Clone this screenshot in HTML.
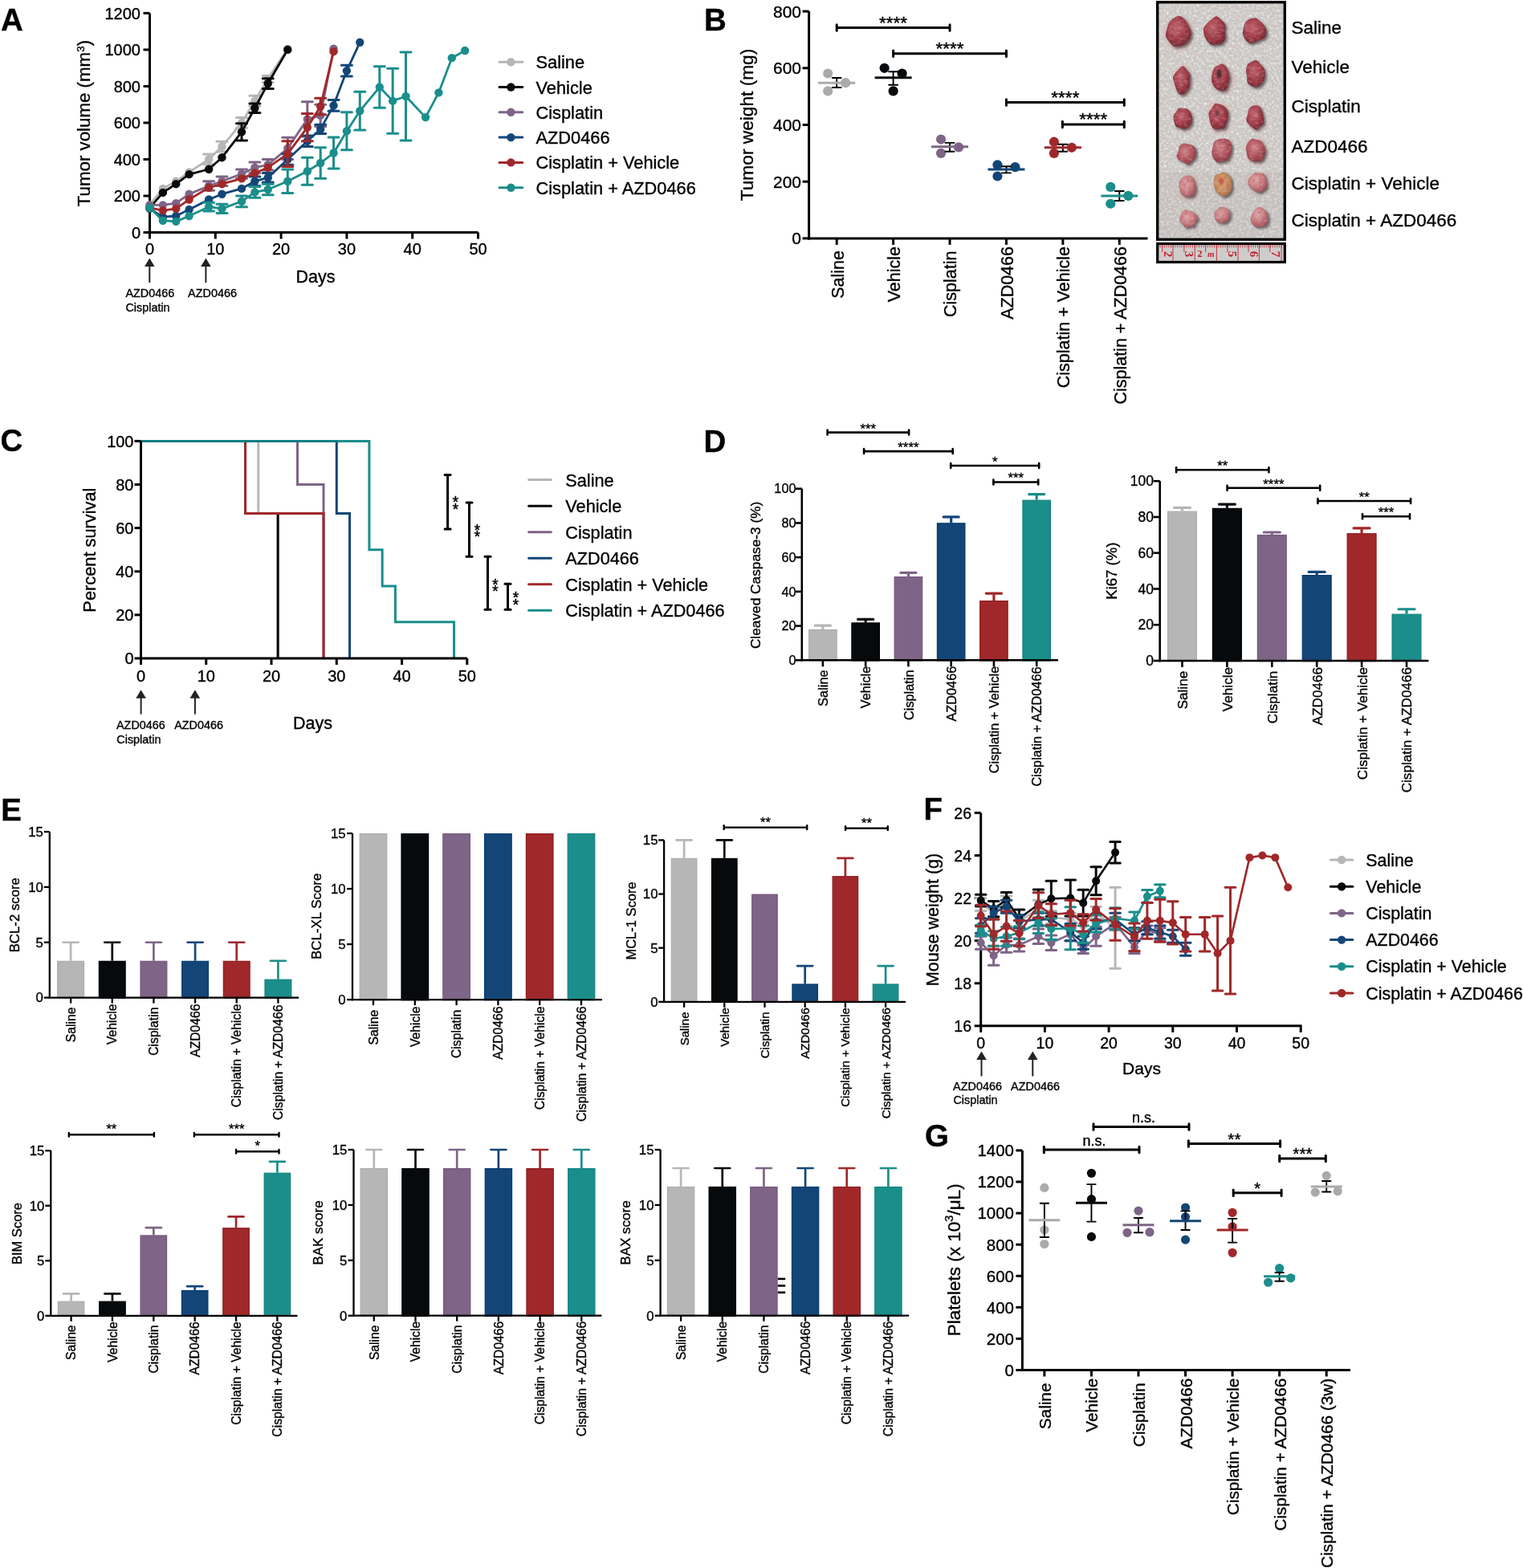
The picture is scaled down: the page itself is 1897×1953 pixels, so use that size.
<!DOCTYPE html>
<html><head><meta charset="utf-8"><style>html,body{margin:0;padding:0;background:#fff}svg{display:block} text{stroke:#000;stroke-width:0.35px} text.r{stroke:none}</style></head>
<body><svg width="1897" height="1953" viewBox="0 0 1897 1953" font-family='"Liberation Sans", Arial, sans-serif'>
<rect width="1897" height="1953" fill="#fff"/>
<text x="1" y="38" font-size="38.5" font-weight="bold">A</text>
<line x1="186.5" y1="291" x2="186.5" y2="16.4" stroke="#000" stroke-width="3" stroke-linecap="butt"/>
<line x1="178.5" y1="289.5" x2="186.5" y2="289.5" stroke="#000" stroke-width="3" stroke-linecap="butt"/>
<text x="175" y="296.8" font-size="20" text-anchor="end">0</text>
<line x1="178.5" y1="243.98" x2="186.5" y2="243.98" stroke="#000" stroke-width="3" stroke-linecap="butt"/>
<text x="175" y="251.28" font-size="20" text-anchor="end">200</text>
<line x1="178.5" y1="198.47" x2="186.5" y2="198.47" stroke="#000" stroke-width="3" stroke-linecap="butt"/>
<text x="175" y="205.77" font-size="20" text-anchor="end">400</text>
<line x1="178.5" y1="152.95" x2="186.5" y2="152.95" stroke="#000" stroke-width="3" stroke-linecap="butt"/>
<text x="175" y="160.25" font-size="20" text-anchor="end">600</text>
<line x1="178.5" y1="107.43" x2="186.5" y2="107.43" stroke="#000" stroke-width="3" stroke-linecap="butt"/>
<text x="175" y="114.73" font-size="20" text-anchor="end">800</text>
<line x1="178.5" y1="61.92" x2="186.5" y2="61.92" stroke="#000" stroke-width="3" stroke-linecap="butt"/>
<text x="175" y="69.22" font-size="20" text-anchor="end">1000</text>
<line x1="178.5" y1="16.4" x2="186.5" y2="16.4" stroke="#000" stroke-width="3" stroke-linecap="butt"/>
<text x="175" y="23.7" font-size="20" text-anchor="end">1200</text>
<line x1="185" y1="289.5" x2="595.5" y2="289.5" stroke="#000" stroke-width="3" stroke-linecap="butt"/>
<line x1="186.5" y1="289.5" x2="186.5" y2="297.5" stroke="#000" stroke-width="3" stroke-linecap="butt"/>
<text x="186.5" y="316.7" font-size="20" text-anchor="middle">0</text>
<line x1="268.3" y1="289.5" x2="268.3" y2="297.5" stroke="#000" stroke-width="3" stroke-linecap="butt"/>
<text x="268.3" y="316.7" font-size="20" text-anchor="middle">10</text>
<line x1="350.1" y1="289.5" x2="350.1" y2="297.5" stroke="#000" stroke-width="3" stroke-linecap="butt"/>
<text x="350.1" y="316.7" font-size="20" text-anchor="middle">20</text>
<line x1="431.9" y1="289.5" x2="431.9" y2="297.5" stroke="#000" stroke-width="3" stroke-linecap="butt"/>
<text x="431.9" y="316.7" font-size="20" text-anchor="middle">30</text>
<line x1="513.7" y1="289.5" x2="513.7" y2="297.5" stroke="#000" stroke-width="3" stroke-linecap="butt"/>
<text x="513.7" y="316.7" font-size="20" text-anchor="middle">40</text>
<line x1="595.5" y1="289.5" x2="595.5" y2="297.5" stroke="#000" stroke-width="3" stroke-linecap="butt"/>
<text x="595.5" y="316.7" font-size="20" text-anchor="middle">50</text>
<text x="393" y="352" font-size="21.5" text-anchor="middle">Days</text>
<text transform="translate(111.8 153.6) rotate(-90)" font-size="22.3" text-anchor="middle">Tumor volume (mm<tspan dy="-7" font-size="13.5">3</tspan><tspan dy="7">)</tspan></text>
<polyline points="186.5,255.36 202.86,234.88 219.22,225.78 235.58,214.4 260.12,198.47 276.48,182.54 301.02,152.95 317.38,125.64 333.74,98.33 358.28,60.78" fill="none" stroke="#b6b6b6" stroke-width="2.8" stroke-linejoin="round"/>
<line x1="260.12" y1="192.09" x2="260.12" y2="204.84" stroke="#b6b6b6" stroke-width="3" stroke-linecap="butt"/>
<line x1="253.62" y1="192.09" x2="266.62" y2="192.09" stroke="#b6b6b6" stroke-width="3" stroke-linecap="round"/>
<line x1="253.62" y1="204.84" x2="266.62" y2="204.84" stroke="#b6b6b6" stroke-width="3" stroke-linecap="round"/>
<line x1="276.48" y1="176.16" x2="276.48" y2="188.91" stroke="#b6b6b6" stroke-width="3" stroke-linecap="butt"/>
<line x1="269.98" y1="176.16" x2="282.98" y2="176.16" stroke="#b6b6b6" stroke-width="3" stroke-linecap="round"/>
<line x1="269.98" y1="188.91" x2="282.98" y2="188.91" stroke="#b6b6b6" stroke-width="3" stroke-linecap="round"/>
<line x1="301.02" y1="146.58" x2="301.02" y2="159.32" stroke="#b6b6b6" stroke-width="3" stroke-linecap="butt"/>
<line x1="294.52" y1="146.58" x2="307.52" y2="146.58" stroke="#b6b6b6" stroke-width="3" stroke-linecap="round"/>
<line x1="294.52" y1="159.32" x2="307.52" y2="159.32" stroke="#b6b6b6" stroke-width="3" stroke-linecap="round"/>
<line x1="317.38" y1="119.27" x2="317.38" y2="132.01" stroke="#b6b6b6" stroke-width="3" stroke-linecap="butt"/>
<line x1="310.88" y1="119.27" x2="323.88" y2="119.27" stroke="#b6b6b6" stroke-width="3" stroke-linecap="round"/>
<line x1="310.88" y1="132.01" x2="323.88" y2="132.01" stroke="#b6b6b6" stroke-width="3" stroke-linecap="round"/>
<line x1="333.74" y1="94.23" x2="333.74" y2="102.43" stroke="#b6b6b6" stroke-width="3" stroke-linecap="butt"/>
<line x1="327.24" y1="94.23" x2="340.24" y2="94.23" stroke="#b6b6b6" stroke-width="3" stroke-linecap="round"/>
<line x1="327.24" y1="102.43" x2="340.24" y2="102.43" stroke="#b6b6b6" stroke-width="3" stroke-linecap="round"/>
<circle cx="186.5" cy="255.36" r="5.2" fill="#b6b6b6"/>
<circle cx="202.86" cy="234.88" r="5.2" fill="#b6b6b6"/>
<circle cx="219.22" cy="225.78" r="5.2" fill="#b6b6b6"/>
<circle cx="235.58" cy="214.4" r="5.2" fill="#b6b6b6"/>
<circle cx="260.12" cy="198.47" r="5.2" fill="#b6b6b6"/>
<circle cx="276.48" cy="182.54" r="5.2" fill="#b6b6b6"/>
<circle cx="301.02" cy="152.95" r="5.2" fill="#b6b6b6"/>
<circle cx="317.38" cy="125.64" r="5.2" fill="#b6b6b6"/>
<circle cx="333.74" cy="98.33" r="5.2" fill="#b6b6b6"/>
<circle cx="358.28" cy="60.78" r="5.2" fill="#b6b6b6"/>
<polyline points="186.5,259 202.86,239.89 219.22,229.19 235.58,217.13 260.12,210.76 276.48,196.19 301.02,164.33 317.38,134.74 333.74,104.02 358.28,61.92" fill="none" stroke="#070a0c" stroke-width="2.8" stroke-linejoin="round"/>
<line x1="301.02" y1="153.63" x2="301.02" y2="175.03" stroke="#070a0c" stroke-width="3" stroke-linecap="butt"/>
<line x1="294.52" y1="153.63" x2="307.52" y2="153.63" stroke="#070a0c" stroke-width="3" stroke-linecap="round"/>
<line x1="294.52" y1="175.03" x2="307.52" y2="175.03" stroke="#070a0c" stroke-width="3" stroke-linecap="round"/>
<line x1="317.38" y1="129.05" x2="317.38" y2="140.43" stroke="#070a0c" stroke-width="3" stroke-linecap="butt"/>
<line x1="310.88" y1="129.05" x2="323.88" y2="129.05" stroke="#070a0c" stroke-width="3" stroke-linecap="round"/>
<line x1="310.88" y1="140.43" x2="323.88" y2="140.43" stroke="#070a0c" stroke-width="3" stroke-linecap="round"/>
<line x1="333.74" y1="97.65" x2="333.74" y2="110.39" stroke="#070a0c" stroke-width="3" stroke-linecap="butt"/>
<line x1="327.24" y1="97.65" x2="340.24" y2="97.65" stroke="#070a0c" stroke-width="3" stroke-linecap="round"/>
<line x1="327.24" y1="110.39" x2="340.24" y2="110.39" stroke="#070a0c" stroke-width="3" stroke-linecap="round"/>
<circle cx="186.5" cy="259" r="5.2" fill="#070a0c"/>
<circle cx="202.86" cy="239.89" r="5.2" fill="#070a0c"/>
<circle cx="219.22" cy="229.19" r="5.2" fill="#070a0c"/>
<circle cx="235.58" cy="217.13" r="5.2" fill="#070a0c"/>
<circle cx="260.12" cy="210.76" r="5.2" fill="#070a0c"/>
<circle cx="276.48" cy="196.19" r="5.2" fill="#070a0c"/>
<circle cx="301.02" cy="164.33" r="5.2" fill="#070a0c"/>
<circle cx="317.38" cy="134.74" r="5.2" fill="#070a0c"/>
<circle cx="333.74" cy="104.02" r="5.2" fill="#070a0c"/>
<circle cx="358.28" cy="61.92" r="5.2" fill="#070a0c"/>
<polyline points="186.5,255.36 202.86,255.36 219.22,253.09 235.58,241.71 260.12,231.47 276.48,225.78 301.02,216.67 317.38,208.71 333.74,205.29 358.28,184.81 382.82,148.4 399.18,143.85 415.54,60.78" fill="none" stroke="#7e6486" stroke-width="2.8" stroke-linejoin="round"/>
<line x1="260.12" y1="225.78" x2="260.12" y2="237.16" stroke="#7e6486" stroke-width="3" stroke-linecap="butt"/>
<line x1="253.62" y1="225.78" x2="266.62" y2="225.78" stroke="#7e6486" stroke-width="3" stroke-linecap="round"/>
<line x1="253.62" y1="237.16" x2="266.62" y2="237.16" stroke="#7e6486" stroke-width="3" stroke-linecap="round"/>
<line x1="276.48" y1="220.09" x2="276.48" y2="231.47" stroke="#7e6486" stroke-width="3" stroke-linecap="butt"/>
<line x1="269.98" y1="220.09" x2="282.98" y2="220.09" stroke="#7e6486" stroke-width="3" stroke-linecap="round"/>
<line x1="269.98" y1="231.47" x2="282.98" y2="231.47" stroke="#7e6486" stroke-width="3" stroke-linecap="round"/>
<line x1="301.02" y1="210.98" x2="301.02" y2="222.36" stroke="#7e6486" stroke-width="3" stroke-linecap="butt"/>
<line x1="294.52" y1="210.98" x2="307.52" y2="210.98" stroke="#7e6486" stroke-width="3" stroke-linecap="round"/>
<line x1="294.52" y1="222.36" x2="307.52" y2="222.36" stroke="#7e6486" stroke-width="3" stroke-linecap="round"/>
<line x1="317.38" y1="201.88" x2="317.38" y2="215.54" stroke="#7e6486" stroke-width="3" stroke-linecap="butt"/>
<line x1="310.88" y1="201.88" x2="323.88" y2="201.88" stroke="#7e6486" stroke-width="3" stroke-linecap="round"/>
<line x1="310.88" y1="215.54" x2="323.88" y2="215.54" stroke="#7e6486" stroke-width="3" stroke-linecap="round"/>
<line x1="333.74" y1="198.47" x2="333.74" y2="212.12" stroke="#7e6486" stroke-width="3" stroke-linecap="butt"/>
<line x1="327.24" y1="198.47" x2="340.24" y2="198.47" stroke="#7e6486" stroke-width="3" stroke-linecap="round"/>
<line x1="327.24" y1="212.12" x2="340.24" y2="212.12" stroke="#7e6486" stroke-width="3" stroke-linecap="round"/>
<line x1="358.28" y1="171.16" x2="358.28" y2="198.47" stroke="#7e6486" stroke-width="3" stroke-linecap="butt"/>
<line x1="351.78" y1="171.16" x2="364.78" y2="171.16" stroke="#7e6486" stroke-width="3" stroke-linecap="round"/>
<line x1="351.78" y1="198.47" x2="364.78" y2="198.47" stroke="#7e6486" stroke-width="3" stroke-linecap="round"/>
<line x1="382.82" y1="126.78" x2="382.82" y2="170.02" stroke="#7e6486" stroke-width="3" stroke-linecap="butt"/>
<line x1="376.32" y1="126.78" x2="389.32" y2="126.78" stroke="#7e6486" stroke-width="3" stroke-linecap="round"/>
<line x1="376.32" y1="170.02" x2="389.32" y2="170.02" stroke="#7e6486" stroke-width="3" stroke-linecap="round"/>
<line x1="399.18" y1="130.19" x2="399.18" y2="157.5" stroke="#7e6486" stroke-width="3" stroke-linecap="butt"/>
<line x1="392.68" y1="130.19" x2="405.68" y2="130.19" stroke="#7e6486" stroke-width="3" stroke-linecap="round"/>
<line x1="392.68" y1="157.5" x2="405.68" y2="157.5" stroke="#7e6486" stroke-width="3" stroke-linecap="round"/>
<circle cx="186.5" cy="255.36" r="5.2" fill="#7e6486"/>
<circle cx="202.86" cy="255.36" r="5.2" fill="#7e6486"/>
<circle cx="219.22" cy="253.09" r="5.2" fill="#7e6486"/>
<circle cx="235.58" cy="241.71" r="5.2" fill="#7e6486"/>
<circle cx="260.12" cy="231.47" r="5.2" fill="#7e6486"/>
<circle cx="276.48" cy="225.78" r="5.2" fill="#7e6486"/>
<circle cx="301.02" cy="216.67" r="5.2" fill="#7e6486"/>
<circle cx="317.38" cy="208.71" r="5.2" fill="#7e6486"/>
<circle cx="333.74" cy="205.29" r="5.2" fill="#7e6486"/>
<circle cx="358.28" cy="184.81" r="5.2" fill="#7e6486"/>
<circle cx="382.82" cy="148.4" r="5.2" fill="#7e6486"/>
<circle cx="399.18" cy="143.85" r="5.2" fill="#7e6486"/>
<circle cx="415.54" cy="60.78" r="5.2" fill="#7e6486"/>
<polyline points="186.5,259.91 202.86,270.16 219.22,269.02 235.58,261.05 260.12,248.53 276.48,241.71 301.02,234.88 317.38,225.78 333.74,221.22 358.28,198.47 382.82,175.71 399.18,160.92 415.54,131.33 431.9,88.09 448.26,52.81" fill="none" stroke="#134677" stroke-width="2.8" stroke-linejoin="round"/>
<line x1="317.38" y1="220.09" x2="317.38" y2="231.47" stroke="#134677" stroke-width="3" stroke-linecap="butt"/>
<line x1="310.88" y1="220.09" x2="323.88" y2="220.09" stroke="#134677" stroke-width="3" stroke-linecap="round"/>
<line x1="310.88" y1="231.47" x2="323.88" y2="231.47" stroke="#134677" stroke-width="3" stroke-linecap="round"/>
<line x1="333.74" y1="215.54" x2="333.74" y2="226.91" stroke="#134677" stroke-width="3" stroke-linecap="butt"/>
<line x1="327.24" y1="215.54" x2="340.24" y2="215.54" stroke="#134677" stroke-width="3" stroke-linecap="round"/>
<line x1="327.24" y1="226.91" x2="340.24" y2="226.91" stroke="#134677" stroke-width="3" stroke-linecap="round"/>
<line x1="358.28" y1="191.64" x2="358.28" y2="205.29" stroke="#134677" stroke-width="3" stroke-linecap="butt"/>
<line x1="351.78" y1="191.64" x2="364.78" y2="191.64" stroke="#134677" stroke-width="3" stroke-linecap="round"/>
<line x1="351.78" y1="205.29" x2="364.78" y2="205.29" stroke="#134677" stroke-width="3" stroke-linecap="round"/>
<line x1="382.82" y1="168.88" x2="382.82" y2="182.54" stroke="#134677" stroke-width="3" stroke-linecap="butt"/>
<line x1="376.32" y1="168.88" x2="389.32" y2="168.88" stroke="#134677" stroke-width="3" stroke-linecap="round"/>
<line x1="376.32" y1="182.54" x2="389.32" y2="182.54" stroke="#134677" stroke-width="3" stroke-linecap="round"/>
<line x1="399.18" y1="155.23" x2="399.18" y2="166.6" stroke="#134677" stroke-width="3" stroke-linecap="butt"/>
<line x1="392.68" y1="155.23" x2="405.68" y2="155.23" stroke="#134677" stroke-width="3" stroke-linecap="round"/>
<line x1="392.68" y1="166.6" x2="405.68" y2="166.6" stroke="#134677" stroke-width="3" stroke-linecap="round"/>
<line x1="415.54" y1="124.5" x2="415.54" y2="138.16" stroke="#134677" stroke-width="3" stroke-linecap="butt"/>
<line x1="409.04" y1="124.5" x2="422.04" y2="124.5" stroke="#134677" stroke-width="3" stroke-linecap="round"/>
<line x1="409.04" y1="138.16" x2="422.04" y2="138.16" stroke="#134677" stroke-width="3" stroke-linecap="round"/>
<line x1="431.9" y1="81.26" x2="431.9" y2="94.92" stroke="#134677" stroke-width="3" stroke-linecap="butt"/>
<line x1="425.4" y1="81.26" x2="438.4" y2="81.26" stroke="#134677" stroke-width="3" stroke-linecap="round"/>
<line x1="425.4" y1="94.92" x2="438.4" y2="94.92" stroke="#134677" stroke-width="3" stroke-linecap="round"/>
<circle cx="186.5" cy="259.91" r="5.2" fill="#134677"/>
<circle cx="202.86" cy="270.16" r="5.2" fill="#134677"/>
<circle cx="219.22" cy="269.02" r="5.2" fill="#134677"/>
<circle cx="235.58" cy="261.05" r="5.2" fill="#134677"/>
<circle cx="260.12" cy="248.53" r="5.2" fill="#134677"/>
<circle cx="276.48" cy="241.71" r="5.2" fill="#134677"/>
<circle cx="301.02" cy="234.88" r="5.2" fill="#134677"/>
<circle cx="317.38" cy="225.78" r="5.2" fill="#134677"/>
<circle cx="333.74" cy="221.22" r="5.2" fill="#134677"/>
<circle cx="358.28" cy="198.47" r="5.2" fill="#134677"/>
<circle cx="382.82" cy="175.71" r="5.2" fill="#134677"/>
<circle cx="399.18" cy="160.92" r="5.2" fill="#134677"/>
<circle cx="415.54" cy="131.33" r="5.2" fill="#134677"/>
<circle cx="431.9" cy="88.09" r="5.2" fill="#134677"/>
<circle cx="448.26" cy="52.81" r="5.2" fill="#134677"/>
<polyline points="186.5,258.78 202.86,262.19 219.22,259.91 235.58,248.53 260.12,233.74 276.48,229.19 301.02,222.36 317.38,215.54 333.74,208.71 358.28,191.64 382.82,158.64 399.18,132.47 415.54,64.19" fill="none" stroke="#a0282a" stroke-width="2.8" stroke-linejoin="round"/>
<line x1="358.28" y1="175.71" x2="358.28" y2="207.57" stroke="#a0282a" stroke-width="3" stroke-linecap="butt"/>
<line x1="351.78" y1="175.71" x2="364.78" y2="175.71" stroke="#a0282a" stroke-width="3" stroke-linecap="round"/>
<line x1="351.78" y1="207.57" x2="364.78" y2="207.57" stroke="#a0282a" stroke-width="3" stroke-linecap="round"/>
<line x1="382.82" y1="141.57" x2="382.82" y2="175.71" stroke="#a0282a" stroke-width="3" stroke-linecap="butt"/>
<line x1="376.32" y1="141.57" x2="389.32" y2="141.57" stroke="#a0282a" stroke-width="3" stroke-linecap="round"/>
<line x1="376.32" y1="175.71" x2="389.32" y2="175.71" stroke="#a0282a" stroke-width="3" stroke-linecap="round"/>
<line x1="399.18" y1="122.23" x2="399.18" y2="142.71" stroke="#a0282a" stroke-width="3" stroke-linecap="butt"/>
<line x1="392.68" y1="122.23" x2="405.68" y2="122.23" stroke="#a0282a" stroke-width="3" stroke-linecap="round"/>
<line x1="392.68" y1="142.71" x2="405.68" y2="142.71" stroke="#a0282a" stroke-width="3" stroke-linecap="round"/>
<circle cx="186.5" cy="258.78" r="5.2" fill="#a0282a"/>
<circle cx="202.86" cy="262.19" r="5.2" fill="#a0282a"/>
<circle cx="219.22" cy="259.91" r="5.2" fill="#a0282a"/>
<circle cx="235.58" cy="248.53" r="5.2" fill="#a0282a"/>
<circle cx="260.12" cy="233.74" r="5.2" fill="#a0282a"/>
<circle cx="276.48" cy="229.19" r="5.2" fill="#a0282a"/>
<circle cx="301.02" cy="222.36" r="5.2" fill="#a0282a"/>
<circle cx="317.38" cy="215.54" r="5.2" fill="#a0282a"/>
<circle cx="333.74" cy="208.71" r="5.2" fill="#a0282a"/>
<circle cx="358.28" cy="191.64" r="5.2" fill="#a0282a"/>
<circle cx="382.82" cy="158.64" r="5.2" fill="#a0282a"/>
<circle cx="399.18" cy="132.47" r="5.2" fill="#a0282a"/>
<circle cx="415.54" cy="64.19" r="5.2" fill="#a0282a"/>
<polyline points="186.5,258.78 202.86,274.71 219.22,275.85 235.58,269.02 260.12,257.64 276.48,259.91 301.02,250.81 317.38,239.43 333.74,236.02 358.28,225.78 382.82,213.26 399.18,203.02 415.54,190.5 431.9,163.19 448.26,138.16 472.8,108.57 489.16,125.64 505.52,119.95 530.06,146.12 546.42,115.4 562.78,72.16 579.14,63.05" fill="none" stroke="#1b8e8b" stroke-width="2.8" stroke-linejoin="round"/>
<line x1="260.12" y1="252.18" x2="260.12" y2="263.1" stroke="#1b8e8b" stroke-width="3" stroke-linecap="butt"/>
<line x1="253.62" y1="252.18" x2="266.62" y2="252.18" stroke="#1b8e8b" stroke-width="3" stroke-linecap="round"/>
<line x1="253.62" y1="263.1" x2="266.62" y2="263.1" stroke="#1b8e8b" stroke-width="3" stroke-linecap="round"/>
<line x1="276.48" y1="254.22" x2="276.48" y2="265.6" stroke="#1b8e8b" stroke-width="3" stroke-linecap="butt"/>
<line x1="269.98" y1="254.22" x2="282.98" y2="254.22" stroke="#1b8e8b" stroke-width="3" stroke-linecap="round"/>
<line x1="269.98" y1="265.6" x2="282.98" y2="265.6" stroke="#1b8e8b" stroke-width="3" stroke-linecap="round"/>
<line x1="301.02" y1="243.98" x2="301.02" y2="257.64" stroke="#1b8e8b" stroke-width="3" stroke-linecap="butt"/>
<line x1="294.52" y1="243.98" x2="307.52" y2="243.98" stroke="#1b8e8b" stroke-width="3" stroke-linecap="round"/>
<line x1="294.52" y1="257.64" x2="307.52" y2="257.64" stroke="#1b8e8b" stroke-width="3" stroke-linecap="round"/>
<line x1="317.38" y1="232.6" x2="317.38" y2="246.26" stroke="#1b8e8b" stroke-width="3" stroke-linecap="butt"/>
<line x1="310.88" y1="232.6" x2="323.88" y2="232.6" stroke="#1b8e8b" stroke-width="3" stroke-linecap="round"/>
<line x1="310.88" y1="246.26" x2="323.88" y2="246.26" stroke="#1b8e8b" stroke-width="3" stroke-linecap="round"/>
<line x1="333.74" y1="229.19" x2="333.74" y2="242.85" stroke="#1b8e8b" stroke-width="3" stroke-linecap="butt"/>
<line x1="327.24" y1="229.19" x2="340.24" y2="229.19" stroke="#1b8e8b" stroke-width="3" stroke-linecap="round"/>
<line x1="327.24" y1="242.85" x2="340.24" y2="242.85" stroke="#1b8e8b" stroke-width="3" stroke-linecap="round"/>
<line x1="358.28" y1="210.98" x2="358.28" y2="240.57" stroke="#1b8e8b" stroke-width="3" stroke-linecap="butt"/>
<line x1="351.78" y1="210.98" x2="364.78" y2="210.98" stroke="#1b8e8b" stroke-width="3" stroke-linecap="round"/>
<line x1="351.78" y1="240.57" x2="364.78" y2="240.57" stroke="#1b8e8b" stroke-width="3" stroke-linecap="round"/>
<line x1="382.82" y1="196.19" x2="382.82" y2="230.33" stroke="#1b8e8b" stroke-width="3" stroke-linecap="butt"/>
<line x1="376.32" y1="196.19" x2="389.32" y2="196.19" stroke="#1b8e8b" stroke-width="3" stroke-linecap="round"/>
<line x1="376.32" y1="230.33" x2="389.32" y2="230.33" stroke="#1b8e8b" stroke-width="3" stroke-linecap="round"/>
<line x1="399.18" y1="183.67" x2="399.18" y2="222.36" stroke="#1b8e8b" stroke-width="3" stroke-linecap="butt"/>
<line x1="392.68" y1="183.67" x2="405.68" y2="183.67" stroke="#1b8e8b" stroke-width="3" stroke-linecap="round"/>
<line x1="392.68" y1="222.36" x2="405.68" y2="222.36" stroke="#1b8e8b" stroke-width="3" stroke-linecap="round"/>
<line x1="415.54" y1="170.93" x2="415.54" y2="210.07" stroke="#1b8e8b" stroke-width="3" stroke-linecap="butt"/>
<line x1="409.04" y1="170.93" x2="422.04" y2="170.93" stroke="#1b8e8b" stroke-width="3" stroke-linecap="round"/>
<line x1="409.04" y1="210.07" x2="422.04" y2="210.07" stroke="#1b8e8b" stroke-width="3" stroke-linecap="round"/>
<line x1="431.9" y1="139.75" x2="431.9" y2="186.63" stroke="#1b8e8b" stroke-width="3" stroke-linecap="butt"/>
<line x1="425.4" y1="139.75" x2="438.4" y2="139.75" stroke="#1b8e8b" stroke-width="3" stroke-linecap="round"/>
<line x1="425.4" y1="186.63" x2="438.4" y2="186.63" stroke="#1b8e8b" stroke-width="3" stroke-linecap="round"/>
<line x1="448.26" y1="114.26" x2="448.26" y2="162.05" stroke="#1b8e8b" stroke-width="3" stroke-linecap="butt"/>
<line x1="441.76" y1="114.26" x2="454.76" y2="114.26" stroke="#1b8e8b" stroke-width="3" stroke-linecap="round"/>
<line x1="441.76" y1="162.05" x2="454.76" y2="162.05" stroke="#1b8e8b" stroke-width="3" stroke-linecap="round"/>
<line x1="472.8" y1="82.85" x2="472.8" y2="134.29" stroke="#1b8e8b" stroke-width="3" stroke-linecap="butt"/>
<line x1="466.3" y1="82.85" x2="479.3" y2="82.85" stroke="#1b8e8b" stroke-width="3" stroke-linecap="round"/>
<line x1="466.3" y1="134.29" x2="479.3" y2="134.29" stroke="#1b8e8b" stroke-width="3" stroke-linecap="round"/>
<line x1="489.16" y1="85.13" x2="489.16" y2="166.15" stroke="#1b8e8b" stroke-width="3" stroke-linecap="butt"/>
<line x1="482.66" y1="85.13" x2="495.66" y2="85.13" stroke="#1b8e8b" stroke-width="3" stroke-linecap="round"/>
<line x1="482.66" y1="166.15" x2="495.66" y2="166.15" stroke="#1b8e8b" stroke-width="3" stroke-linecap="round"/>
<line x1="505.52" y1="64.88" x2="505.52" y2="175.03" stroke="#1b8e8b" stroke-width="3" stroke-linecap="butt"/>
<line x1="499.02" y1="64.88" x2="512.02" y2="64.88" stroke="#1b8e8b" stroke-width="3" stroke-linecap="round"/>
<line x1="499.02" y1="175.03" x2="512.02" y2="175.03" stroke="#1b8e8b" stroke-width="3" stroke-linecap="round"/>
<circle cx="186.5" cy="258.78" r="5.2" fill="#1b8e8b"/>
<circle cx="202.86" cy="274.71" r="5.2" fill="#1b8e8b"/>
<circle cx="219.22" cy="275.85" r="5.2" fill="#1b8e8b"/>
<circle cx="235.58" cy="269.02" r="5.2" fill="#1b8e8b"/>
<circle cx="260.12" cy="257.64" r="5.2" fill="#1b8e8b"/>
<circle cx="276.48" cy="259.91" r="5.2" fill="#1b8e8b"/>
<circle cx="301.02" cy="250.81" r="5.2" fill="#1b8e8b"/>
<circle cx="317.38" cy="239.43" r="5.2" fill="#1b8e8b"/>
<circle cx="333.74" cy="236.02" r="5.2" fill="#1b8e8b"/>
<circle cx="358.28" cy="225.78" r="5.2" fill="#1b8e8b"/>
<circle cx="382.82" cy="213.26" r="5.2" fill="#1b8e8b"/>
<circle cx="399.18" cy="203.02" r="5.2" fill="#1b8e8b"/>
<circle cx="415.54" cy="190.5" r="5.2" fill="#1b8e8b"/>
<circle cx="431.9" cy="163.19" r="5.2" fill="#1b8e8b"/>
<circle cx="448.26" cy="138.16" r="5.2" fill="#1b8e8b"/>
<circle cx="472.8" cy="108.57" r="5.2" fill="#1b8e8b"/>
<circle cx="489.16" cy="125.64" r="5.2" fill="#1b8e8b"/>
<circle cx="505.52" cy="119.95" r="5.2" fill="#1b8e8b"/>
<circle cx="530.06" cy="146.12" r="5.2" fill="#1b8e8b"/>
<circle cx="546.42" cy="115.4" r="5.2" fill="#1b8e8b"/>
<circle cx="562.78" cy="72.16" r="5.2" fill="#1b8e8b"/>
<circle cx="579.14" cy="63.05" r="5.2" fill="#1b8e8b"/>
<line x1="622" y1="77.2" x2="650.8" y2="77.2" stroke="#b6b6b6" stroke-width="3" stroke-linecap="round"/>
<circle cx="636.4" cy="77.2" r="5.2" fill="#b6b6b6"/>
<text x="667.5" y="85.2" font-size="21.8">Saline</text>
<line x1="622" y1="108.5" x2="650.8" y2="108.5" stroke="#070a0c" stroke-width="3" stroke-linecap="round"/>
<circle cx="636.4" cy="108.5" r="5.2" fill="#070a0c"/>
<text x="667.5" y="116.5" font-size="21.8">Vehicle</text>
<line x1="622" y1="139.8" x2="650.8" y2="139.8" stroke="#7e6486" stroke-width="3" stroke-linecap="round"/>
<circle cx="636.4" cy="139.8" r="5.2" fill="#7e6486"/>
<text x="667.5" y="147.8" font-size="21.8">Cisplatin</text>
<line x1="622" y1="171.1" x2="650.8" y2="171.1" stroke="#134677" stroke-width="3" stroke-linecap="round"/>
<circle cx="636.4" cy="171.1" r="5.2" fill="#134677"/>
<text x="667.5" y="179.1" font-size="21.8">AZD0466</text>
<line x1="622" y1="202.4" x2="650.8" y2="202.4" stroke="#a0282a" stroke-width="3" stroke-linecap="round"/>
<circle cx="636.4" cy="202.4" r="5.2" fill="#a0282a"/>
<text x="667.5" y="210.4" font-size="21.8">Cisplatin + Vehicle</text>
<line x1="622" y1="233.7" x2="650.8" y2="233.7" stroke="#1b8e8b" stroke-width="3" stroke-linecap="round"/>
<circle cx="636.4" cy="233.7" r="5.2" fill="#1b8e8b"/>
<text x="667.5" y="241.7" font-size="21.8">Cisplatin + AZD0466</text>
<path d="M186.3 321.5 L180 332 L192.6 332 Z" fill="#222"/>
<line x1="186.3" y1="331" x2="186.3" y2="352" stroke="#222" stroke-width="2" stroke-linecap="butt"/>
<path d="M256.4 321.5 L250.1 332 L262.7 332 Z" fill="#222"/>
<line x1="256.4" y1="331" x2="256.4" y2="352" stroke="#222" stroke-width="2" stroke-linecap="butt"/>
<text x="186.8" y="370.4" font-size="14.4" text-anchor="middle">AZD0466</text>
<text x="156.4" y="388.4" font-size="14.4">Cisplatin</text>
<text x="264.5" y="370.4" font-size="14.4" text-anchor="middle">AZD0466</text>
<text x="877" y="38.3" font-size="38.5" font-weight="bold">B</text>
<line x1="1007.6" y1="298.4" x2="1007.6" y2="14.1" stroke="#000" stroke-width="3" stroke-linecap="butt"/>
<line x1="999.6" y1="296.9" x2="1007.6" y2="296.9" stroke="#000" stroke-width="3" stroke-linecap="butt"/>
<text x="998" y="304.4" font-size="21" text-anchor="end">0</text>
<line x1="999.6" y1="226.2" x2="1007.6" y2="226.2" stroke="#000" stroke-width="3" stroke-linecap="butt"/>
<text x="998" y="233.7" font-size="21" text-anchor="end">200</text>
<line x1="999.6" y1="155.5" x2="1007.6" y2="155.5" stroke="#000" stroke-width="3" stroke-linecap="butt"/>
<text x="998" y="163" font-size="21" text-anchor="end">400</text>
<line x1="999.6" y1="84.8" x2="1007.6" y2="84.8" stroke="#000" stroke-width="3" stroke-linecap="butt"/>
<text x="998" y="92.3" font-size="21" text-anchor="end">600</text>
<line x1="999.6" y1="14.1" x2="1007.6" y2="14.1" stroke="#000" stroke-width="3" stroke-linecap="butt"/>
<text x="998" y="21.6" font-size="21" text-anchor="end">800</text>
<line x1="1006.1" y1="296.9" x2="1429.5" y2="296.9" stroke="#000" stroke-width="3" stroke-linecap="butt"/>
<line x1="1042.2" y1="296.9" x2="1042.2" y2="304.9" stroke="#000" stroke-width="3" stroke-linecap="butt"/>
<line x1="1112.62" y1="296.9" x2="1112.62" y2="304.9" stroke="#000" stroke-width="3" stroke-linecap="butt"/>
<line x1="1183.04" y1="296.9" x2="1183.04" y2="304.9" stroke="#000" stroke-width="3" stroke-linecap="butt"/>
<line x1="1253.46" y1="296.9" x2="1253.46" y2="304.9" stroke="#000" stroke-width="3" stroke-linecap="butt"/>
<line x1="1323.88" y1="296.9" x2="1323.88" y2="304.9" stroke="#000" stroke-width="3" stroke-linecap="butt"/>
<line x1="1394.3" y1="296.9" x2="1394.3" y2="304.9" stroke="#000" stroke-width="3" stroke-linecap="butt"/>
<text transform="translate(1050.5 312) rotate(-90)" font-size="21.5" text-anchor="end">Saline</text>
<text transform="translate(1120.92 307) rotate(-90)" font-size="21.5" text-anchor="end">Vehicle</text>
<text transform="translate(1191.34 312.5) rotate(-90)" font-size="21.5" text-anchor="end">Cisplatin</text>
<text transform="translate(1261.76 307) rotate(-90)" font-size="21.5" text-anchor="end">AZD0466</text>
<text transform="translate(1332.18 307) rotate(-90)" font-size="21.5" text-anchor="end">Cisplatin + Vehicle</text>
<text transform="translate(1402.6 307) rotate(-90)" font-size="21.5" text-anchor="end">Cisplatin + AZD0466</text>
<text transform="translate(937.8 155.5) rotate(-90)" font-size="22.7" text-anchor="middle">Tumor weight (mg)</text>
<circle cx="1031.2" cy="91.52" r="6.1" fill="#aaaaaa"/>
<circle cx="1031.2" cy="113.43" r="6.1" fill="#aaaaaa"/>
<circle cx="1053.2" cy="103.18" r="6.1" fill="#aaaaaa"/>
<line x1="1042.2" y1="97" x2="1042.2" y2="109" stroke="#000" stroke-width="1.9" stroke-linecap="butt"/>
<line x1="1036.7" y1="97" x2="1047.7" y2="97" stroke="#000" stroke-width="1.9" stroke-linecap="round"/>
<line x1="1036.7" y1="109" x2="1047.7" y2="109" stroke="#000" stroke-width="1.9" stroke-linecap="round"/>
<line x1="1019.2" y1="103.18" x2="1065.2" y2="103.18" stroke="#aaaaaa" stroke-width="3" stroke-linecap="butt"/>
<circle cx="1101.62" cy="84.8" r="6.1" fill="#070a0c"/>
<circle cx="1123.62" cy="91.52" r="6.1" fill="#070a0c"/>
<circle cx="1112.62" cy="113.43" r="6.1" fill="#070a0c"/>
<line x1="1112.62" y1="89.2" x2="1112.62" y2="105.8" stroke="#000" stroke-width="1.9" stroke-linecap="butt"/>
<line x1="1107.12" y1="89.2" x2="1118.12" y2="89.2" stroke="#000" stroke-width="1.9" stroke-linecap="round"/>
<line x1="1107.12" y1="105.8" x2="1118.12" y2="105.8" stroke="#000" stroke-width="1.9" stroke-linecap="round"/>
<line x1="1089.62" y1="96.82" x2="1135.62" y2="96.82" stroke="#070a0c" stroke-width="3" stroke-linecap="butt"/>
<circle cx="1172.04" cy="173.53" r="6.1" fill="#7e6486"/>
<circle cx="1172.04" cy="190.85" r="6.1" fill="#7e6486"/>
<circle cx="1194.04" cy="183.43" r="6.1" fill="#7e6486"/>
<line x1="1183.04" y1="177.9" x2="1183.04" y2="188.7" stroke="#000" stroke-width="1.9" stroke-linecap="butt"/>
<line x1="1177.54" y1="177.9" x2="1188.54" y2="177.9" stroke="#000" stroke-width="1.9" stroke-linecap="round"/>
<line x1="1177.54" y1="188.7" x2="1188.54" y2="188.7" stroke="#000" stroke-width="1.9" stroke-linecap="round"/>
<line x1="1160.04" y1="182.72" x2="1206.04" y2="182.72" stroke="#7e6486" stroke-width="3" stroke-linecap="butt"/>
<circle cx="1242.46" cy="205.34" r="6.1" fill="#134677"/>
<circle cx="1242.46" cy="219.48" r="6.1" fill="#134677"/>
<circle cx="1264.46" cy="208.17" r="6.1" fill="#134677"/>
<line x1="1253.46" y1="207.3" x2="1253.46" y2="215.4" stroke="#000" stroke-width="1.9" stroke-linecap="butt"/>
<line x1="1247.96" y1="207.3" x2="1258.96" y2="207.3" stroke="#000" stroke-width="1.9" stroke-linecap="round"/>
<line x1="1247.96" y1="215.4" x2="1258.96" y2="215.4" stroke="#000" stroke-width="1.9" stroke-linecap="round"/>
<line x1="1230.46" y1="211" x2="1276.46" y2="211" stroke="#134677" stroke-width="3" stroke-linecap="butt"/>
<circle cx="1312.88" cy="176.71" r="6.1" fill="#a0282a"/>
<circle cx="1312.88" cy="190.85" r="6.1" fill="#a0282a"/>
<circle cx="1334.88" cy="183.78" r="6.1" fill="#a0282a"/>
<line x1="1323.88" y1="179.7" x2="1323.88" y2="188.7" stroke="#000" stroke-width="1.9" stroke-linecap="butt"/>
<line x1="1318.38" y1="179.7" x2="1329.38" y2="179.7" stroke="#000" stroke-width="1.9" stroke-linecap="round"/>
<line x1="1318.38" y1="188.7" x2="1329.38" y2="188.7" stroke="#000" stroke-width="1.9" stroke-linecap="round"/>
<line x1="1300.88" y1="183.78" x2="1346.88" y2="183.78" stroke="#a0282a" stroke-width="3" stroke-linecap="butt"/>
<circle cx="1383.3" cy="232.92" r="6.1" fill="#1b8e8b"/>
<circle cx="1383.3" cy="253.77" r="6.1" fill="#1b8e8b"/>
<circle cx="1405.3" cy="243.88" r="6.1" fill="#1b8e8b"/>
<line x1="1394.3" y1="238" x2="1394.3" y2="250" stroke="#000" stroke-width="1.9" stroke-linecap="butt"/>
<line x1="1388.8" y1="238" x2="1399.8" y2="238" stroke="#000" stroke-width="1.9" stroke-linecap="round"/>
<line x1="1388.8" y1="250" x2="1399.8" y2="250" stroke="#000" stroke-width="1.9" stroke-linecap="round"/>
<line x1="1371.3" y1="243.88" x2="1417.3" y2="243.88" stroke="#1b8e8b" stroke-width="3" stroke-linecap="butt"/>
<line x1="1042.2" y1="34.6" x2="1183.04" y2="34.6" stroke="#000" stroke-width="3" stroke-linecap="butt"/>
<line x1="1042.2" y1="30.85" x2="1042.2" y2="38.35" stroke="#000" stroke-width="3" stroke-linecap="round"/>
<line x1="1183.04" y1="30.85" x2="1183.04" y2="38.35" stroke="#000" stroke-width="3" stroke-linecap="round"/>
<text x="1112.62" y="35.8" font-size="22.5" text-anchor="middle" stroke="#000" stroke-width="0.56">****</text>
<line x1="1112.62" y1="66.7" x2="1253.46" y2="66.7" stroke="#000" stroke-width="3" stroke-linecap="butt"/>
<line x1="1112.62" y1="62.95" x2="1112.62" y2="70.45" stroke="#000" stroke-width="3" stroke-linecap="round"/>
<line x1="1253.46" y1="62.95" x2="1253.46" y2="70.45" stroke="#000" stroke-width="3" stroke-linecap="round"/>
<text x="1183.04" y="67.9" font-size="22.5" text-anchor="middle" stroke="#000" stroke-width="0.56">****</text>
<line x1="1253.46" y1="127.4" x2="1400.3" y2="127.4" stroke="#000" stroke-width="3" stroke-linecap="butt"/>
<line x1="1253.46" y1="123.65" x2="1253.46" y2="131.15" stroke="#000" stroke-width="3" stroke-linecap="round"/>
<line x1="1400.3" y1="123.65" x2="1400.3" y2="131.15" stroke="#000" stroke-width="3" stroke-linecap="round"/>
<text x="1326.88" y="128.6" font-size="22.5" text-anchor="middle" stroke="#000" stroke-width="0.56">****</text>
<line x1="1323.38" y1="155" x2="1400.3" y2="155" stroke="#000" stroke-width="3" stroke-linecap="butt"/>
<line x1="1323.38" y1="151.25" x2="1323.38" y2="158.75" stroke="#000" stroke-width="3" stroke-linecap="round"/>
<line x1="1400.3" y1="151.25" x2="1400.3" y2="158.75" stroke="#000" stroke-width="3" stroke-linecap="round"/>
<text x="1361.84" y="156.2" font-size="22.5" text-anchor="middle" stroke="#000" stroke-width="0.56">****</text>
<defs>
<filter id="paper" x="0" y="0" width="100%" height="100%">
 <feTurbulence type="fractalNoise" baseFrequency="0.32" numOctaves="3" seed="7" result="n"/>
 <feColorMatrix in="n" type="matrix" values="0 0 0 0 1  0 0 0 0 1  0 0 0 0 1  2.4 0 0 0 -1.05"/>
</filter>
<filter id="paperd" x="0" y="0" width="100%" height="100%">
 <feTurbulence type="fractalNoise" baseFrequency="0.4" numOctaves="2" seed="11" result="n"/>
 <feColorMatrix in="n" type="matrix" values="0 0 0 0 0.45  0 0 0 0 0.42  0 0 0 0 0.4  -1.8 0 0 0 0.82"/>
</filter>
<filter id="shad" x="-50%" y="-50%" width="200%" height="200%"><feGaussianBlur stdDeviation="1.6"/></filter>
<filter id="soft" x="-50%" y="-50%" width="200%" height="200%"><feGaussianBlur stdDeviation="0.9"/></filter>
<filter id="tex" x="0" y="0" width="100%" height="100%">
 <feTurbulence type="fractalNoise" baseFrequency="0.16 0.3" numOctaves="3" seed="4" result="n"/>
 <feColorMatrix in="n" type="matrix" values="0 0 0 0 0.93  0 0 0 0 0.68  0 0 0 0 0.70  2.6 0 0 0 -1.2"/>
 <feComposite in2="SourceGraphic" operator="in"/>
</filter>
<filter id="tex2" x="0" y="0" width="100%" height="100%">
 <feTurbulence type="fractalNoise" baseFrequency="0.22" numOctaves="2" seed="9" result="n"/>
 <feColorMatrix in="n" type="matrix" values="0 0 0 0 0.55  0 0 0 0 0.08  0 0 0 0 0.14  0 2.8 0 0 -1.35"/>
 <feComposite in2="SourceGraphic" operator="in"/>
</filter>
<radialGradient id="tA" cx="42%" cy="38%" r="65%"><stop offset="0" stop-color="#bd666e"/><stop offset="0.55" stop-color="#9c3c46"/><stop offset="1" stop-color="#70252e"/></radialGradient>
<radialGradient id="tB" cx="42%" cy="38%" r="65%"><stop offset="0" stop-color="#dca8a6"/><stop offset="0.55" stop-color="#c77e80"/><stop offset="1" stop-color="#9c5156"/></radialGradient>
<radialGradient id="tC" cx="45%" cy="45%" r="62%"><stop offset="0" stop-color="#d6a870"/><stop offset="0.6" stop-color="#c48e5a"/><stop offset="1" stop-color="#9a5f3e"/></radialGradient>
<radialGradient id="tD" cx="42%" cy="38%" r="65%"><stop offset="0" stop-color="#cc8a8c"/><stop offset="0.55" stop-color="#b0545d"/><stop offset="1" stop-color="#83363e"/></radialGradient>
<clipPath id="pclip"><rect x="1443" y="4.5" width="156" height="292"/></clipPath>
</defs>
<g clip-path="url(#pclip)">
<rect x="1443" y="4.5" width="156" height="292" fill="#cbc7c4"/>
<rect x="1443" y="4.5" width="156" height="292" filter="url(#paper)" opacity="0.7"/>
<rect x="1443" y="4.5" width="156" height="292" filter="url(#paperd)" opacity="0.5"/>
<rect x="1443" y="214.5" width="156" height="82" fill="#9d9894" opacity="0.12"/>
<path d="M1484.9 41.0 C1484.4 45.0 1485.5 48.4 1484.5 51.9 C1483.5 55.4 1481.5 59.9 1478.8 62.1 C1476.1 64.3 1471.9 64.9 1468.5 64.8 C1465.1 64.8 1461.0 64.0 1458.3 61.8 C1455.7 59.7 1454.4 55.3 1452.7 51.8 C1450.9 48.4 1447.8 44.7 1447.7 41.0 C1447.6 37.3 1449.9 32.5 1452.1 29.8 C1454.2 27.0 1457.8 26.4 1460.5 24.7 C1463.3 22.9 1465.9 19.1 1468.5 19.2 C1471.1 19.2 1473.2 23.4 1476.3 24.9 C1479.5 26.4 1485.9 25.5 1487.3 28.2 C1488.7 30.9 1485.3 37.0 1484.9 41.0Z" fill="#d9b3ae" opacity="0.45" filter="url(#soft)"/>
<path d="M1486.2 42.2 C1486.4 45.1 1485.3 48.9 1484.0 51.5 C1482.7 54.0 1480.3 56.0 1478.2 57.5 C1476.1 58.9 1473.8 59.5 1471.4 59.9 C1469.1 60.3 1466.4 60.8 1464.3 59.9 C1462.1 59.0 1460.2 56.6 1458.5 54.5 C1456.8 52.3 1454.4 49.8 1453.9 47.0 C1453.4 44.2 1454.8 40.8 1455.5 37.9 C1456.2 35.0 1456.9 32.0 1458.3 29.8 C1459.8 27.5 1461.9 25.6 1464.2 24.2 C1466.4 22.9 1469.3 21.4 1471.7 21.8 C1474.1 22.2 1476.6 24.6 1478.4 26.7 C1480.2 28.7 1481.3 31.3 1482.6 33.9 C1483.9 36.4 1485.9 39.3 1486.2 42.2Z" fill="#4d4246" opacity="0.75" filter="url(#shad)"/>
<path d="M1483.6 40.0 C1483.9 42.9 1482.8 46.6 1481.5 49.1 C1480.2 51.6 1477.9 53.6 1475.9 55.0 C1473.8 56.3 1471.5 57.0 1469.2 57.4 C1466.9 57.8 1464.3 58.2 1462.2 57.3 C1460.1 56.4 1458.2 54.1 1456.5 52.0 C1454.8 49.9 1452.5 47.4 1452.0 44.7 C1451.5 42.0 1452.8 38.6 1453.6 35.8 C1454.3 32.9 1454.9 30.0 1456.3 27.8 C1457.7 25.6 1459.9 23.7 1462.1 22.4 C1464.3 21.1 1467.1 19.6 1469.5 20.0 C1471.8 20.4 1474.3 22.8 1476.0 24.8 C1477.8 26.7 1478.9 29.3 1480.1 31.8 C1481.4 34.4 1483.4 37.1 1483.6 40.0Z" fill="url(#tA)"/>
<path d="M1482.8 40.0 C1483.1 42.7 1482.1 46.3 1480.8 48.6 C1479.6 51.0 1477.4 52.9 1475.5 54.2 C1473.5 55.5 1471.3 56.1 1469.1 56.5 C1467.0 56.9 1464.4 57.3 1462.4 56.5 C1460.4 55.6 1458.7 53.4 1457.1 51.4 C1455.5 49.4 1453.3 47.0 1452.8 44.5 C1452.3 41.9 1453.6 38.7 1454.3 36.0 C1454.9 33.3 1455.5 30.5 1456.9 28.4 C1458.2 26.3 1460.3 24.5 1462.4 23.3 C1464.4 22.0 1467.2 20.6 1469.4 21.0 C1471.6 21.4 1473.9 23.6 1475.6 25.5 C1477.3 27.4 1478.3 29.8 1479.5 32.2 C1480.7 34.6 1482.6 37.3 1482.8 40.0Z" fill="#000" filter="url(#tex)" opacity="0.3"/>
<path d="M1482.3 40.0 C1482.6 42.6 1481.6 46.1 1480.4 48.4 C1479.2 50.7 1477.1 52.5 1475.2 53.8 C1473.3 55.0 1471.2 55.6 1469.1 56.0 C1467.0 56.4 1464.5 56.8 1462.6 56.0 C1460.6 55.1 1458.9 53.0 1457.4 51.1 C1455.8 49.1 1453.7 46.8 1453.3 44.3 C1452.8 41.8 1454.0 38.7 1454.7 36.1 C1455.3 33.5 1455.9 30.8 1457.2 28.8 C1458.5 26.7 1460.5 25.0 1462.5 23.8 C1464.5 22.6 1467.2 21.2 1469.3 21.6 C1471.5 22.0 1473.7 24.2 1475.3 26.0 C1477.0 27.8 1478.0 30.1 1479.1 32.5 C1480.3 34.8 1482.1 37.4 1482.3 40.0Z" fill="#000" filter="url(#tex2)" opacity="0.55"/>
<path d="M1528.2 41.2 C1528.2 44.2 1529.4 47.5 1528.6 50.1 C1527.9 52.7 1525.7 55.4 1523.8 56.7 C1521.9 58.0 1519.3 57.8 1517.1 58.0 C1514.9 58.2 1512.6 58.7 1510.6 57.9 C1508.7 57.0 1506.8 54.9 1505.3 52.9 C1503.8 50.9 1502.4 48.3 1501.7 45.6 C1501.0 42.9 1500.5 39.2 1501.3 36.7 C1502.0 34.1 1504.5 32.2 1506.1 30.4 C1507.8 28.7 1509.3 27.6 1511.1 26.2 C1513.0 24.9 1515.3 22.1 1517.3 22.2 C1519.3 22.3 1521.4 25.0 1523.2 26.7 C1525.1 28.4 1527.6 30.0 1528.4 32.4 C1529.2 34.8 1528.1 38.2 1528.2 41.2Z" fill="#4d4246" opacity="0.75" filter="url(#shad)"/>
<path d="M1525.7 39.0 C1525.8 41.9 1526.9 45.2 1526.2 47.8 C1525.5 50.3 1523.3 53.0 1521.4 54.2 C1519.5 55.5 1517.0 55.3 1514.8 55.4 C1512.7 55.6 1510.4 56.2 1508.5 55.3 C1506.6 54.5 1504.8 52.5 1503.3 50.5 C1501.8 48.5 1500.4 46.0 1499.8 43.3 C1499.1 40.7 1498.6 37.0 1499.4 34.5 C1500.1 32.1 1502.5 30.1 1504.1 28.4 C1505.7 26.7 1507.2 25.7 1509.0 24.3 C1510.8 23.0 1513.1 20.3 1515.0 20.3 C1517.0 20.4 1519.0 23.1 1520.9 24.8 C1522.7 26.5 1525.1 28.0 1525.9 30.4 C1526.8 32.8 1525.7 36.1 1525.7 39.0Z" fill="url(#tA)"/>
<path d="M1525.1 39.0 C1525.1 41.7 1526.2 44.9 1525.5 47.3 C1524.8 49.7 1522.8 52.3 1521.0 53.5 C1519.2 54.7 1516.8 54.4 1514.8 54.6 C1512.7 54.8 1510.6 55.3 1508.8 54.5 C1506.9 53.7 1505.2 51.8 1503.8 49.9 C1502.4 48.0 1501.1 45.6 1500.4 43.1 C1499.8 40.6 1499.4 37.1 1500.1 34.8 C1500.7 32.4 1503.0 30.6 1504.6 29.0 C1506.1 27.3 1507.5 26.3 1509.2 25.1 C1511.0 23.8 1513.1 21.2 1515.0 21.3 C1516.8 21.4 1518.8 23.9 1520.5 25.5 C1522.2 27.1 1524.5 28.6 1525.3 30.8 C1526.1 33.1 1525.1 36.3 1525.1 39.0Z" fill="#000" filter="url(#tex)" opacity="0.3"/>
<path d="M1524.7 39.0 C1524.8 41.7 1525.8 44.7 1525.1 47.1 C1524.5 49.4 1522.5 51.8 1520.8 53.0 C1519.0 54.2 1516.7 54.0 1514.7 54.1 C1512.7 54.3 1510.7 54.8 1508.9 54.0 C1507.1 53.3 1505.5 51.4 1504.1 49.6 C1502.8 47.7 1501.4 45.4 1500.8 43.0 C1500.2 40.5 1499.8 37.2 1500.5 34.9 C1501.1 32.6 1503.4 30.8 1504.8 29.3 C1506.3 27.7 1507.7 26.7 1509.4 25.5 C1511.0 24.3 1513.1 21.8 1514.9 21.8 C1516.7 21.9 1518.6 24.4 1520.3 25.9 C1521.9 27.5 1524.2 28.9 1524.9 31.1 C1525.7 33.3 1524.7 36.3 1524.7 39.0Z" fill="#000" filter="url(#tex2)" opacity="0.55"/>
<path d="M1579.9 40.5 C1580.2 43.1 1579.5 46.6 1578.1 48.6 C1576.7 50.5 1573.6 51.2 1571.5 52.2 C1569.5 53.3 1567.9 54.1 1565.8 54.8 C1563.6 55.4 1560.9 56.9 1558.8 56.4 C1556.6 55.8 1554.4 53.5 1553.0 51.5 C1551.5 49.5 1550.2 46.9 1549.8 44.4 C1549.5 42.0 1550.3 39.3 1550.9 36.9 C1551.5 34.4 1551.9 31.7 1553.3 29.8 C1554.6 27.9 1556.9 26.2 1559.0 25.4 C1561.1 24.5 1563.8 24.0 1566.0 24.5 C1568.1 25.0 1569.9 27.0 1571.7 28.5 C1573.5 29.9 1575.3 31.3 1576.7 33.3 C1578.0 35.3 1579.7 37.9 1579.9 40.5Z" fill="#4d4246" opacity="0.75" filter="url(#shad)"/>
<path d="M1577.4 38.3 C1577.6 40.8 1577.0 44.3 1575.6 46.2 C1574.2 48.1 1571.2 48.8 1569.2 49.8 C1567.2 50.8 1565.6 51.6 1563.5 52.3 C1561.4 53.0 1558.8 54.4 1556.7 53.9 C1554.6 53.3 1552.4 51.1 1551.0 49.1 C1549.5 47.2 1548.2 44.5 1547.9 42.1 C1547.6 39.8 1548.4 37.1 1549.0 34.7 C1549.5 32.4 1550.0 29.7 1551.3 27.8 C1552.6 25.9 1554.8 24.3 1556.9 23.5 C1559.0 22.6 1561.6 22.1 1563.7 22.6 C1565.8 23.1 1567.6 25.1 1569.4 26.5 C1571.1 27.9 1572.9 29.2 1574.2 31.2 C1575.5 33.2 1577.2 35.8 1577.4 38.3Z" fill="url(#tA)"/>
<path d="M1576.6 38.3 C1576.9 40.7 1576.2 44.0 1574.9 45.8 C1573.6 47.6 1570.7 48.3 1568.8 49.2 C1566.9 50.2 1565.4 50.9 1563.5 51.6 C1561.5 52.2 1558.9 53.6 1556.9 53.1 C1554.9 52.6 1552.9 50.4 1551.5 48.6 C1550.1 46.7 1548.9 44.2 1548.6 42.0 C1548.3 39.7 1549.1 37.2 1549.6 34.9 C1550.2 32.7 1550.6 30.1 1551.8 28.3 C1553.1 26.5 1555.2 25.0 1557.2 24.2 C1559.1 23.4 1561.7 22.9 1563.6 23.4 C1565.6 23.9 1567.3 25.7 1569.0 27.1 C1570.6 28.4 1572.3 29.7 1573.6 31.6 C1574.9 33.4 1576.4 35.9 1576.6 38.3Z" fill="#000" filter="url(#tex)" opacity="0.3"/>
<path d="M1576.2 38.3 C1576.4 40.6 1575.8 43.8 1574.5 45.6 C1573.3 47.3 1570.5 48.0 1568.6 48.9 C1566.7 49.8 1565.3 50.5 1563.4 51.2 C1561.5 51.8 1559.0 53.1 1557.1 52.6 C1555.2 52.1 1553.2 50.0 1551.9 48.2 C1550.5 46.5 1549.3 44.0 1549.0 41.8 C1548.7 39.6 1549.5 37.2 1550.0 35.0 C1550.5 32.8 1550.9 30.4 1552.1 28.6 C1553.4 26.9 1555.4 25.4 1557.3 24.7 C1559.2 23.9 1561.7 23.4 1563.6 23.9 C1565.5 24.4 1567.2 26.1 1568.8 27.4 C1570.4 28.8 1572.0 30.0 1573.2 31.8 C1574.5 33.6 1576.0 36.0 1576.2 38.3Z" fill="#000" filter="url(#tex2)" opacity="0.55"/>
<path d="M1488.4 101.5 C1488.6 104.5 1485.6 108.2 1484.2 111.2 C1482.8 114.3 1481.9 118.0 1480.1 120.0 C1478.2 122.0 1475.2 123.5 1473.0 123.0 C1470.8 122.5 1468.7 119.1 1467.1 116.9 C1465.5 114.7 1464.6 112.5 1463.4 109.9 C1462.1 107.3 1459.4 104.3 1459.4 101.5 C1459.4 98.7 1462.0 95.7 1463.2 92.9 C1464.4 90.2 1465.1 87.4 1466.7 85.1 C1468.4 82.7 1470.7 79.4 1473.0 78.9 C1475.3 78.4 1478.8 79.7 1480.4 82.1 C1482.1 84.4 1481.5 89.7 1482.8 93.0 C1484.1 96.2 1488.2 98.5 1488.4 101.5Z" fill="#d9b3ae" opacity="0.45" filter="url(#soft)"/>
<path d="M1484.3 102.7 C1484.2 105.4 1484.5 108.4 1483.8 110.6 C1483.1 112.8 1481.5 114.6 1480.1 116.2 C1478.7 117.7 1477.2 119.3 1475.5 119.8 C1473.9 120.2 1471.7 120.0 1470.3 118.9 C1468.9 117.7 1467.8 114.9 1466.9 112.8 C1466.1 110.7 1465.6 108.7 1464.9 106.3 C1464.3 103.9 1462.7 100.7 1463.0 98.4 C1463.3 96.0 1465.3 93.9 1466.6 92.1 C1467.9 90.4 1469.1 89.2 1470.6 87.9 C1472.1 86.6 1474.0 84.0 1475.6 84.2 C1477.2 84.3 1478.8 87.3 1480.2 88.9 C1481.7 90.6 1483.7 92.0 1484.4 94.3 C1485.1 96.6 1484.4 100.0 1484.3 102.7Z" fill="#4d4246" opacity="0.75" filter="url(#shad)"/>
<path d="M1481.9 100.5 C1481.8 103.2 1482.1 106.0 1481.4 108.2 C1480.7 110.4 1479.1 112.2 1477.8 113.7 C1476.4 115.2 1474.9 116.8 1473.3 117.3 C1471.7 117.7 1469.6 117.5 1468.2 116.4 C1466.8 115.2 1465.8 112.5 1464.9 110.4 C1464.0 108.3 1463.5 106.4 1462.9 104.0 C1462.3 101.7 1460.8 98.6 1461.0 96.3 C1461.3 93.9 1463.3 91.9 1464.6 90.1 C1465.8 88.4 1467.0 87.3 1468.5 86.0 C1470.0 84.7 1471.8 82.2 1473.4 82.3 C1475.0 82.5 1476.5 85.4 1477.9 87.0 C1479.4 88.7 1481.3 90.0 1482.0 92.3 C1482.6 94.5 1482.0 97.8 1481.9 100.5Z" fill="url(#tA)"/>
<path d="M1481.4 100.5 C1481.3 103.0 1481.6 105.8 1480.9 107.9 C1480.3 109.9 1478.8 111.6 1477.5 113.0 C1476.2 114.5 1474.8 116.0 1473.2 116.4 C1471.7 116.8 1469.7 116.6 1468.4 115.6 C1467.0 114.5 1466.1 111.9 1465.2 109.9 C1464.4 107.9 1464.0 106.1 1463.4 103.8 C1462.7 101.6 1461.3 98.7 1461.6 96.5 C1461.9 94.3 1463.7 92.3 1464.9 90.7 C1466.1 89.0 1467.3 87.9 1468.7 86.7 C1470.1 85.5 1471.8 83.1 1473.3 83.2 C1474.8 83.4 1476.3 86.1 1477.6 87.7 C1479.0 89.3 1480.9 90.5 1481.5 92.7 C1482.1 94.8 1481.5 98.0 1481.4 100.5Z" fill="#000" filter="url(#tex)" opacity="0.3"/>
<path d="M1481.1 100.5 C1481.0 102.9 1481.3 105.6 1480.6 107.6 C1480.0 109.6 1478.6 111.3 1477.3 112.6 C1476.1 114.0 1474.7 115.5 1473.2 115.9 C1471.7 116.3 1469.8 116.1 1468.5 115.1 C1467.2 114.0 1466.3 111.5 1465.5 109.6 C1464.7 107.7 1464.2 105.9 1463.6 103.7 C1463.0 101.6 1461.7 98.7 1461.9 96.6 C1462.2 94.5 1464.0 92.5 1465.2 91.0 C1466.3 89.4 1467.4 88.3 1468.8 87.1 C1470.1 85.9 1471.8 83.6 1473.3 83.8 C1474.7 83.9 1476.1 86.6 1477.5 88.1 C1478.8 89.6 1480.6 90.9 1481.2 92.9 C1481.8 95.0 1481.2 98.1 1481.1 100.5Z" fill="#000" filter="url(#tex2)" opacity="0.55"/>
<path d="M1538.0 98.0 C1538.2 101.8 1536.9 106.6 1535.5 109.9 C1534.1 113.2 1531.7 116.5 1529.4 117.7 C1527.2 118.9 1524.3 117.4 1522.0 116.9 C1519.7 116.5 1517.7 116.3 1515.5 115.1 C1513.4 113.8 1510.6 112.2 1509.2 109.3 C1507.7 106.5 1506.2 101.3 1506.7 98.0 C1507.2 94.7 1510.6 92.0 1512.2 89.3 C1513.7 86.7 1514.3 84.5 1515.9 82.0 C1517.6 79.4 1520.0 74.0 1522.0 74.0 C1524.0 74.1 1525.8 80.2 1527.9 82.3 C1530.0 84.5 1532.9 84.3 1534.6 86.9 C1536.3 89.5 1537.9 94.2 1538.0 98.0Z" fill="#d9b3ae" opacity="0.45" filter="url(#soft)"/>
<path d="M1533.8 99.2 C1533.7 101.7 1533.0 104.4 1532.3 106.8 C1531.5 109.2 1530.7 112.1 1529.4 113.6 C1528.1 115.0 1526.1 115.5 1524.4 115.6 C1522.8 115.7 1521.2 115.1 1519.6 114.3 C1518.0 113.5 1516.4 112.5 1515.0 110.8 C1513.6 109.0 1511.9 106.6 1511.3 103.9 C1510.7 101.2 1511.1 97.5 1511.6 94.6 C1512.1 91.8 1513.0 88.5 1514.3 86.7 C1515.6 84.8 1517.8 84.4 1519.5 83.5 C1521.2 82.6 1522.9 81.1 1524.6 81.3 C1526.2 81.6 1528.0 83.5 1529.3 85.2 C1530.6 86.9 1531.7 89.2 1532.4 91.5 C1533.2 93.8 1533.8 96.7 1533.8 99.2Z" fill="#4d4246" opacity="0.75" filter="url(#shad)"/>
<path d="M1531.4 97.0 C1531.3 99.5 1530.6 102.1 1529.9 104.4 C1529.2 106.8 1528.4 109.6 1527.1 111.1 C1525.8 112.5 1523.8 112.9 1522.2 113.1 C1520.6 113.2 1519.0 112.6 1517.5 111.8 C1515.9 111.0 1514.3 110.1 1512.9 108.4 C1511.6 106.6 1509.9 104.2 1509.3 101.6 C1508.8 98.9 1509.1 95.3 1509.6 92.5 C1510.1 89.7 1511.0 86.5 1512.3 84.7 C1513.6 82.9 1515.7 82.5 1517.3 81.6 C1519.0 80.8 1520.7 79.2 1522.3 79.5 C1523.9 79.8 1525.7 81.6 1526.9 83.3 C1528.2 85.0 1529.3 87.2 1530.0 89.5 C1530.8 91.7 1531.4 94.5 1531.4 97.0Z" fill="url(#tA)"/>
<path d="M1530.8 97.0 C1530.8 99.4 1530.1 101.8 1529.4 104.1 C1528.8 106.3 1528.0 109.0 1526.8 110.4 C1525.6 111.7 1523.7 112.1 1522.2 112.3 C1520.6 112.4 1519.1 111.8 1517.6 111.1 C1516.2 110.3 1514.6 109.4 1513.3 107.8 C1512.1 106.2 1510.4 103.8 1509.9 101.3 C1509.4 98.8 1509.7 95.4 1510.2 92.8 C1510.6 90.1 1511.5 87.1 1512.7 85.3 C1513.9 83.6 1515.9 83.2 1517.5 82.4 C1519.1 81.6 1520.7 80.1 1522.3 80.4 C1523.8 80.6 1525.4 82.4 1526.6 84.0 C1527.9 85.6 1528.9 87.7 1529.6 89.8 C1530.3 92.0 1530.9 94.6 1530.8 97.0Z" fill="#000" filter="url(#tex)" opacity="0.3"/>
<path d="M1530.5 97.0 C1530.5 99.3 1529.8 101.7 1529.2 103.8 C1528.5 106.0 1527.8 108.6 1526.6 109.9 C1525.4 111.3 1523.6 111.7 1522.1 111.8 C1520.6 111.9 1519.2 111.3 1517.8 110.6 C1516.3 109.9 1514.8 109.0 1513.6 107.4 C1512.3 105.9 1510.8 103.6 1510.3 101.2 C1509.8 98.8 1510.1 95.5 1510.5 92.9 C1511.0 90.3 1511.8 87.4 1513.0 85.7 C1514.2 84.0 1516.1 83.7 1517.6 82.9 C1519.2 82.1 1520.8 80.6 1522.2 80.9 C1523.7 81.1 1525.3 82.9 1526.5 84.4 C1527.6 85.9 1528.6 88.0 1529.3 90.1 C1530.0 92.2 1530.6 94.7 1530.5 97.0Z" fill="#000" filter="url(#tex2)" opacity="0.55"/>
<path d="M1578.1 93.9 C1578.2 96.4 1577.8 99.3 1576.9 101.6 C1576.1 103.9 1574.6 106.2 1573.0 107.8 C1571.4 109.3 1569.3 110.8 1567.3 111.1 C1565.3 111.4 1563.1 110.4 1561.2 109.5 C1559.3 108.5 1556.9 107.4 1555.9 105.4 C1554.9 103.3 1555.5 99.8 1555.2 97.3 C1554.9 94.8 1554.0 92.6 1554.1 90.1 C1554.2 87.7 1554.6 84.3 1555.8 82.4 C1557.0 80.5 1559.4 79.6 1561.3 78.6 C1563.2 77.7 1565.5 76.3 1567.3 76.8 C1569.1 77.4 1570.5 80.4 1572.0 82.0 C1573.5 83.6 1575.3 84.6 1576.3 86.6 C1577.3 88.6 1578.0 91.4 1578.1 93.9Z" fill="#4d4246" opacity="0.75" filter="url(#shad)"/>
<path d="M1575.6 91.7 C1575.7 94.2 1575.3 97.0 1574.5 99.3 C1573.7 101.6 1572.2 103.7 1570.6 105.3 C1569.1 106.8 1567.0 108.3 1565.1 108.6 C1563.1 108.9 1561.0 107.9 1559.1 107.0 C1557.2 106.0 1554.8 104.9 1553.8 102.9 C1552.9 100.9 1553.5 97.5 1553.2 95.0 C1552.9 92.5 1552.0 90.5 1552.1 88.0 C1552.2 85.6 1552.6 82.3 1553.8 80.4 C1555.0 78.5 1557.3 77.6 1559.2 76.7 C1561.1 75.8 1563.3 74.4 1565.0 75.0 C1566.8 75.5 1568.2 78.4 1569.6 80.0 C1571.1 81.6 1572.9 82.6 1573.9 84.5 C1574.9 86.5 1575.5 89.2 1575.6 91.7Z" fill="url(#tA)"/>
<path d="M1575.0 91.7 C1575.1 94.0 1574.7 96.8 1574.0 98.9 C1573.2 101.1 1571.8 103.1 1570.3 104.6 C1568.8 106.1 1566.8 107.5 1565.0 107.7 C1563.2 108.0 1561.1 107.1 1559.3 106.2 C1557.5 105.3 1555.3 104.3 1554.3 102.4 C1553.4 100.5 1554.0 97.2 1553.7 94.9 C1553.5 92.5 1552.6 90.5 1552.7 88.2 C1552.8 85.9 1553.2 82.8 1554.3 81.0 C1555.4 79.2 1557.6 78.3 1559.4 77.5 C1561.2 76.6 1563.3 75.3 1565.0 75.8 C1566.6 76.3 1567.9 79.1 1569.3 80.6 C1570.7 82.1 1572.4 83.1 1573.4 84.9 C1574.3 86.8 1574.9 89.4 1575.0 91.7Z" fill="#000" filter="url(#tex)" opacity="0.3"/>
<path d="M1574.6 91.7 C1574.7 94.0 1574.4 96.6 1573.6 98.7 C1572.9 100.8 1571.5 102.8 1570.1 104.2 C1568.6 105.6 1566.7 107.0 1564.9 107.2 C1563.2 107.5 1561.2 106.6 1559.4 105.7 C1557.7 104.9 1555.5 103.9 1554.6 102.0 C1553.7 100.2 1554.3 97.0 1554.1 94.8 C1553.8 92.5 1553.0 90.6 1553.0 88.3 C1553.1 86.1 1553.5 83.1 1554.6 81.3 C1555.7 79.6 1557.8 78.8 1559.5 77.9 C1561.2 77.1 1563.3 75.8 1564.9 76.3 C1566.5 76.8 1567.8 79.5 1569.1 81.0 C1570.5 82.4 1572.1 83.3 1573.0 85.1 C1574.0 86.9 1574.6 89.4 1574.6 91.7Z" fill="#000" filter="url(#tex2)" opacity="0.55"/>
<path d="M1487.1 150.2 C1487.2 152.5 1486.8 155.2 1485.8 157.1 C1484.9 158.9 1483.1 160.5 1481.6 161.5 C1480.0 162.5 1478.1 163.1 1476.5 163.2 C1474.8 163.2 1473.3 162.2 1471.7 161.7 C1470.0 161.1 1467.7 161.0 1466.5 159.7 C1465.3 158.3 1464.8 155.6 1464.4 153.5 C1463.9 151.3 1463.2 148.7 1463.7 146.7 C1464.1 144.7 1465.8 143.0 1467.0 141.3 C1468.3 139.6 1469.4 137.2 1471.0 136.6 C1472.6 135.9 1474.6 137.0 1476.5 137.2 C1478.3 137.5 1480.5 137.1 1482.0 138.1 C1483.5 139.2 1484.8 141.5 1485.6 143.5 C1486.5 145.5 1487.1 147.9 1487.1 150.2Z" fill="#4d4246" opacity="0.75" filter="url(#shad)"/>
<path d="M1484.7 148.0 C1484.7 150.2 1484.3 152.9 1483.4 154.7 C1482.5 156.6 1480.8 158.1 1479.2 159.1 C1477.7 160.1 1475.9 160.7 1474.3 160.7 C1472.6 160.7 1471.2 159.8 1469.5 159.2 C1467.9 158.7 1465.7 158.6 1464.5 157.3 C1463.3 155.9 1462.8 153.3 1462.4 151.2 C1461.9 149.1 1461.3 146.6 1461.7 144.6 C1462.1 142.6 1463.8 141.0 1465.0 139.3 C1466.2 137.6 1467.3 135.3 1468.9 134.6 C1470.4 134.0 1472.5 135.0 1474.3 135.3 C1476.1 135.5 1478.2 135.1 1479.7 136.2 C1481.2 137.2 1482.4 139.4 1483.2 141.4 C1484.1 143.4 1484.7 145.8 1484.7 148.0Z" fill="url(#tA)"/>
<path d="M1484.1 148.0 C1484.2 150.1 1483.8 152.6 1482.9 154.4 C1482.0 156.1 1480.4 157.6 1478.9 158.5 C1477.5 159.5 1475.7 160.0 1474.2 160.1 C1472.7 160.1 1471.3 159.2 1469.7 158.7 C1468.2 158.1 1466.0 158.1 1464.9 156.8 C1463.8 155.5 1463.4 153.1 1462.9 151.0 C1462.5 149.0 1461.9 146.6 1462.3 144.8 C1462.7 142.9 1464.3 141.3 1465.4 139.7 C1466.5 138.2 1467.6 135.9 1469.1 135.3 C1470.5 134.7 1472.5 135.7 1474.2 135.9 C1475.9 136.1 1477.9 135.8 1479.3 136.7 C1480.8 137.7 1481.9 139.9 1482.7 141.7 C1483.5 143.6 1484.1 145.9 1484.1 148.0Z" fill="#000" filter="url(#tex)" opacity="0.3"/>
<path d="M1483.8 148.0 C1483.8 150.0 1483.4 152.5 1482.6 154.2 C1481.8 155.9 1480.1 157.3 1478.7 158.2 C1477.3 159.1 1475.6 159.7 1474.2 159.7 C1472.7 159.7 1471.3 158.9 1469.8 158.3 C1468.3 157.8 1466.2 157.8 1465.2 156.5 C1464.1 155.3 1463.7 152.9 1463.2 151.0 C1462.8 149.0 1462.2 146.7 1462.6 144.9 C1463.0 143.0 1464.5 141.5 1465.6 140.0 C1466.7 138.5 1467.8 136.3 1469.2 135.7 C1470.6 135.1 1472.5 136.1 1474.2 136.3 C1475.8 136.5 1477.8 136.2 1479.1 137.1 C1480.5 138.0 1481.6 140.1 1482.4 141.9 C1483.2 143.8 1483.7 146.0 1483.8 148.0Z" fill="#000" filter="url(#tex2)" opacity="0.55"/>
<path d="M1532.9 146.0 C1532.8 149.6 1533.5 153.1 1532.6 156.5 C1531.8 159.9 1530.2 164.8 1527.8 166.7 C1525.5 168.5 1521.5 168.1 1518.7 167.6 C1515.9 167.0 1513.0 165.6 1510.9 163.6 C1508.8 161.5 1507.1 158.4 1506.1 155.5 C1505.1 152.6 1505.7 149.6 1505.1 146.0 C1504.6 142.4 1501.9 137.2 1502.7 134.0 C1503.6 130.8 1507.5 127.8 1510.2 126.7 C1512.8 125.6 1515.9 127.3 1518.7 127.4 C1521.5 127.6 1524.4 126.5 1526.8 127.7 C1529.2 129.0 1532.2 132.0 1533.2 135.0 C1534.3 138.1 1533.0 142.4 1532.9 146.0Z" fill="#d9b3ae" opacity="0.45" filter="url(#soft)"/>
<path d="M1532.2 147.2 C1532.0 149.8 1531.1 152.2 1530.3 154.6 C1529.5 157.1 1528.9 160.6 1527.4 161.9 C1525.9 163.3 1523.3 162.5 1521.3 162.8 C1519.3 163.1 1517.1 164.3 1515.3 163.5 C1513.6 162.8 1511.7 160.5 1510.6 158.4 C1509.5 156.3 1509.2 153.5 1508.7 150.9 C1508.2 148.4 1507.1 145.4 1507.5 143.0 C1507.9 140.7 1510.0 138.8 1511.3 136.9 C1512.7 134.9 1513.8 132.1 1515.4 131.2 C1517.1 130.3 1519.5 131.1 1521.3 131.6 C1523.1 132.1 1524.9 132.9 1526.5 134.2 C1528.1 135.5 1530.1 137.1 1531.0 139.3 C1531.9 141.4 1532.3 144.6 1532.2 147.2Z" fill="#4d4246" opacity="0.75" filter="url(#shad)"/>
<path d="M1529.7 145.0 C1529.6 147.5 1528.7 149.9 1527.9 152.3 C1527.1 154.7 1526.5 158.1 1525.0 159.5 C1523.6 160.8 1521.0 160.0 1519.1 160.3 C1517.1 160.5 1515.0 161.7 1513.2 161.0 C1511.5 160.3 1509.7 158.0 1508.6 155.9 C1507.5 153.9 1507.3 151.2 1506.7 148.7 C1506.2 146.2 1505.1 143.2 1505.5 140.9 C1506.0 138.6 1508.0 136.8 1509.3 134.9 C1510.6 132.9 1511.7 130.2 1513.3 129.3 C1515.0 128.5 1517.3 129.2 1519.1 129.7 C1520.9 130.2 1522.6 131.0 1524.2 132.3 C1525.7 133.5 1527.7 135.1 1528.6 137.2 C1529.5 139.4 1529.8 142.5 1529.7 145.0Z" fill="url(#tA)"/>
<path d="M1529.1 145.0 C1529.0 147.4 1528.1 149.6 1527.4 151.9 C1526.7 154.2 1526.1 157.5 1524.7 158.7 C1523.3 160.0 1520.9 159.3 1519.0 159.5 C1517.1 159.8 1515.1 160.9 1513.5 160.2 C1511.8 159.5 1510.1 157.3 1509.1 155.4 C1508.0 153.4 1507.8 150.9 1507.3 148.5 C1506.8 146.1 1505.7 143.3 1506.2 141.1 C1506.6 138.9 1508.5 137.2 1509.7 135.4 C1510.9 133.5 1512.0 130.9 1513.6 130.1 C1515.1 129.3 1517.3 130.0 1519.0 130.5 C1520.7 130.9 1522.3 131.7 1523.8 132.9 C1525.3 134.1 1527.2 135.6 1528.0 137.6 C1528.9 139.6 1529.2 142.6 1529.1 145.0Z" fill="#000" filter="url(#tex)" opacity="0.3"/>
<path d="M1528.8 145.0 C1528.7 147.3 1527.8 149.5 1527.1 151.7 C1526.4 153.9 1525.8 157.1 1524.4 158.3 C1523.1 159.5 1520.8 158.8 1519.0 159.1 C1517.1 159.3 1515.2 160.4 1513.6 159.7 C1512.0 159.1 1510.3 157.0 1509.3 155.1 C1508.4 153.2 1508.1 150.7 1507.6 148.4 C1507.1 146.1 1506.1 143.4 1506.5 141.3 C1506.9 139.1 1508.8 137.5 1510.0 135.7 C1511.2 133.9 1512.2 131.4 1513.7 130.6 C1515.2 129.8 1517.3 130.5 1519.0 130.9 C1520.6 131.4 1522.2 132.1 1523.6 133.3 C1525.1 134.4 1526.9 135.9 1527.7 137.9 C1528.6 139.8 1528.9 142.7 1528.8 145.0Z" fill="#000" filter="url(#tex2)" opacity="0.55"/>
<path d="M1576.1 147.0 C1576.5 150.0 1578.0 154.1 1577.4 157.0 C1576.7 160.0 1574.3 163.5 1572.2 164.7 C1570.1 165.9 1566.9 164.8 1564.7 164.3 C1562.5 163.7 1560.4 162.9 1558.7 161.3 C1557.0 159.8 1555.4 157.4 1554.6 155.0 C1553.7 152.6 1553.6 149.7 1553.6 147.0 C1553.5 144.3 1553.6 141.2 1554.5 138.9 C1555.4 136.6 1557.1 135.1 1558.8 133.1 C1560.5 131.0 1562.8 126.7 1564.7 126.7 C1566.6 126.7 1568.8 131.1 1570.5 133.1 C1572.2 135.2 1573.9 136.7 1574.8 139.0 C1575.7 141.3 1575.7 144.0 1576.1 147.0Z" fill="#d9b3ae" opacity="0.45" filter="url(#soft)"/>
<path d="M1576.0 148.2 C1576.2 150.6 1577.1 154.1 1576.3 156.0 C1575.6 158.0 1573.0 158.4 1571.5 159.8 C1570.0 161.1 1568.8 163.8 1567.2 164.1 C1565.7 164.3 1563.9 162.2 1562.4 161.2 C1561.0 160.2 1559.7 159.3 1558.3 157.8 C1557.0 156.3 1554.7 154.4 1554.4 152.3 C1554.0 150.1 1555.6 147.2 1556.2 144.8 C1556.7 142.4 1556.6 139.5 1557.6 137.7 C1558.6 135.9 1560.5 134.8 1562.1 134.0 C1563.7 133.3 1565.5 132.9 1567.2 133.2 C1568.8 133.4 1570.7 134.2 1572.0 135.6 C1573.2 137.0 1574.1 139.5 1574.7 141.6 C1575.4 143.7 1575.7 145.8 1576.0 148.2Z" fill="#4d4246" opacity="0.75" filter="url(#shad)"/>
<path d="M1573.6 146.0 C1573.8 148.4 1574.7 151.8 1573.9 153.7 C1573.2 155.6 1570.7 156.0 1569.2 157.3 C1567.7 158.6 1566.5 161.3 1565.0 161.6 C1563.5 161.8 1561.8 159.8 1560.3 158.7 C1558.9 157.7 1557.6 156.9 1556.3 155.4 C1555.0 153.9 1552.7 152.1 1552.4 150.0 C1552.0 147.9 1553.6 145.0 1554.2 142.6 C1554.7 140.3 1554.6 137.5 1555.6 135.7 C1556.6 134.0 1558.5 132.8 1560.0 132.1 C1561.6 131.4 1563.3 131.0 1565.0 131.3 C1566.6 131.5 1568.4 132.3 1569.7 133.7 C1570.9 135.0 1571.7 137.4 1572.4 139.5 C1573.0 141.6 1573.3 143.6 1573.6 146.0Z" fill="url(#tA)"/>
<path d="M1573.1 146.0 C1573.3 148.2 1574.1 151.5 1573.4 153.3 C1572.7 155.1 1570.3 155.5 1568.9 156.8 C1567.5 158.0 1566.4 160.6 1565.0 160.8 C1563.6 161.0 1561.9 159.1 1560.5 158.1 C1559.1 157.1 1557.9 156.3 1556.6 154.9 C1555.4 153.5 1553.3 151.8 1553.0 149.8 C1552.6 147.8 1554.1 145.1 1554.6 142.8 C1555.1 140.6 1555.1 137.9 1556.0 136.3 C1556.9 134.6 1558.7 133.5 1560.2 132.8 C1561.7 132.1 1563.4 131.8 1564.9 132.0 C1566.4 132.2 1568.2 133.0 1569.4 134.3 C1570.5 135.6 1571.3 137.9 1571.9 139.8 C1572.6 141.8 1572.8 143.8 1573.1 146.0Z" fill="#000" filter="url(#tex)" opacity="0.3"/>
<path d="M1572.8 146.0 C1573.0 148.2 1573.8 151.3 1573.1 153.1 C1572.4 154.8 1570.1 155.2 1568.7 156.4 C1567.4 157.6 1566.3 160.1 1564.9 160.3 C1563.6 160.5 1561.9 158.7 1560.6 157.7 C1559.2 156.8 1558.1 156.0 1556.9 154.6 C1555.7 153.3 1553.6 151.6 1553.3 149.7 C1553.0 147.7 1554.4 145.1 1554.9 142.9 C1555.4 140.7 1555.3 138.2 1556.2 136.6 C1557.1 134.9 1558.9 133.9 1560.3 133.2 C1561.7 132.5 1563.4 132.2 1564.9 132.4 C1566.3 132.7 1568.0 133.4 1569.2 134.7 C1570.3 135.9 1571.1 138.1 1571.7 140.0 C1572.3 141.9 1572.5 143.8 1572.8 146.0Z" fill="#000" filter="url(#tex2)" opacity="0.55"/>
<path d="M1492.1 193.2 C1492.0 195.3 1491.5 197.5 1490.6 199.2 C1489.6 200.9 1488.0 201.9 1486.5 203.2 C1485.0 204.6 1483.5 207.3 1481.8 207.4 C1480.1 207.6 1478.2 205.2 1476.4 204.3 C1474.6 203.3 1472.7 203.3 1471.2 202.0 C1469.7 200.7 1467.8 198.6 1467.5 196.7 C1467.2 194.7 1469.0 192.4 1469.6 190.3 C1470.2 188.3 1470.0 185.9 1471.1 184.3 C1472.1 182.7 1474.1 181.0 1475.8 180.5 C1477.6 180.0 1479.7 181.0 1481.5 181.4 C1483.3 181.7 1485.2 181.7 1486.9 182.6 C1488.5 183.5 1490.5 185.0 1491.3 186.8 C1492.2 188.5 1492.3 191.1 1492.1 193.2Z" fill="#4d4246" opacity="0.75" filter="url(#shad)"/>
<path d="M1489.7 191.0 C1489.6 193.0 1489.1 195.2 1488.2 196.9 C1487.2 198.5 1485.6 199.5 1484.2 200.8 C1482.7 202.2 1481.2 204.8 1479.5 204.9 C1477.9 205.1 1476.0 202.7 1474.3 201.8 C1472.5 200.9 1470.6 200.9 1469.2 199.6 C1467.7 198.4 1465.8 196.3 1465.5 194.4 C1465.3 192.5 1467.0 190.2 1467.6 188.2 C1468.2 186.2 1468.0 183.9 1469.1 182.3 C1470.1 180.7 1472.0 179.0 1473.7 178.5 C1475.4 178.1 1477.5 179.1 1479.3 179.4 C1481.1 179.7 1482.9 179.7 1484.5 180.6 C1486.1 181.5 1488.1 183.0 1488.9 184.7 C1489.8 186.4 1489.8 189.0 1489.7 191.0Z" fill="url(#tD)"/>
<path d="M1489.1 191.0 C1489.0 192.9 1488.5 195.0 1487.6 196.6 C1486.8 198.1 1485.2 199.1 1483.9 200.4 C1482.5 201.6 1481.0 204.1 1479.5 204.2 C1477.9 204.4 1476.1 202.1 1474.5 201.3 C1472.8 200.5 1471.0 200.4 1469.6 199.2 C1468.2 198.0 1466.4 196.0 1466.2 194.2 C1465.9 192.4 1467.6 190.2 1468.1 188.3 C1468.7 186.4 1468.5 184.2 1469.5 182.7 C1470.5 181.2 1472.3 179.6 1473.9 179.2 C1475.5 178.7 1477.5 179.7 1479.2 180.0 C1480.9 180.3 1482.7 180.3 1484.2 181.1 C1485.7 181.9 1487.6 183.4 1488.4 185.0 C1489.2 186.7 1489.2 189.1 1489.1 191.0Z" fill="#000" filter="url(#tex)" opacity="0.3"/>
<path d="M1488.8 191.0 C1488.7 192.9 1488.2 194.9 1487.3 196.4 C1486.5 197.9 1485.0 198.8 1483.7 200.1 C1482.4 201.3 1480.9 203.7 1479.4 203.8 C1477.9 204.0 1476.2 201.8 1474.6 201.0 C1473.0 200.2 1471.2 200.1 1469.9 198.9 C1468.5 197.8 1466.8 195.9 1466.5 194.1 C1466.3 192.4 1467.9 190.3 1468.4 188.4 C1469.0 186.5 1468.8 184.5 1469.8 183.0 C1470.7 181.5 1472.5 180.0 1474.1 179.5 C1475.6 179.1 1477.5 180.0 1479.2 180.3 C1480.8 180.6 1482.5 180.6 1484.0 181.4 C1485.5 182.2 1487.2 183.6 1488.0 185.2 C1488.8 186.8 1488.9 189.1 1488.8 191.0Z" fill="#000" filter="url(#tex2)" opacity="0.55"/>
<path d="M1536.4 189.2 C1536.2 191.7 1535.6 194.1 1534.6 196.2 C1533.7 198.3 1532.6 200.8 1531.0 202.0 C1529.4 203.2 1527.2 203.0 1525.2 203.4 C1523.2 203.8 1521.0 205.0 1519.1 204.5 C1517.2 203.9 1515.1 202.0 1513.8 200.1 C1512.5 198.2 1511.5 195.4 1511.3 193.0 C1511.1 190.6 1512.1 188.1 1512.6 185.8 C1513.1 183.5 1513.3 180.7 1514.4 179.0 C1515.6 177.3 1517.8 176.1 1519.6 175.4 C1521.4 174.7 1523.2 174.9 1525.2 174.8 C1527.2 174.8 1529.8 174.3 1531.6 175.4 C1533.4 176.4 1535.2 179.0 1536.0 181.3 C1536.8 183.6 1536.7 186.7 1536.4 189.2Z" fill="#4d4246" opacity="0.75" filter="url(#shad)"/>
<path d="M1534.0 187.0 C1533.8 189.4 1533.1 191.8 1532.2 193.9 C1531.3 196.0 1530.2 198.4 1528.6 199.6 C1527.1 200.7 1524.9 200.5 1523.0 200.9 C1521.0 201.3 1518.8 202.5 1517.0 202.0 C1515.1 201.4 1513.1 199.5 1511.8 197.7 C1510.5 195.8 1509.6 193.0 1509.4 190.7 C1509.2 188.4 1510.1 186.0 1510.6 183.7 C1511.2 181.4 1511.3 178.7 1512.4 177.0 C1513.6 175.3 1515.7 174.2 1517.4 173.5 C1519.2 172.8 1521.0 172.9 1523.0 172.9 C1525.0 172.9 1527.5 172.4 1529.2 173.4 C1531.0 174.5 1532.8 177.0 1533.6 179.3 C1534.4 181.5 1534.2 184.6 1534.0 187.0Z" fill="url(#tD)"/>
<path d="M1533.4 187.0 C1533.2 189.3 1532.5 191.5 1531.7 193.5 C1530.9 195.5 1529.8 197.8 1528.3 198.9 C1526.8 200.0 1524.8 199.8 1522.9 200.2 C1521.1 200.6 1519.0 201.8 1517.2 201.2 C1515.4 200.7 1513.5 198.9 1512.3 197.1 C1511.1 195.3 1510.2 192.7 1510.0 190.5 C1509.8 188.3 1510.7 186.0 1511.2 183.8 C1511.7 181.7 1511.8 179.1 1512.9 177.5 C1514.0 175.9 1516.0 174.8 1517.6 174.2 C1519.3 173.5 1521.1 173.6 1522.9 173.6 C1524.8 173.6 1527.2 173.1 1528.8 174.1 C1530.5 175.1 1532.2 177.5 1533.0 179.7 C1533.7 181.8 1533.6 184.7 1533.4 187.0Z" fill="#000" filter="url(#tex)" opacity="0.3"/>
<path d="M1533.0 187.0 C1532.8 189.2 1532.2 191.4 1531.4 193.3 C1530.6 195.2 1529.5 197.5 1528.1 198.6 C1526.7 199.6 1524.7 199.4 1522.9 199.8 C1521.1 200.2 1519.1 201.3 1517.3 200.8 C1515.6 200.3 1513.8 198.5 1512.6 196.8 C1511.4 195.1 1510.5 192.6 1510.3 190.4 C1510.2 188.3 1511.0 186.0 1511.5 183.9 C1512.0 181.8 1512.1 179.4 1513.2 177.8 C1514.2 176.2 1516.2 175.2 1517.8 174.6 C1519.4 174.0 1521.1 174.1 1522.9 174.1 C1524.7 174.0 1527.0 173.5 1528.6 174.5 C1530.2 175.5 1531.9 177.8 1532.6 179.9 C1533.4 182.0 1533.2 184.8 1533.0 187.0Z" fill="#000" filter="url(#tex2)" opacity="0.55"/>
<path d="M1582.2 188.0 C1582.0 190.7 1578.3 192.8 1576.9 195.7 C1575.6 198.6 1575.9 203.7 1573.9 205.2 C1571.9 206.8 1567.7 205.6 1565.0 205.1 C1562.3 204.6 1559.9 203.7 1557.6 202.3 C1555.3 200.9 1552.1 199.3 1551.1 196.9 C1550.1 194.6 1551.1 190.8 1551.5 188.0 C1551.8 185.2 1552.1 182.8 1553.2 180.4 C1554.2 178.0 1555.6 174.9 1557.5 173.6 C1559.5 172.2 1562.4 172.7 1565.0 172.5 C1567.6 172.3 1571.0 171.0 1573.2 172.2 C1575.3 173.4 1576.4 177.0 1577.9 179.7 C1579.4 182.3 1582.3 185.3 1582.2 188.0Z" fill="#d9b3ae" opacity="0.45" filter="url(#soft)"/>
<path d="M1578.6 189.2 C1578.8 191.4 1578.2 193.9 1577.5 196.1 C1576.7 198.3 1575.6 201.1 1574.0 202.3 C1572.4 203.6 1569.7 203.5 1567.7 203.6 C1565.7 203.7 1563.6 203.6 1561.7 202.9 C1559.9 202.1 1557.8 200.8 1556.6 199.1 C1555.5 197.3 1555.3 194.7 1554.9 192.4 C1554.4 190.2 1553.7 187.9 1554.0 185.7 C1554.3 183.5 1555.3 181.1 1556.5 179.3 C1557.8 177.4 1559.6 175.2 1561.5 174.7 C1563.3 174.1 1565.7 175.5 1567.6 176.0 C1569.5 176.5 1571.6 176.5 1573.0 177.7 C1574.5 178.9 1575.4 181.1 1576.3 183.0 C1577.2 184.9 1578.4 187.0 1578.6 189.2Z" fill="#4d4246" opacity="0.75" filter="url(#shad)"/>
<path d="M1576.2 187.0 C1576.4 189.1 1575.8 191.6 1575.0 193.7 C1574.3 195.9 1573.2 198.6 1571.6 199.9 C1570.0 201.1 1567.5 201.0 1565.5 201.1 C1563.5 201.2 1561.4 201.1 1559.6 200.4 C1557.8 199.7 1555.7 198.4 1554.6 196.7 C1553.5 195.0 1553.3 192.4 1552.9 190.2 C1552.5 188.0 1551.8 185.7 1552.0 183.6 C1552.3 181.4 1553.3 179.0 1554.5 177.2 C1555.8 175.4 1557.6 173.3 1559.4 172.8 C1561.2 172.2 1563.5 173.6 1565.4 174.1 C1567.2 174.6 1569.3 174.6 1570.7 175.7 C1572.1 176.9 1573.0 179.1 1573.9 181.0 C1574.8 182.8 1576.0 184.9 1576.2 187.0Z" fill="url(#tD)"/>
<path d="M1575.6 187.0 C1575.7 189.0 1575.2 191.4 1574.5 193.4 C1573.8 195.4 1572.8 198.1 1571.3 199.2 C1569.7 200.4 1567.3 200.3 1565.4 200.4 C1563.5 200.5 1561.6 200.4 1559.8 199.7 C1558.1 199.0 1556.2 197.8 1555.1 196.2 C1554.0 194.6 1553.9 192.1 1553.4 190.0 C1553.0 188.0 1552.4 185.8 1552.6 183.7 C1552.9 181.7 1553.8 179.4 1555.0 177.7 C1556.2 176.0 1557.9 174.0 1559.6 173.5 C1561.3 173.0 1563.5 174.2 1565.3 174.7 C1567.1 175.2 1569.0 175.2 1570.4 176.3 C1571.7 177.4 1572.5 179.5 1573.4 181.3 C1574.3 183.0 1575.4 185.0 1575.6 187.0Z" fill="#000" filter="url(#tex)" opacity="0.3"/>
<path d="M1575.2 187.0 C1575.4 189.0 1574.8 191.2 1574.2 193.2 C1573.5 195.2 1572.5 197.7 1571.0 198.8 C1569.6 200.0 1567.2 199.9 1565.4 200.0 C1563.5 200.0 1561.6 200.0 1560.0 199.3 C1558.3 198.6 1556.4 197.5 1555.4 195.9 C1554.3 194.3 1554.2 191.9 1553.8 189.9 C1553.4 187.9 1552.7 185.8 1553.0 183.8 C1553.2 181.9 1554.2 179.7 1555.3 178.0 C1556.4 176.4 1558.1 174.4 1559.7 173.9 C1561.4 173.4 1563.5 174.7 1565.2 175.1 C1567.0 175.6 1568.8 175.6 1570.2 176.6 C1571.5 177.7 1572.3 179.7 1573.1 181.4 C1574.0 183.2 1575.0 185.0 1575.2 187.0Z" fill="#000" filter="url(#tex2)" opacity="0.55"/>
<path d="M1492.9 233.5 C1492.9 236.5 1493.0 239.8 1491.9 242.3 C1490.9 244.8 1488.8 247.0 1486.8 248.5 C1484.8 250.0 1482.4 251.0 1480.0 251.2 C1477.6 251.5 1474.6 251.4 1472.6 249.9 C1470.5 248.5 1468.4 245.3 1467.7 242.5 C1467.1 239.8 1468.2 236.2 1468.6 233.5 C1468.9 230.8 1469.0 228.4 1469.9 226.1 C1470.7 223.7 1471.9 220.8 1473.6 219.4 C1475.3 218.0 1477.7 218.0 1480.0 217.6 C1482.3 217.2 1485.6 215.6 1487.6 216.8 C1489.6 217.9 1491.3 221.7 1492.2 224.5 C1493.1 227.3 1493.0 230.5 1492.9 233.5Z" fill="#d9b3ae" opacity="0.45" filter="url(#soft)"/>
<path d="M1491.7 234.7 C1491.9 236.8 1491.6 239.5 1490.9 241.5 C1490.2 243.5 1488.9 245.7 1487.4 246.7 C1486.0 247.7 1484.0 247.6 1482.4 247.6 C1480.8 247.5 1479.3 247.1 1477.8 246.4 C1476.4 245.8 1474.6 245.2 1473.5 243.8 C1472.4 242.4 1472.0 240.0 1471.4 237.9 C1470.9 235.8 1469.9 233.3 1470.2 231.1 C1470.4 228.9 1471.7 226.6 1472.9 225.0 C1474.1 223.3 1475.8 222.0 1477.4 221.2 C1478.9 220.5 1480.8 220.3 1482.5 220.5 C1484.2 220.8 1486.2 221.4 1487.4 222.7 C1488.7 224.1 1489.1 226.7 1489.9 228.7 C1490.6 230.7 1491.6 232.6 1491.7 234.7Z" fill="#4d4246" opacity="0.75" filter="url(#shad)"/>
<path d="M1489.3 232.5 C1489.5 234.6 1489.2 237.2 1488.5 239.1 C1487.8 241.1 1486.5 243.3 1485.1 244.3 C1483.7 245.3 1481.7 245.2 1480.2 245.1 C1478.6 245.1 1477.2 244.6 1475.7 244.0 C1474.3 243.4 1472.5 242.8 1471.4 241.4 C1470.4 240.0 1469.9 237.7 1469.4 235.6 C1468.9 233.6 1468.0 231.1 1468.2 229.0 C1468.5 226.9 1469.7 224.6 1470.9 223.0 C1472.1 221.4 1473.7 220.0 1475.2 219.3 C1476.8 218.6 1478.6 218.4 1480.3 218.6 C1481.9 218.9 1483.9 219.4 1485.1 220.7 C1486.3 222.1 1486.8 224.6 1487.5 226.6 C1488.2 228.5 1489.2 230.4 1489.3 232.5Z" fill="url(#tB)"/>
<path d="M1488.8 232.5 C1489.0 234.5 1488.7 236.9 1488.1 238.8 C1487.4 240.7 1486.1 242.7 1484.8 243.7 C1483.5 244.6 1481.6 244.5 1480.1 244.5 C1478.6 244.5 1477.3 244.0 1475.9 243.4 C1474.5 242.8 1472.8 242.3 1471.8 241.0 C1470.8 239.6 1470.4 237.4 1469.9 235.5 C1469.4 233.5 1468.5 231.2 1468.8 229.1 C1469.0 227.1 1470.2 225.0 1471.3 223.4 C1472.4 221.9 1473.9 220.7 1475.4 220.0 C1476.9 219.3 1478.6 219.1 1480.2 219.3 C1481.8 219.5 1483.7 220.1 1484.8 221.3 C1486.0 222.6 1486.4 225.0 1487.1 226.9 C1487.7 228.7 1488.7 230.5 1488.8 232.5Z" fill="#000" filter="url(#tex)" opacity="0.3"/>
<path d="M1488.5 232.5 C1488.7 234.4 1488.4 236.8 1487.8 238.6 C1487.1 240.4 1485.9 242.4 1484.6 243.3 C1483.4 244.2 1481.5 244.2 1480.1 244.1 C1478.6 244.1 1477.3 243.7 1476.0 243.1 C1474.6 242.5 1473.0 242.0 1472.0 240.7 C1471.1 239.4 1470.7 237.3 1470.2 235.4 C1469.7 233.5 1468.8 231.2 1469.1 229.3 C1469.3 227.3 1470.5 225.2 1471.5 223.7 C1472.6 222.2 1474.1 221.0 1475.5 220.4 C1477.0 219.7 1478.7 219.5 1480.2 219.7 C1481.7 220.0 1483.5 220.5 1484.6 221.7 C1485.7 222.9 1486.2 225.3 1486.8 227.1 C1487.5 228.9 1488.4 230.6 1488.5 232.5Z" fill="#000" filter="url(#tex2)" opacity="0.55"/>
<path d="M1536.8 231.2 C1536.9 233.5 1537.2 236.3 1536.5 238.5 C1535.8 240.7 1534.0 242.7 1532.4 244.1 C1530.8 245.6 1528.7 247.3 1526.8 247.3 C1524.9 247.4 1522.9 245.5 1521.2 244.3 C1519.5 243.2 1517.7 242.3 1516.6 240.6 C1515.4 239.0 1514.7 236.7 1514.2 234.5 C1513.8 232.4 1513.8 230.1 1514.0 227.8 C1514.3 225.5 1514.4 222.3 1515.6 220.7 C1516.8 219.1 1519.4 219.0 1521.2 218.2 C1523.1 217.5 1524.9 215.9 1526.7 216.1 C1528.4 216.3 1530.2 218.2 1531.7 219.6 C1533.2 221.0 1534.7 222.6 1535.5 224.5 C1536.4 226.4 1536.6 228.9 1536.8 231.2Z" fill="#4d4246" opacity="0.75" filter="url(#shad)"/>
<path d="M1534.4 229.0 C1534.5 231.3 1534.8 234.0 1534.1 236.2 C1533.3 238.3 1531.7 240.2 1530.1 241.7 C1528.5 243.1 1526.4 244.8 1524.6 244.8 C1522.7 244.9 1520.7 243.0 1519.0 241.9 C1517.4 240.8 1515.7 239.8 1514.6 238.2 C1513.4 236.6 1512.7 234.4 1512.3 232.3 C1511.8 230.2 1511.8 227.9 1512.1 225.7 C1512.3 223.4 1512.4 220.2 1513.6 218.7 C1514.7 217.1 1517.3 217.0 1519.1 216.3 C1520.9 215.5 1522.7 214.0 1524.5 214.2 C1526.2 214.4 1527.9 216.2 1529.4 217.6 C1530.8 219.0 1532.3 220.5 1533.1 222.4 C1534.0 224.3 1534.2 226.7 1534.4 229.0Z" fill="url(#tC)"/>
<path d="M1533.8 229.0 C1533.9 231.2 1534.2 233.8 1533.5 235.8 C1532.8 237.8 1531.2 239.7 1529.7 241.0 C1528.2 242.4 1526.2 244.0 1524.5 244.0 C1522.7 244.1 1520.8 242.3 1519.2 241.2 C1517.7 240.2 1516.0 239.3 1515.0 237.8 C1513.9 236.2 1513.2 234.1 1512.8 232.1 C1512.4 230.1 1512.4 228.0 1512.6 225.8 C1512.8 223.7 1512.9 220.7 1514.0 219.2 C1515.1 217.7 1517.6 217.6 1519.3 216.9 C1521.0 216.2 1522.8 214.7 1524.4 214.9 C1526.0 215.2 1527.7 216.9 1529.1 218.2 C1530.4 219.5 1531.9 221.0 1532.6 222.8 C1533.4 224.6 1533.7 226.8 1533.8 229.0Z" fill="#000" filter="url(#tex)" opacity="0.3"/>
<path d="M1533.5 229.0 C1533.6 231.1 1533.8 233.6 1533.2 235.6 C1532.5 237.5 1531.0 239.3 1529.5 240.7 C1528.1 242.0 1526.1 243.5 1524.4 243.6 C1522.7 243.6 1520.9 241.9 1519.4 240.9 C1517.8 239.8 1516.3 239.0 1515.2 237.5 C1514.2 236.0 1513.5 233.9 1513.1 232.0 C1512.7 230.1 1512.7 228.0 1512.9 225.9 C1513.1 223.9 1513.2 220.9 1514.3 219.5 C1515.4 218.1 1517.7 218.0 1519.4 217.3 C1521.1 216.6 1522.8 215.2 1524.3 215.4 C1525.9 215.6 1527.5 217.2 1528.9 218.5 C1530.2 219.8 1531.6 221.2 1532.3 223.0 C1533.1 224.7 1533.3 226.9 1533.5 229.0Z" fill="#000" filter="url(#tex2)" opacity="0.55"/>
<path d="M1581.2 227.8 C1580.6 230.2 1579.7 231.7 1578.7 233.9 C1577.8 236.0 1577.4 239.7 1575.6 240.8 C1573.8 241.9 1570.4 240.7 1567.8 240.7 C1565.2 240.6 1562.0 241.7 1560.1 240.6 C1558.2 239.5 1558.2 236.1 1556.6 234.0 C1555.0 231.9 1550.9 230.1 1550.5 227.8 C1550.1 225.5 1552.5 222.2 1554.2 220.3 C1556.0 218.4 1558.7 217.2 1561.0 216.4 C1563.2 215.7 1565.3 216.3 1567.8 215.9 C1570.3 215.5 1573.6 213.4 1576.1 214.0 C1578.5 214.7 1581.6 217.4 1582.4 219.7 C1583.3 222.0 1581.8 225.4 1581.2 227.8Z" fill="#d9b3ae" opacity="0.45" filter="url(#soft)"/>
<path d="M1580.0 229.0 C1580.2 230.8 1580.8 233.1 1580.1 234.8 C1579.5 236.5 1577.7 238.0 1576.1 239.2 C1574.5 240.4 1572.4 242.0 1570.6 242.1 C1568.7 242.2 1566.6 240.6 1564.9 239.7 C1563.3 238.8 1561.8 237.8 1560.5 236.6 C1559.1 235.3 1557.3 233.8 1556.7 232.0 C1556.1 230.3 1556.3 227.8 1556.9 226.0 C1557.5 224.2 1559.1 222.8 1560.4 221.4 C1561.7 219.9 1562.9 218.0 1564.6 217.3 C1566.2 216.6 1568.5 217.1 1570.4 217.3 C1572.4 217.5 1574.9 217.4 1576.3 218.5 C1577.6 219.6 1578.1 222.1 1578.8 223.9 C1579.4 225.6 1579.8 227.2 1580.0 229.0Z" fill="#4d4246" opacity="0.75" filter="url(#shad)"/>
<path d="M1577.6 226.8 C1577.8 228.6 1578.4 230.9 1577.7 232.5 C1577.1 234.2 1575.3 235.6 1573.7 236.8 C1572.2 238.0 1570.2 239.6 1568.4 239.6 C1566.5 239.7 1564.5 238.2 1562.8 237.3 C1561.2 236.4 1559.8 235.5 1558.4 234.2 C1557.1 233.0 1555.3 231.5 1554.8 229.8 C1554.2 228.0 1554.3 225.6 1554.9 223.9 C1555.5 222.1 1557.1 220.7 1558.4 219.3 C1559.6 217.9 1560.8 216.0 1562.4 215.3 C1564.1 214.7 1566.3 215.2 1568.2 215.4 C1570.1 215.5 1572.5 215.4 1573.9 216.5 C1575.3 217.6 1575.8 220.1 1576.4 221.8 C1577.0 223.5 1577.4 225.0 1577.6 226.8Z" fill="url(#tB)"/>
<path d="M1577.0 226.8 C1577.3 228.5 1577.8 230.7 1577.2 232.2 C1576.6 233.8 1574.9 235.2 1573.4 236.3 C1571.9 237.5 1570.0 238.9 1568.3 239.0 C1566.6 239.1 1564.6 237.6 1563.0 236.8 C1561.5 235.9 1560.1 235.0 1558.9 233.8 C1557.6 232.6 1555.9 231.3 1555.4 229.6 C1554.8 228.0 1555.0 225.7 1555.5 224.0 C1556.1 222.4 1557.6 221.0 1558.8 219.7 C1560.0 218.3 1561.1 216.5 1562.7 215.9 C1564.2 215.3 1566.3 215.7 1568.1 215.9 C1569.9 216.1 1572.3 216.0 1573.6 217.0 C1574.9 218.0 1575.3 220.4 1575.9 222.0 C1576.5 223.7 1576.8 225.1 1577.0 226.8Z" fill="#000" filter="url(#tex)" opacity="0.3"/>
<path d="M1576.7 226.8 C1576.9 228.4 1577.4 230.5 1576.8 232.1 C1576.3 233.6 1574.6 234.9 1573.2 236.0 C1571.7 237.1 1569.9 238.6 1568.2 238.6 C1566.6 238.7 1564.7 237.3 1563.1 236.4 C1561.6 235.6 1560.3 234.8 1559.1 233.6 C1557.9 232.5 1556.3 231.1 1555.7 229.5 C1555.2 227.9 1555.3 225.7 1555.9 224.1 C1556.4 222.5 1557.9 221.2 1559.0 219.9 C1560.2 218.6 1561.3 216.8 1562.8 216.2 C1564.3 215.6 1566.3 216.1 1568.1 216.3 C1569.8 216.4 1572.1 216.3 1573.3 217.3 C1574.6 218.3 1575.0 220.6 1575.6 222.2 C1576.2 223.8 1576.5 225.2 1576.7 226.8Z" fill="#000" filter="url(#tex2)" opacity="0.55"/>
<path d="M1494.4 274.8 C1494.2 276.4 1492.0 277.7 1491.1 279.3 C1490.2 280.8 1490.2 283.3 1489.0 284.2 C1487.8 285.1 1485.6 284.4 1483.8 284.7 C1482.0 285.0 1479.8 286.6 1478.4 286.0 C1477.0 285.4 1476.6 282.6 1475.4 281.2 C1474.3 279.8 1471.9 279.1 1471.3 277.6 C1470.7 276.1 1471.3 273.9 1471.8 272.1 C1472.2 270.4 1472.9 268.5 1474.0 267.1 C1475.1 265.6 1476.7 264.0 1478.4 263.6 C1480.0 263.2 1482.1 264.2 1483.8 264.7 C1485.5 265.1 1487.0 265.4 1488.5 266.2 C1489.9 267.0 1491.5 268.1 1492.5 269.5 C1493.5 271.0 1494.6 273.2 1494.4 274.8Z" fill="#4d4246" opacity="0.75" filter="url(#shad)"/>
<path d="M1492.0 272.6 C1491.7 274.2 1489.6 275.5 1488.7 277.0 C1487.8 278.5 1487.9 280.9 1486.7 281.8 C1485.5 282.7 1483.3 282.0 1481.6 282.3 C1479.8 282.6 1477.6 284.1 1476.3 283.6 C1474.9 283.0 1474.5 280.3 1473.4 278.9 C1472.2 277.5 1470.0 276.8 1469.4 275.3 C1468.8 273.9 1469.4 271.7 1469.8 270.0 C1470.2 268.2 1470.8 266.4 1471.9 265.0 C1473.0 263.6 1474.7 262.0 1476.3 261.6 C1477.9 261.2 1479.9 262.2 1481.6 262.7 C1483.2 263.1 1484.7 263.4 1486.2 264.2 C1487.6 265.0 1489.2 266.0 1490.1 267.4 C1491.1 268.9 1492.2 271.0 1492.0 272.6Z" fill="url(#tB)"/>
<path d="M1491.4 272.6 C1491.2 274.1 1489.1 275.3 1488.3 276.8 C1487.4 278.2 1487.5 280.5 1486.4 281.3 C1485.2 282.2 1483.2 281.6 1481.5 281.8 C1479.9 282.1 1477.8 283.6 1476.5 283.0 C1475.2 282.5 1474.8 279.9 1473.7 278.6 C1472.6 277.3 1470.5 276.6 1469.9 275.2 C1469.3 273.8 1469.9 271.7 1470.3 270.1 C1470.7 268.5 1471.3 266.7 1472.3 265.4 C1473.4 264.1 1474.9 262.5 1476.5 262.1 C1478.0 261.8 1480.0 262.8 1481.5 263.2 C1483.1 263.6 1484.5 263.9 1485.9 264.6 C1487.2 265.4 1488.7 266.4 1489.6 267.7 C1490.6 269.0 1491.6 271.1 1491.4 272.6Z" fill="#000" filter="url(#tex)" opacity="0.3"/>
<path d="M1491.0 272.6 C1490.8 274.1 1488.8 275.2 1488.0 276.6 C1487.2 278.1 1487.3 280.2 1486.2 281.0 C1485.1 281.9 1483.1 281.3 1481.5 281.6 C1479.9 281.8 1477.9 283.2 1476.6 282.7 C1475.4 282.2 1475.0 279.6 1473.9 278.4 C1472.9 277.1 1470.8 276.5 1470.2 275.1 C1469.7 273.8 1470.3 271.8 1470.6 270.2 C1471.0 268.6 1471.6 266.9 1472.6 265.6 C1473.6 264.3 1475.1 262.8 1476.6 262.5 C1478.1 262.1 1480.0 263.1 1481.5 263.5 C1483.0 263.9 1484.4 264.1 1485.7 264.9 C1487.0 265.6 1488.5 266.6 1489.3 267.9 C1490.2 269.2 1491.3 271.1 1491.0 272.6Z" fill="#000" filter="url(#tex2)" opacity="0.55"/>
<path d="M1534.4 269.7 C1534.3 271.4 1534.2 273.2 1533.5 274.7 C1532.8 276.1 1531.5 277.4 1530.2 278.4 C1528.9 279.3 1527.3 280.0 1525.7 280.2 C1524.2 280.4 1522.5 280.0 1521.0 279.5 C1519.4 279.0 1517.6 278.3 1516.6 277.0 C1515.6 275.8 1515.5 273.8 1515.1 272.1 C1514.7 270.5 1513.9 268.5 1514.3 267.1 C1514.7 265.6 1516.6 264.5 1517.7 263.4 C1518.8 262.2 1519.7 260.8 1521.0 260.1 C1522.4 259.5 1524.2 259.2 1525.7 259.5 C1527.2 259.7 1528.4 260.7 1529.8 261.6 C1531.2 262.4 1533.3 263.1 1534.0 264.5 C1534.8 265.8 1534.5 268.0 1534.4 269.7Z" fill="#4d4246" opacity="0.75" filter="url(#shad)"/>
<path d="M1532.0 267.5 C1531.9 269.2 1531.8 270.9 1531.1 272.4 C1530.4 273.8 1529.1 275.1 1527.9 276.0 C1526.6 276.9 1525.0 277.6 1523.5 277.8 C1522.0 278.0 1520.3 277.6 1518.8 277.1 C1517.3 276.6 1515.5 275.9 1514.6 274.7 C1513.6 273.5 1513.5 271.5 1513.1 269.9 C1512.7 268.2 1511.9 266.3 1512.3 264.9 C1512.7 263.5 1514.5 262.4 1515.6 261.3 C1516.7 260.2 1517.6 258.7 1518.9 258.1 C1520.2 257.5 1522.0 257.2 1523.5 257.5 C1524.9 257.7 1526.2 258.7 1527.5 259.5 C1528.9 260.4 1530.9 261.0 1531.6 262.4 C1532.4 263.7 1532.1 265.8 1532.0 267.5Z" fill="url(#tB)"/>
<path d="M1531.5 267.5 C1531.4 269.1 1531.3 270.8 1530.7 272.1 C1530.0 273.5 1528.8 274.7 1527.6 275.6 C1526.4 276.4 1524.9 277.1 1523.4 277.3 C1522.0 277.5 1520.4 277.1 1519.0 276.6 C1517.6 276.2 1515.8 275.5 1514.9 274.3 C1514.0 273.2 1513.9 271.3 1513.6 269.8 C1513.2 268.2 1512.4 266.4 1512.8 265.0 C1513.2 263.7 1514.9 262.7 1516.0 261.6 C1517.0 260.5 1517.8 259.2 1519.1 258.6 C1520.3 258.0 1522.0 257.7 1523.4 258.0 C1524.8 258.2 1526.0 259.2 1527.3 259.9 C1528.6 260.7 1530.5 261.4 1531.2 262.6 C1531.9 263.9 1531.6 265.9 1531.5 267.5Z" fill="#000" filter="url(#tex)" opacity="0.3"/>
<path d="M1531.2 267.5 C1531.1 269.0 1531.0 270.7 1530.4 272.0 C1529.8 273.3 1528.6 274.5 1527.4 275.3 C1526.3 276.1 1524.8 276.8 1523.4 277.0 C1522.0 277.2 1520.5 276.8 1519.1 276.4 C1517.7 275.9 1516.1 275.2 1515.2 274.1 C1514.3 273.0 1514.2 271.2 1513.8 269.7 C1513.5 268.2 1512.7 266.4 1513.1 265.1 C1513.5 263.8 1515.1 262.8 1516.2 261.8 C1517.2 260.7 1518.0 259.4 1519.2 258.9 C1520.4 258.3 1522.0 258.0 1523.4 258.3 C1524.7 258.5 1525.9 259.4 1527.1 260.2 C1528.4 260.9 1530.2 261.5 1530.9 262.8 C1531.6 264.0 1531.3 266.0 1531.2 267.5Z" fill="#000" filter="url(#tex2)" opacity="0.55"/>
<path d="M1582.0 272.7 C1582.1 274.7 1582.0 277.0 1581.3 278.9 C1580.6 280.8 1579.3 283.0 1577.8 284.0 C1576.2 284.9 1573.9 284.3 1572.1 284.5 C1570.2 284.7 1568.3 285.5 1566.6 285.0 C1565.0 284.5 1563.3 282.9 1562.1 281.3 C1560.9 279.8 1559.8 277.7 1559.6 275.8 C1559.4 273.9 1560.3 271.7 1560.9 270.0 C1561.6 268.2 1562.3 266.7 1563.3 265.3 C1564.3 263.9 1565.5 262.3 1567.0 261.4 C1568.4 260.4 1570.6 259.4 1572.2 259.7 C1573.8 260.0 1575.4 261.8 1576.8 263.0 C1578.2 264.2 1579.8 265.3 1580.6 266.9 C1581.5 268.5 1581.9 270.7 1582.0 272.7Z" fill="#4d4246" opacity="0.75" filter="url(#shad)"/>
<path d="M1579.6 270.5 C1579.7 272.5 1579.6 274.7 1578.9 276.6 C1578.2 278.4 1576.9 280.6 1575.4 281.6 C1573.9 282.5 1571.7 281.9 1569.9 282.1 C1568.0 282.2 1566.1 283.1 1564.5 282.6 C1562.9 282.1 1561.2 280.5 1560.1 279.0 C1558.9 277.4 1557.8 275.4 1557.6 273.5 C1557.4 271.7 1558.3 269.5 1558.9 267.8 C1559.5 266.1 1560.3 264.7 1561.3 263.3 C1562.3 261.8 1563.4 260.3 1564.8 259.4 C1566.3 258.5 1568.4 257.5 1570.0 257.7 C1571.6 258.0 1573.1 259.8 1574.5 261.0 C1575.8 262.2 1577.4 263.2 1578.3 264.8 C1579.1 266.4 1579.4 268.5 1579.6 270.5Z" fill="url(#tB)"/>
<path d="M1579.0 270.5 C1579.1 272.4 1579.0 274.5 1578.4 276.2 C1577.7 278.0 1576.5 280.1 1575.1 281.0 C1573.6 281.9 1571.5 281.3 1569.8 281.5 C1568.1 281.6 1566.3 282.5 1564.7 282.0 C1563.2 281.5 1561.6 280.0 1560.5 278.5 C1559.4 277.1 1558.4 275.1 1558.2 273.4 C1558.0 271.6 1558.8 269.6 1559.4 268.0 C1560.0 266.3 1560.7 265.0 1561.7 263.6 C1562.6 262.3 1563.6 260.8 1565.0 259.9 C1566.4 259.1 1568.4 258.1 1569.9 258.4 C1571.4 258.6 1572.9 260.4 1574.2 261.5 C1575.5 262.6 1577.0 263.6 1577.8 265.1 C1578.6 266.6 1578.9 268.6 1579.0 270.5Z" fill="#000" filter="url(#tex)" opacity="0.3"/>
<path d="M1578.7 270.5 C1578.8 272.3 1578.7 274.4 1578.1 276.1 C1577.4 277.8 1576.3 279.8 1574.9 280.7 C1573.5 281.5 1571.4 281.0 1569.8 281.1 C1568.1 281.3 1566.3 282.1 1564.8 281.6 C1563.3 281.1 1561.8 279.7 1560.8 278.3 C1559.7 276.9 1558.7 275.0 1558.5 273.3 C1558.3 271.6 1559.1 269.6 1559.7 268.0 C1560.3 266.5 1561.0 265.1 1561.9 263.8 C1562.8 262.5 1563.8 261.1 1565.1 260.3 C1566.5 259.4 1568.4 258.5 1569.9 258.8 C1571.3 259.0 1572.7 260.7 1574.0 261.8 C1575.3 262.9 1576.7 263.8 1577.5 265.3 C1578.3 266.7 1578.6 268.7 1578.7 270.5Z" fill="#000" filter="url(#tex2)" opacity="0.55"/>
<ellipse cx="1518.5" cy="92" rx="3.5" ry="6" fill="#4a2228" opacity="0.85" filter="url(#soft)"/>
<ellipse cx="1516" cy="141" rx="2.5" ry="4" fill="#5a2830" opacity="0.7" filter="url(#soft)"/>
<ellipse cx="1521" cy="226" rx="3" ry="5" fill="#c2303a" opacity="0.6" filter="url(#soft)"/>
</g>
<rect x="1441.7" y="2.8" width="158.6" height="295.4" fill="none" stroke="#000" stroke-width="3.4"/>
<rect x="1443" y="305" width="156" height="20" fill="#cfcdcc"/>
<rect x="1443" y="305" width="156" height="20" filter="url(#paperd)" opacity="0.25"/>
<line x1="1445" y1="305" x2="1445" y2="308.5" stroke="#c8343c" stroke-width="0.8" stroke-linecap="butt"/>
<line x1="1447.7" y1="305" x2="1447.7" y2="308.5" stroke="#c8343c" stroke-width="0.8" stroke-linecap="butt"/>
<line x1="1450.4" y1="305" x2="1450.4" y2="308.5" stroke="#c8343c" stroke-width="0.8" stroke-linecap="butt"/>
<line x1="1453.1" y1="305" x2="1453.1" y2="308.5" stroke="#c8343c" stroke-width="0.8" stroke-linecap="butt"/>
<line x1="1455.8" y1="305" x2="1455.8" y2="308.5" stroke="#c8343c" stroke-width="0.8" stroke-linecap="butt"/>
<line x1="1458.5" y1="305" x2="1458.5" y2="308.5" stroke="#c8343c" stroke-width="0.8" stroke-linecap="butt"/>
<line x1="1461.2" y1="305" x2="1461.2" y2="308.5" stroke="#c8343c" stroke-width="0.8" stroke-linecap="butt"/>
<line x1="1463.9" y1="305" x2="1463.9" y2="308.5" stroke="#c8343c" stroke-width="0.8" stroke-linecap="butt"/>
<line x1="1466.6" y1="305" x2="1466.6" y2="308.5" stroke="#c8343c" stroke-width="0.8" stroke-linecap="butt"/>
<line x1="1469.3" y1="305" x2="1469.3" y2="308.5" stroke="#c8343c" stroke-width="0.8" stroke-linecap="butt"/>
<line x1="1472" y1="305" x2="1472" y2="308.5" stroke="#c8343c" stroke-width="0.8" stroke-linecap="butt"/>
<line x1="1474.7" y1="305" x2="1474.7" y2="308.5" stroke="#c8343c" stroke-width="0.8" stroke-linecap="butt"/>
<line x1="1477.4" y1="305" x2="1477.4" y2="308.5" stroke="#c8343c" stroke-width="0.8" stroke-linecap="butt"/>
<line x1="1480.1" y1="305" x2="1480.1" y2="308.5" stroke="#c8343c" stroke-width="0.8" stroke-linecap="butt"/>
<line x1="1482.8" y1="305" x2="1482.8" y2="308.5" stroke="#c8343c" stroke-width="0.8" stroke-linecap="butt"/>
<line x1="1485.5" y1="305" x2="1485.5" y2="308.5" stroke="#c8343c" stroke-width="0.8" stroke-linecap="butt"/>
<line x1="1488.2" y1="305" x2="1488.2" y2="308.5" stroke="#c8343c" stroke-width="0.8" stroke-linecap="butt"/>
<line x1="1490.9" y1="305" x2="1490.9" y2="308.5" stroke="#c8343c" stroke-width="0.8" stroke-linecap="butt"/>
<line x1="1493.6" y1="305" x2="1493.6" y2="308.5" stroke="#c8343c" stroke-width="0.8" stroke-linecap="butt"/>
<line x1="1496.3" y1="305" x2="1496.3" y2="308.5" stroke="#c8343c" stroke-width="0.8" stroke-linecap="butt"/>
<line x1="1499" y1="305" x2="1499" y2="308.5" stroke="#c8343c" stroke-width="0.8" stroke-linecap="butt"/>
<line x1="1501.7" y1="305" x2="1501.7" y2="308.5" stroke="#c8343c" stroke-width="0.8" stroke-linecap="butt"/>
<line x1="1504.4" y1="305" x2="1504.4" y2="308.5" stroke="#c8343c" stroke-width="0.8" stroke-linecap="butt"/>
<line x1="1507.1" y1="305" x2="1507.1" y2="308.5" stroke="#c8343c" stroke-width="0.8" stroke-linecap="butt"/>
<line x1="1509.8" y1="305" x2="1509.8" y2="308.5" stroke="#c8343c" stroke-width="0.8" stroke-linecap="butt"/>
<line x1="1512.5" y1="305" x2="1512.5" y2="308.5" stroke="#c8343c" stroke-width="0.8" stroke-linecap="butt"/>
<line x1="1515.2" y1="305" x2="1515.2" y2="308.5" stroke="#c8343c" stroke-width="0.8" stroke-linecap="butt"/>
<line x1="1517.9" y1="305" x2="1517.9" y2="308.5" stroke="#c8343c" stroke-width="0.8" stroke-linecap="butt"/>
<line x1="1520.6" y1="305" x2="1520.6" y2="308.5" stroke="#c8343c" stroke-width="0.8" stroke-linecap="butt"/>
<line x1="1523.3" y1="305" x2="1523.3" y2="308.5" stroke="#c8343c" stroke-width="0.8" stroke-linecap="butt"/>
<line x1="1526" y1="305" x2="1526" y2="308.5" stroke="#c8343c" stroke-width="0.8" stroke-linecap="butt"/>
<line x1="1528.7" y1="305" x2="1528.7" y2="308.5" stroke="#c8343c" stroke-width="0.8" stroke-linecap="butt"/>
<line x1="1531.4" y1="305" x2="1531.4" y2="308.5" stroke="#c8343c" stroke-width="0.8" stroke-linecap="butt"/>
<line x1="1534.1" y1="305" x2="1534.1" y2="308.5" stroke="#c8343c" stroke-width="0.8" stroke-linecap="butt"/>
<line x1="1536.8" y1="305" x2="1536.8" y2="308.5" stroke="#c8343c" stroke-width="0.8" stroke-linecap="butt"/>
<line x1="1539.5" y1="305" x2="1539.5" y2="308.5" stroke="#c8343c" stroke-width="0.8" stroke-linecap="butt"/>
<line x1="1542.2" y1="305" x2="1542.2" y2="308.5" stroke="#c8343c" stroke-width="0.8" stroke-linecap="butt"/>
<line x1="1544.9" y1="305" x2="1544.9" y2="308.5" stroke="#c8343c" stroke-width="0.8" stroke-linecap="butt"/>
<line x1="1547.6" y1="305" x2="1547.6" y2="308.5" stroke="#c8343c" stroke-width="0.8" stroke-linecap="butt"/>
<line x1="1550.3" y1="305" x2="1550.3" y2="308.5" stroke="#c8343c" stroke-width="0.8" stroke-linecap="butt"/>
<line x1="1553" y1="305" x2="1553" y2="308.5" stroke="#c8343c" stroke-width="0.8" stroke-linecap="butt"/>
<line x1="1555.7" y1="305" x2="1555.7" y2="308.5" stroke="#c8343c" stroke-width="0.8" stroke-linecap="butt"/>
<line x1="1558.4" y1="305" x2="1558.4" y2="308.5" stroke="#c8343c" stroke-width="0.8" stroke-linecap="butt"/>
<line x1="1561.1" y1="305" x2="1561.1" y2="308.5" stroke="#c8343c" stroke-width="0.8" stroke-linecap="butt"/>
<line x1="1563.8" y1="305" x2="1563.8" y2="308.5" stroke="#c8343c" stroke-width="0.8" stroke-linecap="butt"/>
<line x1="1566.5" y1="305" x2="1566.5" y2="308.5" stroke="#c8343c" stroke-width="0.8" stroke-linecap="butt"/>
<line x1="1569.2" y1="305" x2="1569.2" y2="308.5" stroke="#c8343c" stroke-width="0.8" stroke-linecap="butt"/>
<line x1="1571.9" y1="305" x2="1571.9" y2="308.5" stroke="#c8343c" stroke-width="0.8" stroke-linecap="butt"/>
<line x1="1574.6" y1="305" x2="1574.6" y2="308.5" stroke="#c8343c" stroke-width="0.8" stroke-linecap="butt"/>
<line x1="1577.3" y1="305" x2="1577.3" y2="308.5" stroke="#c8343c" stroke-width="0.8" stroke-linecap="butt"/>
<line x1="1580" y1="305" x2="1580" y2="308.5" stroke="#c8343c" stroke-width="0.8" stroke-linecap="butt"/>
<line x1="1582.7" y1="305" x2="1582.7" y2="308.5" stroke="#c8343c" stroke-width="0.8" stroke-linecap="butt"/>
<line x1="1585.4" y1="305" x2="1585.4" y2="308.5" stroke="#c8343c" stroke-width="0.8" stroke-linecap="butt"/>
<line x1="1588.1" y1="305" x2="1588.1" y2="308.5" stroke="#c8343c" stroke-width="0.8" stroke-linecap="butt"/>
<line x1="1590.8" y1="305" x2="1590.8" y2="308.5" stroke="#c8343c" stroke-width="0.8" stroke-linecap="butt"/>
<line x1="1593.5" y1="305" x2="1593.5" y2="308.5" stroke="#c8343c" stroke-width="0.8" stroke-linecap="butt"/>
<line x1="1596.2" y1="305" x2="1596.2" y2="308.5" stroke="#c8343c" stroke-width="0.8" stroke-linecap="butt"/>
<line x1="1461" y1="305" x2="1461" y2="325" stroke="#c8343c" stroke-width="1" stroke-linecap="butt"/>
<line x1="1488.2" y1="305" x2="1488.2" y2="325" stroke="#c8343c" stroke-width="1" stroke-linecap="butt"/>
<line x1="1515.4" y1="305" x2="1515.4" y2="325" stroke="#c8343c" stroke-width="1" stroke-linecap="butt"/>
<line x1="1542.1" y1="305" x2="1542.1" y2="325" stroke="#c8343c" stroke-width="1" stroke-linecap="butt"/>
<line x1="1568.4" y1="305" x2="1568.4" y2="325" stroke="#c8343c" stroke-width="1" stroke-linecap="butt"/>
<line x1="1596" y1="305" x2="1596" y2="325" stroke="#c8343c" stroke-width="1" stroke-linecap="butt"/>
<line x1="1447.7" y1="305" x2="1447.7" y2="314" stroke="#c8343c" stroke-width="1" stroke-linecap="butt"/>
<line x1="1474.9" y1="305" x2="1474.9" y2="314" stroke="#c8343c" stroke-width="1" stroke-linecap="butt"/>
<line x1="1501.6" y1="305" x2="1501.6" y2="314" stroke="#c8343c" stroke-width="1" stroke-linecap="butt"/>
<line x1="1528.8" y1="305" x2="1528.8" y2="314" stroke="#c8343c" stroke-width="1" stroke-linecap="butt"/>
<line x1="1555" y1="305" x2="1555" y2="314" stroke="#c8343c" stroke-width="1" stroke-linecap="butt"/>
<line x1="1581.8" y1="305" x2="1581.8" y2="314" stroke="#c8343c" stroke-width="1" stroke-linecap="butt"/>
<text class="r" transform="translate(1449.7 316.5) rotate(90)" font-size="15" font-weight="bold" fill="#c0222c" text-anchor="middle" font-family="Liberation Serif">2</text>
<text class="r" transform="translate(1476.0 316.5) rotate(90)" font-size="15" font-weight="bold" fill="#c0222c" text-anchor="middle" font-family="Liberation Serif">3</text>
<text class="r" transform="translate(1530.4 316.5) rotate(90)" font-size="15" font-weight="bold" fill="#c0222c" text-anchor="middle" font-family="Liberation Serif">5</text>
<text class="r" transform="translate(1556.7 316.5) rotate(90)" font-size="15" font-weight="bold" fill="#c0222c" text-anchor="middle" font-family="Liberation Serif">6</text>
<text class="r" transform="translate(1583.9 316.5) rotate(90)" font-size="15" font-weight="bold" fill="#c0222c" text-anchor="middle" font-family="Liberation Serif">7</text>
<text class="r" x="1494.5" y="319.8" font-size="12" font-weight="bold" fill="#c0222c" text-anchor="middle" font-family="Liberation Serif">2</text>
<text class="r" x="1508.3" y="319.5" font-size="11" font-style="italic" font-weight="bold" fill="#c0222c" text-anchor="middle" font-family="Liberation Serif">m</text>
<rect x="1441.7" y="303.5" width="158.6" height="23" fill="none" stroke="#000" stroke-width="3.2"/>
<text x="1608.5" y="42.3" font-size="22.5">Saline</text>
<text x="1608.5" y="90.6" font-size="22.5">Vehicle</text>
<text x="1608.5" y="140.3" font-size="22.5">Cisplatin</text>
<text x="1608.5" y="189.6" font-size="22.5">AZD0466</text>
<text x="1608.5" y="236.3" font-size="22.5">Cisplatin + Vehicle</text>
<text x="1608.5" y="281.9" font-size="22.5">Cisplatin + AZD0466</text>
<text x="0.6" y="562.3" font-size="38.5" font-weight="bold">C</text>
<polyline points="175.5,549.4 321.77,549.4 321.77,549.4 321.77,549.4 321.77,639.51 346.15,639.51 346.15,639.51 346.15,639.51 346.15,820" fill="none" stroke="#b6b6b6" stroke-width="3" stroke-linejoin="miter"/>
<polyline points="175.5,549.4 305.52,549.4 305.52,549.4 305.52,549.4 305.52,639.51 346.15,639.51 346.15,639.51 346.15,639.51 346.15,820" fill="none" stroke="#070a0c" stroke-width="3" stroke-linejoin="miter"/>
<polyline points="175.5,549.4 370.52,549.4 370.52,549.4 370.52,549.4 370.52,603.52 403.03,603.52 403.03,603.52 403.03,603.52 403.03,820" fill="none" stroke="#7e6486" stroke-width="3" stroke-linejoin="miter"/>
<polyline points="175.5,549.4 419.28,549.4 419.28,549.4 419.28,549.4 419.28,639.51 435.53,639.51 435.53,639.51 435.53,639.51 435.53,820" fill="none" stroke="#134677" stroke-width="3" stroke-linejoin="miter"/>
<polyline points="175.5,549.4 305.52,549.4 305.52,549.4 305.52,549.4 305.52,639.51 403.03,639.51 403.03,639.51 403.03,639.51 403.03,820" fill="none" stroke="#a0282a" stroke-width="3" stroke-linejoin="miter"/>
<polyline points="175.5,549.4 459.91,549.4 459.91,549.4 459.91,549.4 459.91,684.7 476.16,684.7 476.16,684.7 476.16,684.7 476.16,729.89 492.41,729.89 492.41,729.89 492.41,729.89 492.41,774.81 565.55,774.81 565.55,774.81 565.55,774.81 565.55,820" fill="none" stroke="#1b8e8b" stroke-width="3" stroke-linejoin="miter"/>
<line x1="175.5" y1="549.4" x2="420.78" y2="549.4" stroke="#127f83" stroke-width="3" stroke-linecap="butt"/>
<line x1="175.5" y1="821.5" x2="175.5" y2="549.4" stroke="#000" stroke-width="3" stroke-linecap="butt"/>
<line x1="167.5" y1="820" x2="175.5" y2="820" stroke="#000" stroke-width="3" stroke-linecap="butt"/>
<text x="166.5" y="827.3" font-size="20" text-anchor="end">0</text>
<line x1="167.5" y1="765.88" x2="175.5" y2="765.88" stroke="#000" stroke-width="3" stroke-linecap="butt"/>
<text x="166.5" y="773.18" font-size="20" text-anchor="end">20</text>
<line x1="167.5" y1="711.76" x2="175.5" y2="711.76" stroke="#000" stroke-width="3" stroke-linecap="butt"/>
<text x="166.5" y="719.06" font-size="20" text-anchor="end">40</text>
<line x1="167.5" y1="657.64" x2="175.5" y2="657.64" stroke="#000" stroke-width="3" stroke-linecap="butt"/>
<text x="166.5" y="664.94" font-size="20" text-anchor="end">60</text>
<line x1="167.5" y1="603.52" x2="175.5" y2="603.52" stroke="#000" stroke-width="3" stroke-linecap="butt"/>
<text x="166.5" y="610.82" font-size="20" text-anchor="end">80</text>
<line x1="167.5" y1="549.4" x2="175.5" y2="549.4" stroke="#000" stroke-width="3" stroke-linecap="butt"/>
<text x="166.5" y="556.7" font-size="20" text-anchor="end">100</text>
<line x1="174" y1="820" x2="582" y2="820" stroke="#000" stroke-width="3" stroke-linecap="butt"/>
<line x1="175.5" y1="820" x2="175.5" y2="828" stroke="#000" stroke-width="3" stroke-linecap="butt"/>
<text x="175.5" y="848.6" font-size="20" text-anchor="middle">0</text>
<line x1="256.76" y1="820" x2="256.76" y2="828" stroke="#000" stroke-width="3" stroke-linecap="butt"/>
<text x="256.76" y="848.6" font-size="20" text-anchor="middle">10</text>
<line x1="338.02" y1="820" x2="338.02" y2="828" stroke="#000" stroke-width="3" stroke-linecap="butt"/>
<text x="338.02" y="848.6" font-size="20" text-anchor="middle">20</text>
<line x1="419.28" y1="820" x2="419.28" y2="828" stroke="#000" stroke-width="3" stroke-linecap="butt"/>
<text x="419.28" y="848.6" font-size="20" text-anchor="middle">30</text>
<line x1="500.54" y1="820" x2="500.54" y2="828" stroke="#000" stroke-width="3" stroke-linecap="butt"/>
<text x="500.54" y="848.6" font-size="20" text-anchor="middle">40</text>
<line x1="581.8" y1="820" x2="581.8" y2="828" stroke="#000" stroke-width="3" stroke-linecap="butt"/>
<text x="581.8" y="848.6" font-size="20" text-anchor="middle">50</text>
<text x="389.5" y="907.5" font-size="21.5" text-anchor="middle">Days</text>
<text transform="translate(119.2 685.1) rotate(-90)" font-size="21.8" text-anchor="middle">Percent survival</text>
<path d="M175.6 859.3 L169.3 869.8 L181.9 869.8 Z" fill="#222"/>
<line x1="175.6" y1="868.8" x2="175.6" y2="889.6" stroke="#222" stroke-width="2" stroke-linecap="butt"/>
<path d="M242.9 859.3 L236.6 869.8 L249.2 869.8 Z" fill="#222"/>
<line x1="242.9" y1="868.8" x2="242.9" y2="889.6" stroke="#222" stroke-width="2" stroke-linecap="butt"/>
<text x="175.4" y="907.5" font-size="14.4" text-anchor="middle">AZD0466</text>
<text x="145.3" y="926" font-size="14.4">Cisplatin</text>
<text x="247.6" y="907.5" font-size="14.4" text-anchor="middle">AZD0466</text>
<line x1="557.6" y1="591.6" x2="557.6" y2="659.1" stroke="#000" stroke-width="3" stroke-linecap="butt"/>
<line x1="554.1" y1="591.6" x2="561.1" y2="591.6" stroke="#000" stroke-width="3" stroke-linecap="round"/>
<line x1="554.1" y1="659.1" x2="561.1" y2="659.1" stroke="#000" stroke-width="3" stroke-linecap="round"/>
<text x="567.4" y="632.25" font-size="20" text-anchor="middle" stroke="#000" stroke-width="0.5">*</text>
<text x="567.4" y="640.55" font-size="20" text-anchor="middle" stroke="#000" stroke-width="0.5">*</text>
<line x1="584.5" y1="626.1" x2="584.5" y2="693.2" stroke="#000" stroke-width="3" stroke-linecap="butt"/>
<line x1="581" y1="626.1" x2="588" y2="626.1" stroke="#000" stroke-width="3" stroke-linecap="round"/>
<line x1="581" y1="693.2" x2="588" y2="693.2" stroke="#000" stroke-width="3" stroke-linecap="round"/>
<text x="594.4" y="666.75" font-size="20" text-anchor="middle" stroke="#000" stroke-width="0.5">*</text>
<text x="594.4" y="675.05" font-size="20" text-anchor="middle" stroke="#000" stroke-width="0.5">*</text>
<line x1="607.5" y1="693.2" x2="607.5" y2="759.3" stroke="#000" stroke-width="3" stroke-linecap="butt"/>
<line x1="604" y1="693.2" x2="611" y2="693.2" stroke="#000" stroke-width="3" stroke-linecap="round"/>
<line x1="604" y1="759.3" x2="611" y2="759.3" stroke="#000" stroke-width="3" stroke-linecap="round"/>
<text x="617" y="734.85" font-size="20" text-anchor="middle" stroke="#000" stroke-width="0.5">*</text>
<text x="617" y="743.15" font-size="20" text-anchor="middle" stroke="#000" stroke-width="0.5">*</text>
<line x1="632.5" y1="727.3" x2="632.5" y2="759.3" stroke="#000" stroke-width="3" stroke-linecap="butt"/>
<line x1="629" y1="727.3" x2="636" y2="727.3" stroke="#000" stroke-width="3" stroke-linecap="round"/>
<line x1="629" y1="759.3" x2="636" y2="759.3" stroke="#000" stroke-width="3" stroke-linecap="round"/>
<text x="642.3" y="751.45" font-size="20" text-anchor="middle" stroke="#000" stroke-width="0.5">*</text>
<text x="642.3" y="759.75" font-size="20" text-anchor="middle" stroke="#000" stroke-width="0.5">*</text>
<line x1="658.6" y1="597.6" x2="686.4" y2="597.6" stroke="#b6b6b6" stroke-width="3" stroke-linecap="round"/>
<text x="704.3" y="605.7" font-size="21.7">Saline</text>
<line x1="658.6" y1="630.15" x2="686.4" y2="630.15" stroke="#070a0c" stroke-width="3" stroke-linecap="round"/>
<text x="704.3" y="638.25" font-size="21.7">Vehicle</text>
<line x1="658.6" y1="662.7" x2="686.4" y2="662.7" stroke="#7e6486" stroke-width="3" stroke-linecap="round"/>
<text x="704.3" y="670.8" font-size="21.7">Cisplatin</text>
<line x1="658.6" y1="695.25" x2="686.4" y2="695.25" stroke="#134677" stroke-width="3" stroke-linecap="round"/>
<text x="704.3" y="703.35" font-size="21.7">AZD0466</text>
<line x1="658.6" y1="727.8" x2="686.4" y2="727.8" stroke="#a0282a" stroke-width="3" stroke-linecap="round"/>
<text x="704.3" y="735.9" font-size="21.7">Cisplatin + Vehicle</text>
<line x1="658.6" y1="760.35" x2="686.4" y2="760.35" stroke="#1b8e8b" stroke-width="3" stroke-linecap="round"/>
<text x="704.3" y="768.45" font-size="21.7">Cisplatin + AZD0466</text>
<text x="876.5" y="563.2" font-size="38.5" font-weight="bold">D</text>
<line x1="1024.9" y1="783.85" x2="1024.9" y2="779.15" stroke="#b6b6b6" stroke-width="3.2" stroke-linecap="butt"/>
<line x1="1015.4" y1="779.15" x2="1034.4" y2="779.15" stroke="#b6b6b6" stroke-width="3.2" stroke-linecap="round"/>
<rect x="1007.65" y="784.45" width="34.5" height="38.45" fill="#b6b6b6" stroke="#acacac" stroke-width="1.2"/>
<line x1="1078.16" y1="775.31" x2="1078.16" y2="771.46" stroke="#070a0c" stroke-width="3.2" stroke-linecap="butt"/>
<line x1="1068.66" y1="771.46" x2="1087.66" y2="771.46" stroke="#070a0c" stroke-width="3.2" stroke-linecap="round"/>
<rect x="1060.91" y="775.91" width="34.5" height="46.99" fill="#070a0c" stroke="#000000" stroke-width="1.2"/>
<line x1="1131.42" y1="718.06" x2="1131.42" y2="713.36" stroke="#7e6486" stroke-width="3.2" stroke-linecap="butt"/>
<line x1="1121.92" y1="713.36" x2="1140.92" y2="713.36" stroke="#7e6486" stroke-width="3.2" stroke-linecap="round"/>
<rect x="1114.17" y="718.66" width="34.5" height="104.24" fill="#7e6486" stroke="#735a7c" stroke-width="1.2"/>
<line x1="1184.68" y1="651.21" x2="1184.68" y2="643.94" stroke="#134677" stroke-width="3.2" stroke-linecap="butt"/>
<line x1="1175.18" y1="643.94" x2="1194.18" y2="643.94" stroke="#134677" stroke-width="3.2" stroke-linecap="round"/>
<rect x="1167.43" y="651.81" width="34.5" height="171.09" fill="#134677" stroke="#053b70" stroke-width="1.2"/>
<line x1="1237.94" y1="747.97" x2="1237.94" y2="739.21" stroke="#a0282a" stroke-width="3.2" stroke-linecap="butt"/>
<line x1="1228.44" y1="739.21" x2="1247.44" y2="739.21" stroke="#a0282a" stroke-width="3.2" stroke-linecap="round"/>
<rect x="1220.69" y="748.57" width="34.5" height="74.33" fill="#a0282a" stroke="#8f1c1f" stroke-width="1.2"/>
<line x1="1291.2" y1="622.58" x2="1291.2" y2="615.54" stroke="#1b8e8b" stroke-width="3.2" stroke-linecap="butt"/>
<line x1="1281.7" y1="615.54" x2="1300.7" y2="615.54" stroke="#1b8e8b" stroke-width="3.2" stroke-linecap="round"/>
<rect x="1273.95" y="623.18" width="34.5" height="199.72" fill="#1b8e8b" stroke="#12837f" stroke-width="1.2"/>
<line x1="998.8" y1="823.6" x2="998.8" y2="608.7" stroke="#000" stroke-width="2.6" stroke-linecap="butt"/>
<line x1="990.8" y1="822.3" x2="998.8" y2="822.3" stroke="#000" stroke-width="2.6" stroke-linecap="butt"/>
<text x="991.5" y="828" font-size="16.3" text-anchor="end">0</text>
<line x1="990.8" y1="779.58" x2="998.8" y2="779.58" stroke="#000" stroke-width="2.6" stroke-linecap="butt"/>
<text x="991.5" y="785.28" font-size="16.3" text-anchor="end">20</text>
<line x1="990.8" y1="736.86" x2="998.8" y2="736.86" stroke="#000" stroke-width="2.6" stroke-linecap="butt"/>
<text x="991.5" y="742.57" font-size="16.3" text-anchor="end">40</text>
<line x1="990.8" y1="694.14" x2="998.8" y2="694.14" stroke="#000" stroke-width="2.6" stroke-linecap="butt"/>
<text x="991.5" y="699.85" font-size="16.3" text-anchor="end">60</text>
<line x1="990.8" y1="651.42" x2="998.8" y2="651.42" stroke="#000" stroke-width="2.6" stroke-linecap="butt"/>
<text x="991.5" y="657.13" font-size="16.3" text-anchor="end">80</text>
<line x1="990.8" y1="608.7" x2="998.8" y2="608.7" stroke="#000" stroke-width="2.6" stroke-linecap="butt"/>
<text x="991.5" y="614.41" font-size="16.3" text-anchor="end">100</text>
<line x1="997.5" y1="822.3" x2="1318" y2="822.3" stroke="#000" stroke-width="2.6" stroke-linecap="butt"/>
<line x1="1024.9" y1="822.3" x2="1024.9" y2="830.3" stroke="#000" stroke-width="2.6" stroke-linecap="butt"/>
<line x1="1078.16" y1="822.3" x2="1078.16" y2="830.3" stroke="#000" stroke-width="2.6" stroke-linecap="butt"/>
<line x1="1131.42" y1="822.3" x2="1131.42" y2="830.3" stroke="#000" stroke-width="2.6" stroke-linecap="butt"/>
<line x1="1184.68" y1="822.3" x2="1184.68" y2="830.3" stroke="#000" stroke-width="2.6" stroke-linecap="butt"/>
<line x1="1237.94" y1="822.3" x2="1237.94" y2="830.3" stroke="#000" stroke-width="2.6" stroke-linecap="butt"/>
<line x1="1291.2" y1="822.3" x2="1291.2" y2="830.3" stroke="#000" stroke-width="2.6" stroke-linecap="butt"/>
<text transform="translate(1031 834.5) rotate(-90)" font-size="16.3" text-anchor="end">Saline</text>
<text transform="translate(1084.26 829.7) rotate(-90)" font-size="16.3" text-anchor="end">Vehicle</text>
<text transform="translate(1137.52 834.5) rotate(-90)" font-size="16.3" text-anchor="end">Cisplatin</text>
<text transform="translate(1190.78 829.7) rotate(-90)" font-size="16.3" text-anchor="end">AZD0466</text>
<text transform="translate(1244.04 829.7) rotate(-90)" font-size="16.3" text-anchor="end">Cisplatin + Vehicle</text>
<text transform="translate(1297.3 830.5) rotate(-90)" font-size="16.3" text-anchor="end">Cisplatin + AZD0466</text>
<text transform="translate(947.2 716.4) rotate(-90)" font-size="17.3" text-anchor="middle">Cleaved Caspase-3 (%)</text>
<line x1="1030.6" y1="538.6" x2="1132.1" y2="538.6" stroke="#000" stroke-width="2.6" stroke-linecap="butt"/>
<line x1="1030.6" y1="535.65" x2="1030.6" y2="541.55" stroke="#000" stroke-width="2.6" stroke-linecap="round"/>
<line x1="1132.1" y1="535.65" x2="1132.1" y2="541.55" stroke="#000" stroke-width="2.6" stroke-linecap="round"/>
<text x="1081.35" y="539.5" font-size="16.8" text-anchor="middle" stroke="#000" stroke-width="0.42">***</text>
<line x1="1076.1" y1="562.1" x2="1186.7" y2="562.1" stroke="#000" stroke-width="2.6" stroke-linecap="butt"/>
<line x1="1076.1" y1="559.15" x2="1076.1" y2="565.05" stroke="#000" stroke-width="2.6" stroke-linecap="round"/>
<line x1="1186.7" y1="559.15" x2="1186.7" y2="565.05" stroke="#000" stroke-width="2.6" stroke-linecap="round"/>
<text x="1131.4" y="563" font-size="16.8" text-anchor="middle" stroke="#000" stroke-width="0.42">****</text>
<line x1="1184.2" y1="580" x2="1294.2" y2="580" stroke="#000" stroke-width="2.6" stroke-linecap="butt"/>
<line x1="1184.2" y1="577.05" x2="1184.2" y2="582.95" stroke="#000" stroke-width="2.6" stroke-linecap="round"/>
<line x1="1294.2" y1="577.05" x2="1294.2" y2="582.95" stroke="#000" stroke-width="2.6" stroke-linecap="round"/>
<text x="1239.2" y="581" font-size="16.8" text-anchor="middle" stroke="#000" stroke-width="0.42">*</text>
<line x1="1237.4" y1="600.5" x2="1293.2" y2="600.5" stroke="#000" stroke-width="2.6" stroke-linecap="butt"/>
<line x1="1237.4" y1="597.55" x2="1237.4" y2="603.45" stroke="#000" stroke-width="2.6" stroke-linecap="round"/>
<line x1="1293.2" y1="597.55" x2="1293.2" y2="603.45" stroke="#000" stroke-width="2.6" stroke-linecap="round"/>
<text x="1265.3" y="601.4" font-size="16.8" text-anchor="middle" stroke="#000" stroke-width="0.42">***</text>
<line x1="1472.5" y1="636.57" x2="1472.5" y2="632.32" stroke="#b6b6b6" stroke-width="3.2" stroke-linecap="butt"/>
<line x1="1462.5" y1="632.32" x2="1482.5" y2="632.32" stroke="#b6b6b6" stroke-width="3.2" stroke-linecap="round"/>
<rect x="1454.55" y="637.17" width="35.9" height="186.43" fill="#b6b6b6" stroke="#acacac" stroke-width="1.2"/>
<line x1="1528.4" y1="632.77" x2="1528.4" y2="628.07" stroke="#070a0c" stroke-width="3.2" stroke-linecap="butt"/>
<line x1="1518.4" y1="628.07" x2="1538.4" y2="628.07" stroke="#070a0c" stroke-width="3.2" stroke-linecap="round"/>
<rect x="1510.45" y="633.37" width="35.9" height="190.23" fill="#070a0c" stroke="#000000" stroke-width="1.2"/>
<line x1="1584.3" y1="665.89" x2="1584.3" y2="662.98" stroke="#7e6486" stroke-width="3.2" stroke-linecap="butt"/>
<line x1="1574.3" y1="662.98" x2="1594.3" y2="662.98" stroke="#7e6486" stroke-width="3.2" stroke-linecap="round"/>
<rect x="1566.35" y="666.49" width="35.9" height="157.11" fill="#7e6486" stroke="#735a7c" stroke-width="1.2"/>
<line x1="1640.2" y1="716.02" x2="1640.2" y2="712.44" stroke="#134677" stroke-width="3.2" stroke-linecap="butt"/>
<line x1="1630.2" y1="712.44" x2="1650.2" y2="712.44" stroke="#134677" stroke-width="3.2" stroke-linecap="round"/>
<rect x="1622.25" y="716.62" width="35.9" height="106.98" fill="#134677" stroke="#053b70" stroke-width="1.2"/>
<line x1="1696.1" y1="664.1" x2="1696.1" y2="657.84" stroke="#a0282a" stroke-width="3.2" stroke-linecap="butt"/>
<line x1="1686.1" y1="657.84" x2="1706.1" y2="657.84" stroke="#a0282a" stroke-width="3.2" stroke-linecap="round"/>
<rect x="1678.15" y="664.7" width="35.9" height="158.9" fill="#a0282a" stroke="#8f1c1f" stroke-width="1.2"/>
<line x1="1752" y1="764.59" x2="1752" y2="758.77" stroke="#1b8e8b" stroke-width="3.2" stroke-linecap="butt"/>
<line x1="1742" y1="758.77" x2="1762" y2="758.77" stroke="#1b8e8b" stroke-width="3.2" stroke-linecap="round"/>
<rect x="1734.05" y="765.19" width="35.9" height="58.41" fill="#1b8e8b" stroke="#12837f" stroke-width="1.2"/>
<line x1="1444.7" y1="824.3" x2="1444.7" y2="599.2" stroke="#000" stroke-width="2.6" stroke-linecap="butt"/>
<line x1="1436.7" y1="823" x2="1444.7" y2="823" stroke="#000" stroke-width="2.6" stroke-linecap="butt"/>
<text x="1437" y="829.12" font-size="17.5" text-anchor="end">0</text>
<line x1="1436.7" y1="778.24" x2="1444.7" y2="778.24" stroke="#000" stroke-width="2.6" stroke-linecap="butt"/>
<text x="1437" y="784.37" font-size="17.5" text-anchor="end">20</text>
<line x1="1436.7" y1="733.48" x2="1444.7" y2="733.48" stroke="#000" stroke-width="2.6" stroke-linecap="butt"/>
<text x="1437" y="739.61" font-size="17.5" text-anchor="end">40</text>
<line x1="1436.7" y1="688.72" x2="1444.7" y2="688.72" stroke="#000" stroke-width="2.6" stroke-linecap="butt"/>
<text x="1437" y="694.85" font-size="17.5" text-anchor="end">60</text>
<line x1="1436.7" y1="643.96" x2="1444.7" y2="643.96" stroke="#000" stroke-width="2.6" stroke-linecap="butt"/>
<text x="1437" y="650.09" font-size="17.5" text-anchor="end">80</text>
<line x1="1436.7" y1="599.2" x2="1444.7" y2="599.2" stroke="#000" stroke-width="2.6" stroke-linecap="butt"/>
<text x="1437" y="605.33" font-size="17.5" text-anchor="end">100</text>
<line x1="1443.4" y1="823" x2="1779.4" y2="823" stroke="#000" stroke-width="2.6" stroke-linecap="butt"/>
<line x1="1472.5" y1="823" x2="1472.5" y2="831" stroke="#000" stroke-width="2.6" stroke-linecap="butt"/>
<line x1="1528.4" y1="823" x2="1528.4" y2="831" stroke="#000" stroke-width="2.6" stroke-linecap="butt"/>
<line x1="1584.3" y1="823" x2="1584.3" y2="831" stroke="#000" stroke-width="2.6" stroke-linecap="butt"/>
<line x1="1640.2" y1="823" x2="1640.2" y2="831" stroke="#000" stroke-width="2.6" stroke-linecap="butt"/>
<line x1="1696.1" y1="823" x2="1696.1" y2="831" stroke="#000" stroke-width="2.6" stroke-linecap="butt"/>
<line x1="1752" y1="823" x2="1752" y2="831" stroke="#000" stroke-width="2.6" stroke-linecap="butt"/>
<text transform="translate(1478.9 835.8) rotate(-90)" font-size="17.1" text-anchor="end">Saline</text>
<text transform="translate(1534.8 831) rotate(-90)" font-size="17.1" text-anchor="end">Vehicle</text>
<text transform="translate(1590.7 835.8) rotate(-90)" font-size="17.1" text-anchor="end">Cisplatin</text>
<text transform="translate(1646.6 831) rotate(-90)" font-size="17.1" text-anchor="end">AZD0466</text>
<text transform="translate(1702.5 831) rotate(-90)" font-size="17.1" text-anchor="end">Cisplatin + Vehicle</text>
<text transform="translate(1758.4 831) rotate(-90)" font-size="17.1" text-anchor="end">Cisplatin + AZD0466</text>
<text transform="translate(1390.9 711.1) rotate(-90)" font-size="18.6" text-anchor="middle">Ki67 (%)</text>
<line x1="1465.1" y1="585.2" x2="1580.4" y2="585.2" stroke="#000" stroke-width="2.6" stroke-linecap="butt"/>
<line x1="1465.1" y1="582.25" x2="1465.1" y2="588.15" stroke="#000" stroke-width="2.6" stroke-linecap="round"/>
<line x1="1580.4" y1="582.25" x2="1580.4" y2="588.15" stroke="#000" stroke-width="2.6" stroke-linecap="round"/>
<text x="1522.75" y="586" font-size="16.8" text-anchor="middle" stroke="#000" stroke-width="0.42">**</text>
<line x1="1528.6" y1="607.7" x2="1644.2" y2="607.7" stroke="#000" stroke-width="2.6" stroke-linecap="butt"/>
<line x1="1528.6" y1="604.75" x2="1528.6" y2="610.65" stroke="#000" stroke-width="2.6" stroke-linecap="round"/>
<line x1="1644.2" y1="604.75" x2="1644.2" y2="610.65" stroke="#000" stroke-width="2.6" stroke-linecap="round"/>
<text x="1586.4" y="608.5" font-size="16.8" text-anchor="middle" stroke="#000" stroke-width="0.42">****</text>
<line x1="1641.4" y1="624" x2="1757.1" y2="624" stroke="#000" stroke-width="2.6" stroke-linecap="butt"/>
<line x1="1641.4" y1="621.05" x2="1641.4" y2="626.95" stroke="#000" stroke-width="2.6" stroke-linecap="round"/>
<line x1="1757.1" y1="621.05" x2="1757.1" y2="626.95" stroke="#000" stroke-width="2.6" stroke-linecap="round"/>
<text x="1699.25" y="625" font-size="16.8" text-anchor="middle" stroke="#000" stroke-width="0.42">**</text>
<line x1="1697" y1="643.2" x2="1756" y2="643.2" stroke="#000" stroke-width="2.6" stroke-linecap="butt"/>
<line x1="1697" y1="640.25" x2="1697" y2="646.15" stroke="#000" stroke-width="2.6" stroke-linecap="round"/>
<line x1="1756" y1="640.25" x2="1756" y2="646.15" stroke="#000" stroke-width="2.6" stroke-linecap="round"/>
<text x="1726.5" y="644" font-size="16.8" text-anchor="middle" stroke="#000" stroke-width="0.42">***</text>
<text x="1.2" y="1022" font-size="38.5" font-weight="bold">E</text>
<line x1="88.1" y1="1196.73" x2="88.1" y2="1173.73" stroke="#b6b6b6" stroke-width="2.7" stroke-linecap="butt"/>
<line x1="78.6" y1="1173.73" x2="97.6" y2="1173.73" stroke="#b6b6b6" stroke-width="2.7" stroke-linecap="round"/>
<rect x="71.7" y="1197.33" width="32.8" height="45.87" fill="#b6b6b6" stroke="#acacac" stroke-width="1.2"/>
<line x1="139.76" y1="1196.73" x2="139.76" y2="1173.73" stroke="#070a0c" stroke-width="2.7" stroke-linecap="butt"/>
<line x1="130.26" y1="1173.73" x2="149.26" y2="1173.73" stroke="#070a0c" stroke-width="2.7" stroke-linecap="round"/>
<rect x="123.36" y="1197.33" width="32.8" height="45.87" fill="#070a0c" stroke="#000000" stroke-width="1.2"/>
<line x1="191.42" y1="1196.73" x2="191.42" y2="1173.73" stroke="#7e6486" stroke-width="2.7" stroke-linecap="butt"/>
<line x1="181.92" y1="1173.73" x2="200.92" y2="1173.73" stroke="#7e6486" stroke-width="2.7" stroke-linecap="round"/>
<rect x="175.02" y="1197.33" width="32.8" height="45.87" fill="#7e6486" stroke="#735a7c" stroke-width="1.2"/>
<line x1="243.08" y1="1196.73" x2="243.08" y2="1173.73" stroke="#134677" stroke-width="2.7" stroke-linecap="butt"/>
<line x1="233.58" y1="1173.73" x2="252.58" y2="1173.73" stroke="#134677" stroke-width="2.7" stroke-linecap="round"/>
<rect x="226.68" y="1197.33" width="32.8" height="45.87" fill="#134677" stroke="#053b70" stroke-width="1.2"/>
<line x1="294.74" y1="1196.73" x2="294.74" y2="1173.73" stroke="#a0282a" stroke-width="2.7" stroke-linecap="butt"/>
<line x1="285.24" y1="1173.73" x2="304.24" y2="1173.73" stroke="#a0282a" stroke-width="2.7" stroke-linecap="round"/>
<rect x="278.34" y="1197.33" width="32.8" height="45.87" fill="#a0282a" stroke="#8f1c1f" stroke-width="1.2"/>
<line x1="346.4" y1="1219.6" x2="346.4" y2="1196.73" stroke="#1b8e8b" stroke-width="2.7" stroke-linecap="butt"/>
<line x1="336.9" y1="1196.73" x2="355.9" y2="1196.73" stroke="#1b8e8b" stroke-width="2.7" stroke-linecap="round"/>
<rect x="330" y="1220.2" width="32.8" height="23" fill="#1b8e8b" stroke="#12837f" stroke-width="1.2"/>
<line x1="61.8" y1="1243.75" x2="61.8" y2="1036" stroke="#000" stroke-width="2.3" stroke-linecap="butt"/>
<line x1="54.8" y1="1242.6" x2="61.8" y2="1242.6" stroke="#000" stroke-width="2.3" stroke-linecap="butt"/>
<text x="53.8" y="1248.48" font-size="16.8" text-anchor="end">0</text>
<line x1="54.8" y1="1173.73" x2="61.8" y2="1173.73" stroke="#000" stroke-width="2.3" stroke-linecap="butt"/>
<text x="53.8" y="1179.61" font-size="16.8" text-anchor="end">5</text>
<line x1="54.8" y1="1104.87" x2="61.8" y2="1104.87" stroke="#000" stroke-width="2.3" stroke-linecap="butt"/>
<text x="53.8" y="1110.75" font-size="16.8" text-anchor="end">10</text>
<line x1="54.8" y1="1036" x2="61.8" y2="1036" stroke="#000" stroke-width="2.3" stroke-linecap="butt"/>
<text x="53.8" y="1041.88" font-size="16.8" text-anchor="end">15</text>
<line x1="60.65" y1="1242.6" x2="372.2" y2="1242.6" stroke="#000" stroke-width="2.3" stroke-linecap="butt"/>
<line x1="88.1" y1="1242.6" x2="88.1" y2="1249.6" stroke="#000" stroke-width="2.3" stroke-linecap="butt"/>
<line x1="139.76" y1="1242.6" x2="139.76" y2="1249.6" stroke="#000" stroke-width="2.3" stroke-linecap="butt"/>
<line x1="191.42" y1="1242.6" x2="191.42" y2="1249.6" stroke="#000" stroke-width="2.3" stroke-linecap="butt"/>
<line x1="243.08" y1="1242.6" x2="243.08" y2="1249.6" stroke="#000" stroke-width="2.3" stroke-linecap="butt"/>
<line x1="294.74" y1="1242.6" x2="294.74" y2="1249.6" stroke="#000" stroke-width="2.3" stroke-linecap="butt"/>
<line x1="346.4" y1="1242.6" x2="346.4" y2="1249.6" stroke="#000" stroke-width="2.3" stroke-linecap="butt"/>
<text transform="translate(93.8 1254.6) rotate(-90)" font-size="15.7" text-anchor="end">Saline</text>
<text transform="translate(145.46 1250.5) rotate(-90)" font-size="15.7" text-anchor="end">Vehicle</text>
<text transform="translate(197.12 1254.6) rotate(-90)" font-size="15.7" text-anchor="end">Cisplatin</text>
<text transform="translate(248.78 1250.5) rotate(-90)" font-size="15.7" text-anchor="end">AZD0466</text>
<text transform="translate(300.44 1250.5) rotate(-90)" font-size="15.7" text-anchor="end">Cisplatin + Vehicle</text>
<text transform="translate(352.1 1251.5) rotate(-90)" font-size="15.7" text-anchor="end">Cisplatin + AZD0466</text>
<text transform="translate(24.2 1139.7) rotate(-90)" font-size="16.8" text-anchor="middle">BCL-2 score</text>
<rect x="448.2" y="1038.6" width="33.6" height="207.1" fill="#b6b6b6" stroke="#acacac" stroke-width="1.2"/>
<rect x="500" y="1038.6" width="33.6" height="207.1" fill="#070a0c" stroke="#000000" stroke-width="1.2"/>
<rect x="551.8" y="1038.6" width="33.6" height="207.1" fill="#7e6486" stroke="#735a7c" stroke-width="1.2"/>
<rect x="603.6" y="1038.6" width="33.6" height="207.1" fill="#134677" stroke="#053b70" stroke-width="1.2"/>
<rect x="655.4" y="1038.6" width="33.6" height="207.1" fill="#a0282a" stroke="#8f1c1f" stroke-width="1.2"/>
<rect x="707.2" y="1038.6" width="33.6" height="207.1" fill="#1b8e8b" stroke="#12837f" stroke-width="1.2"/>
<line x1="439" y1="1246.25" x2="439" y2="1038" stroke="#000" stroke-width="2.3" stroke-linecap="butt"/>
<line x1="432" y1="1245.1" x2="439" y2="1245.1" stroke="#000" stroke-width="2.3" stroke-linecap="butt"/>
<text x="430.6" y="1250.98" font-size="16.8" text-anchor="end">0</text>
<line x1="432" y1="1176.07" x2="439" y2="1176.07" stroke="#000" stroke-width="2.3" stroke-linecap="butt"/>
<text x="430.6" y="1181.95" font-size="16.8" text-anchor="end">5</text>
<line x1="432" y1="1107.03" x2="439" y2="1107.03" stroke="#000" stroke-width="2.3" stroke-linecap="butt"/>
<text x="430.6" y="1112.91" font-size="16.8" text-anchor="end">10</text>
<line x1="432" y1="1038" x2="439" y2="1038" stroke="#000" stroke-width="2.3" stroke-linecap="butt"/>
<text x="430.6" y="1043.88" font-size="16.8" text-anchor="end">15</text>
<line x1="437.85" y1="1245.1" x2="750" y2="1245.1" stroke="#000" stroke-width="2.3" stroke-linecap="butt"/>
<line x1="465" y1="1245.1" x2="465" y2="1252.1" stroke="#000" stroke-width="2.3" stroke-linecap="butt"/>
<line x1="516.8" y1="1245.1" x2="516.8" y2="1252.1" stroke="#000" stroke-width="2.3" stroke-linecap="butt"/>
<line x1="568.6" y1="1245.1" x2="568.6" y2="1252.1" stroke="#000" stroke-width="2.3" stroke-linecap="butt"/>
<line x1="620.4" y1="1245.1" x2="620.4" y2="1252.1" stroke="#000" stroke-width="2.3" stroke-linecap="butt"/>
<line x1="672.2" y1="1245.1" x2="672.2" y2="1252.1" stroke="#000" stroke-width="2.3" stroke-linecap="butt"/>
<line x1="724" y1="1245.1" x2="724" y2="1252.1" stroke="#000" stroke-width="2.3" stroke-linecap="butt"/>
<text transform="translate(470.7 1257.8) rotate(-90)" font-size="15.7" text-anchor="end">Saline</text>
<text transform="translate(522.5 1253.5) rotate(-90)" font-size="15.7" text-anchor="end">Vehicle</text>
<text transform="translate(574.3 1257.8) rotate(-90)" font-size="15.7" text-anchor="end">Cisplatin</text>
<text transform="translate(626.1 1253.5) rotate(-90)" font-size="15.7" text-anchor="end">AZD0466</text>
<text transform="translate(677.9 1253.5) rotate(-90)" font-size="15.7" text-anchor="end">Cisplatin + Vehicle</text>
<text transform="translate(729.7 1253.5) rotate(-90)" font-size="15.7" text-anchor="end">Cisplatin + AZD0466</text>
<text transform="translate(400.4 1141.3) rotate(-90)" font-size="16.9" text-anchor="middle">BCL-XL Score</text>
<line x1="852.1" y1="1068.82" x2="852.1" y2="1046.4" stroke="#b6b6b6" stroke-width="2.7" stroke-linecap="butt"/>
<line x1="842.6" y1="1046.4" x2="861.6" y2="1046.4" stroke="#b6b6b6" stroke-width="2.7" stroke-linecap="round"/>
<rect x="836.35" y="1069.42" width="31.5" height="178.98" fill="#b6b6b6" stroke="#acacac" stroke-width="1.2"/>
<line x1="902.3" y1="1068.82" x2="902.3" y2="1046.4" stroke="#070a0c" stroke-width="2.7" stroke-linecap="butt"/>
<line x1="892.8" y1="1046.4" x2="911.8" y2="1046.4" stroke="#070a0c" stroke-width="2.7" stroke-linecap="round"/>
<rect x="886.55" y="1069.42" width="31.5" height="178.98" fill="#070a0c" stroke="#000000" stroke-width="1.2"/>
<rect x="936.75" y="1114.13" width="31.5" height="134.27" fill="#7e6486" stroke="#735a7c" stroke-width="1.2"/>
<line x1="1002.7" y1="1225.38" x2="1002.7" y2="1203.09" stroke="#134677" stroke-width="2.7" stroke-linecap="butt"/>
<line x1="993.2" y1="1203.09" x2="1012.2" y2="1203.09" stroke="#134677" stroke-width="2.7" stroke-linecap="round"/>
<rect x="986.95" y="1225.98" width="31.5" height="22.42" fill="#134677" stroke="#053b70" stroke-width="1.2"/>
<line x1="1052.9" y1="1091.11" x2="1052.9" y2="1068.82" stroke="#a0282a" stroke-width="2.7" stroke-linecap="butt"/>
<line x1="1043.4" y1="1068.82" x2="1062.4" y2="1068.82" stroke="#a0282a" stroke-width="2.7" stroke-linecap="round"/>
<rect x="1037.15" y="1091.71" width="31.5" height="156.69" fill="#a0282a" stroke="#8f1c1f" stroke-width="1.2"/>
<line x1="1103.1" y1="1225.38" x2="1103.1" y2="1203.09" stroke="#1b8e8b" stroke-width="2.7" stroke-linecap="butt"/>
<line x1="1093.6" y1="1203.09" x2="1112.6" y2="1203.09" stroke="#1b8e8b" stroke-width="2.7" stroke-linecap="round"/>
<rect x="1087.35" y="1225.98" width="31.5" height="22.42" fill="#1b8e8b" stroke="#12837f" stroke-width="1.2"/>
<line x1="827.1" y1="1248.95" x2="827.1" y2="1046.4" stroke="#000" stroke-width="2.3" stroke-linecap="butt"/>
<line x1="820.1" y1="1247.8" x2="827.1" y2="1247.8" stroke="#000" stroke-width="2.3" stroke-linecap="butt"/>
<text x="819.5" y="1253.68" font-size="16.8" text-anchor="end">0</text>
<line x1="820.1" y1="1180.67" x2="827.1" y2="1180.67" stroke="#000" stroke-width="2.3" stroke-linecap="butt"/>
<text x="819.5" y="1186.55" font-size="16.8" text-anchor="end">5</text>
<line x1="820.1" y1="1113.53" x2="827.1" y2="1113.53" stroke="#000" stroke-width="2.3" stroke-linecap="butt"/>
<text x="819.5" y="1119.41" font-size="16.8" text-anchor="end">10</text>
<line x1="820.1" y1="1046.4" x2="827.1" y2="1046.4" stroke="#000" stroke-width="2.3" stroke-linecap="butt"/>
<text x="819.5" y="1052.28" font-size="16.8" text-anchor="end">15</text>
<line x1="825.95" y1="1247.8" x2="1128" y2="1247.8" stroke="#000" stroke-width="2.3" stroke-linecap="butt"/>
<line x1="852.1" y1="1247.8" x2="852.1" y2="1254.8" stroke="#000" stroke-width="2.3" stroke-linecap="butt"/>
<line x1="902.3" y1="1247.8" x2="902.3" y2="1254.8" stroke="#000" stroke-width="2.3" stroke-linecap="butt"/>
<line x1="952.5" y1="1247.8" x2="952.5" y2="1254.8" stroke="#000" stroke-width="2.3" stroke-linecap="butt"/>
<line x1="1002.7" y1="1247.8" x2="1002.7" y2="1254.8" stroke="#000" stroke-width="2.3" stroke-linecap="butt"/>
<line x1="1052.9" y1="1247.8" x2="1052.9" y2="1254.8" stroke="#000" stroke-width="2.3" stroke-linecap="butt"/>
<line x1="1103.1" y1="1247.8" x2="1103.1" y2="1254.8" stroke="#000" stroke-width="2.3" stroke-linecap="butt"/>
<text transform="translate(857.6 1260.4) rotate(-90)" font-size="15.1" text-anchor="end">Saline</text>
<text transform="translate(907.8 1255.1) rotate(-90)" font-size="15.1" text-anchor="end">Vehicle</text>
<text transform="translate(958 1260.4) rotate(-90)" font-size="15.1" text-anchor="end">Cisplatin</text>
<text transform="translate(1008.2 1255.1) rotate(-90)" font-size="15.1" text-anchor="end">AZD0466</text>
<text transform="translate(1058.4 1255.1) rotate(-90)" font-size="15.1" text-anchor="end">Cisplatin + Vehicle</text>
<text transform="translate(1108.6 1255.1) rotate(-90)" font-size="15.1" text-anchor="end">Cisplatin + AZD0466</text>
<text transform="translate(792 1147) rotate(-90)" font-size="16.5" text-anchor="middle">MCL-1 Score</text>
<line x1="901.7" y1="1030.6" x2="1005.2" y2="1030.6" stroke="#000" stroke-width="2.4" stroke-linecap="butt"/>
<line x1="901.7" y1="1028.3" x2="901.7" y2="1032.9" stroke="#000" stroke-width="2.4" stroke-linecap="round"/>
<line x1="1005.2" y1="1028.3" x2="1005.2" y2="1032.9" stroke="#000" stroke-width="2.4" stroke-linecap="round"/>
<text x="953.45" y="1029.5" font-size="16.5" text-anchor="middle" stroke="#000" stroke-width="0.41">**</text>
<line x1="1053.1" y1="1031.6" x2="1105.8" y2="1031.6" stroke="#000" stroke-width="2.4" stroke-linecap="butt"/>
<line x1="1053.1" y1="1029.3" x2="1053.1" y2="1033.9" stroke="#000" stroke-width="2.4" stroke-linecap="round"/>
<line x1="1105.8" y1="1029.3" x2="1105.8" y2="1033.9" stroke="#000" stroke-width="2.4" stroke-linecap="round"/>
<text x="1079.45" y="1030.5" font-size="16.5" text-anchor="middle" stroke="#000" stroke-width="0.41">**</text>
<line x1="88.6" y1="1620.57" x2="88.6" y2="1611.39" stroke="#b6b6b6" stroke-width="2.7" stroke-linecap="butt"/>
<line x1="79.1" y1="1611.39" x2="98.1" y2="1611.39" stroke="#b6b6b6" stroke-width="2.7" stroke-linecap="round"/>
<rect x="72.35" y="1621.17" width="32.5" height="18.23" fill="#b6b6b6" stroke="#acacac" stroke-width="1.2"/>
<line x1="139.96" y1="1620.57" x2="139.96" y2="1611.39" stroke="#070a0c" stroke-width="2.7" stroke-linecap="butt"/>
<line x1="130.46" y1="1611.39" x2="149.46" y2="1611.39" stroke="#070a0c" stroke-width="2.7" stroke-linecap="round"/>
<rect x="123.71" y="1621.17" width="32.5" height="18.23" fill="#070a0c" stroke="#000000" stroke-width="1.2"/>
<line x1="191.32" y1="1538.33" x2="191.32" y2="1529.15" stroke="#7e6486" stroke-width="2.7" stroke-linecap="butt"/>
<line x1="181.82" y1="1529.15" x2="200.82" y2="1529.15" stroke="#7e6486" stroke-width="2.7" stroke-linecap="round"/>
<rect x="175.07" y="1538.93" width="32.5" height="100.47" fill="#7e6486" stroke="#735a7c" stroke-width="1.2"/>
<line x1="242.68" y1="1606.86" x2="242.68" y2="1602.2" stroke="#134677" stroke-width="2.7" stroke-linecap="butt"/>
<line x1="233.18" y1="1602.2" x2="252.18" y2="1602.2" stroke="#134677" stroke-width="2.7" stroke-linecap="round"/>
<rect x="226.43" y="1607.46" width="32.5" height="31.94" fill="#134677" stroke="#053b70" stroke-width="1.2"/>
<line x1="294.04" y1="1529.15" x2="294.04" y2="1515.44" stroke="#a0282a" stroke-width="2.7" stroke-linecap="butt"/>
<line x1="284.54" y1="1515.44" x2="303.54" y2="1515.44" stroke="#a0282a" stroke-width="2.7" stroke-linecap="round"/>
<rect x="277.79" y="1529.75" width="32.5" height="109.65" fill="#a0282a" stroke="#8f1c1f" stroke-width="1.2"/>
<line x1="345.4" y1="1460.61" x2="345.4" y2="1446.91" stroke="#1b8e8b" stroke-width="2.7" stroke-linecap="butt"/>
<line x1="335.9" y1="1446.91" x2="354.9" y2="1446.91" stroke="#1b8e8b" stroke-width="2.7" stroke-linecap="round"/>
<rect x="329.15" y="1461.21" width="32.5" height="178.19" fill="#1b8e8b" stroke="#12837f" stroke-width="1.2"/>
<line x1="63.3" y1="1639.95" x2="63.3" y2="1433.2" stroke="#000" stroke-width="2.3" stroke-linecap="butt"/>
<line x1="56.3" y1="1638.8" x2="63.3" y2="1638.8" stroke="#000" stroke-width="2.3" stroke-linecap="butt"/>
<text x="55.3" y="1644.68" font-size="16.8" text-anchor="end">0</text>
<line x1="56.3" y1="1570.27" x2="63.3" y2="1570.27" stroke="#000" stroke-width="2.3" stroke-linecap="butt"/>
<text x="55.3" y="1576.15" font-size="16.8" text-anchor="end">5</text>
<line x1="56.3" y1="1501.73" x2="63.3" y2="1501.73" stroke="#000" stroke-width="2.3" stroke-linecap="butt"/>
<text x="55.3" y="1507.61" font-size="16.8" text-anchor="end">10</text>
<line x1="56.3" y1="1433.2" x2="63.3" y2="1433.2" stroke="#000" stroke-width="2.3" stroke-linecap="butt"/>
<text x="55.3" y="1439.08" font-size="16.8" text-anchor="end">15</text>
<line x1="62.15" y1="1638.8" x2="370.5" y2="1638.8" stroke="#000" stroke-width="2.3" stroke-linecap="butt"/>
<line x1="88.6" y1="1638.8" x2="88.6" y2="1645.8" stroke="#000" stroke-width="2.3" stroke-linecap="butt"/>
<line x1="139.96" y1="1638.8" x2="139.96" y2="1645.8" stroke="#000" stroke-width="2.3" stroke-linecap="butt"/>
<line x1="191.32" y1="1638.8" x2="191.32" y2="1645.8" stroke="#000" stroke-width="2.3" stroke-linecap="butt"/>
<line x1="242.68" y1="1638.8" x2="242.68" y2="1645.8" stroke="#000" stroke-width="2.3" stroke-linecap="butt"/>
<line x1="294.04" y1="1638.8" x2="294.04" y2="1645.8" stroke="#000" stroke-width="2.3" stroke-linecap="butt"/>
<line x1="345.4" y1="1638.8" x2="345.4" y2="1645.8" stroke="#000" stroke-width="2.3" stroke-linecap="butt"/>
<text transform="translate(94.3 1650.4) rotate(-90)" font-size="15.7" text-anchor="end">Saline</text>
<text transform="translate(145.66 1646.2) rotate(-90)" font-size="15.7" text-anchor="end">Vehicle</text>
<text transform="translate(197.02 1650.4) rotate(-90)" font-size="15.7" text-anchor="end">Cisplatin</text>
<text transform="translate(248.38 1646.2) rotate(-90)" font-size="15.7" text-anchor="end">AZD0466</text>
<text transform="translate(299.74 1646.2) rotate(-90)" font-size="15.7" text-anchor="end">Cisplatin + Vehicle</text>
<text transform="translate(351.1 1646.2) rotate(-90)" font-size="15.7" text-anchor="end">Cisplatin + AZD0466</text>
<text transform="translate(27 1536.5) rotate(-90)" font-size="16.5" text-anchor="middle">BIM Score</text>
<line x1="85.8" y1="1413.2" x2="191.9" y2="1413.2" stroke="#000" stroke-width="2.4" stroke-linecap="butt"/>
<line x1="85.8" y1="1410.9" x2="85.8" y2="1415.5" stroke="#000" stroke-width="2.4" stroke-linecap="round"/>
<line x1="191.9" y1="1410.9" x2="191.9" y2="1415.5" stroke="#000" stroke-width="2.4" stroke-linecap="round"/>
<text x="138.85" y="1412" font-size="16.5" text-anchor="middle" stroke="#000" stroke-width="0.41">**</text>
<line x1="241.9" y1="1413.2" x2="347.5" y2="1413.2" stroke="#000" stroke-width="2.4" stroke-linecap="butt"/>
<line x1="241.9" y1="1410.9" x2="241.9" y2="1415.5" stroke="#000" stroke-width="2.4" stroke-linecap="round"/>
<line x1="347.5" y1="1410.9" x2="347.5" y2="1415.5" stroke="#000" stroke-width="2.4" stroke-linecap="round"/>
<text x="294.7" y="1412" font-size="16.5" text-anchor="middle" stroke="#000" stroke-width="0.41">***</text>
<line x1="294.1" y1="1434.3" x2="347.5" y2="1434.3" stroke="#000" stroke-width="2.4" stroke-linecap="butt"/>
<line x1="294.1" y1="1432" x2="294.1" y2="1436.6" stroke="#000" stroke-width="2.4" stroke-linecap="round"/>
<line x1="347.5" y1="1432" x2="347.5" y2="1436.6" stroke="#000" stroke-width="2.4" stroke-linecap="round"/>
<text x="320.8" y="1433" font-size="16.5" text-anchor="middle" stroke="#000" stroke-width="0.41">*</text>
<line x1="465.8" y1="1455.01" x2="465.8" y2="1432" stroke="#b6b6b6" stroke-width="2.7" stroke-linecap="butt"/>
<line x1="456.3" y1="1432" x2="475.3" y2="1432" stroke="#b6b6b6" stroke-width="2.7" stroke-linecap="round"/>
<rect x="449.15" y="1455.61" width="33.3" height="183.69" fill="#b6b6b6" stroke="#acacac" stroke-width="1.2"/>
<line x1="517.5" y1="1455.01" x2="517.5" y2="1432" stroke="#070a0c" stroke-width="2.7" stroke-linecap="butt"/>
<line x1="508" y1="1432" x2="527" y2="1432" stroke="#070a0c" stroke-width="2.7" stroke-linecap="round"/>
<rect x="500.85" y="1455.61" width="33.3" height="183.69" fill="#070a0c" stroke="#000000" stroke-width="1.2"/>
<line x1="569.2" y1="1455.01" x2="569.2" y2="1432" stroke="#7e6486" stroke-width="2.7" stroke-linecap="butt"/>
<line x1="559.7" y1="1432" x2="578.7" y2="1432" stroke="#7e6486" stroke-width="2.7" stroke-linecap="round"/>
<rect x="552.55" y="1455.61" width="33.3" height="183.69" fill="#7e6486" stroke="#735a7c" stroke-width="1.2"/>
<line x1="620.9" y1="1455.01" x2="620.9" y2="1432" stroke="#134677" stroke-width="2.7" stroke-linecap="butt"/>
<line x1="611.4" y1="1432" x2="630.4" y2="1432" stroke="#134677" stroke-width="2.7" stroke-linecap="round"/>
<rect x="604.25" y="1455.61" width="33.3" height="183.69" fill="#134677" stroke="#053b70" stroke-width="1.2"/>
<line x1="672.6" y1="1455.01" x2="672.6" y2="1432" stroke="#a0282a" stroke-width="2.7" stroke-linecap="butt"/>
<line x1="663.1" y1="1432" x2="682.1" y2="1432" stroke="#a0282a" stroke-width="2.7" stroke-linecap="round"/>
<rect x="655.95" y="1455.61" width="33.3" height="183.69" fill="#a0282a" stroke="#8f1c1f" stroke-width="1.2"/>
<line x1="724.3" y1="1455.01" x2="724.3" y2="1432" stroke="#1b8e8b" stroke-width="2.7" stroke-linecap="butt"/>
<line x1="714.8" y1="1432" x2="733.8" y2="1432" stroke="#1b8e8b" stroke-width="2.7" stroke-linecap="round"/>
<rect x="707.65" y="1455.61" width="33.3" height="183.69" fill="#1b8e8b" stroke="#12837f" stroke-width="1.2"/>
<line x1="440.5" y1="1639.85" x2="440.5" y2="1432" stroke="#000" stroke-width="2.3" stroke-linecap="butt"/>
<line x1="433.5" y1="1638.7" x2="440.5" y2="1638.7" stroke="#000" stroke-width="2.3" stroke-linecap="butt"/>
<text x="432.3" y="1644.58" font-size="16.8" text-anchor="end">0</text>
<line x1="433.5" y1="1569.8" x2="440.5" y2="1569.8" stroke="#000" stroke-width="2.3" stroke-linecap="butt"/>
<text x="432.3" y="1575.68" font-size="16.8" text-anchor="end">5</text>
<line x1="433.5" y1="1500.9" x2="440.5" y2="1500.9" stroke="#000" stroke-width="2.3" stroke-linecap="butt"/>
<text x="432.3" y="1506.78" font-size="16.8" text-anchor="end">10</text>
<line x1="433.5" y1="1432" x2="440.5" y2="1432" stroke="#000" stroke-width="2.3" stroke-linecap="butt"/>
<text x="432.3" y="1437.88" font-size="16.8" text-anchor="end">15</text>
<line x1="439.35" y1="1638.7" x2="749.4" y2="1638.7" stroke="#000" stroke-width="2.3" stroke-linecap="butt"/>
<line x1="465.8" y1="1638.7" x2="465.8" y2="1645.7" stroke="#000" stroke-width="2.3" stroke-linecap="butt"/>
<line x1="517.5" y1="1638.7" x2="517.5" y2="1645.7" stroke="#000" stroke-width="2.3" stroke-linecap="butt"/>
<line x1="569.2" y1="1638.7" x2="569.2" y2="1645.7" stroke="#000" stroke-width="2.3" stroke-linecap="butt"/>
<line x1="620.9" y1="1638.7" x2="620.9" y2="1645.7" stroke="#000" stroke-width="2.3" stroke-linecap="butt"/>
<line x1="672.6" y1="1638.7" x2="672.6" y2="1645.7" stroke="#000" stroke-width="2.3" stroke-linecap="butt"/>
<line x1="724.3" y1="1638.7" x2="724.3" y2="1645.7" stroke="#000" stroke-width="2.3" stroke-linecap="butt"/>
<text transform="translate(471.5 1650.5) rotate(-90)" font-size="15.7" text-anchor="end">Saline</text>
<text transform="translate(523.2 1645.7) rotate(-90)" font-size="15.7" text-anchor="end">Vehicle</text>
<text transform="translate(574.9 1650.5) rotate(-90)" font-size="15.7" text-anchor="end">Cisplatin</text>
<text transform="translate(626.6 1645.7) rotate(-90)" font-size="15.7" text-anchor="end">AZD0466</text>
<text transform="translate(678.3 1645.7) rotate(-90)" font-size="15.7" text-anchor="end">Cisplatin + Vehicle</text>
<text transform="translate(730 1645.7) rotate(-90)" font-size="15.7" text-anchor="end">Cisplatin + AZD0466</text>
<text transform="translate(402.1 1535.5) rotate(-90)" font-size="17" text-anchor="middle">BAK score</text>
<line x1="848.1" y1="1477.89" x2="848.1" y2="1455.01" stroke="#b6b6b6" stroke-width="2.7" stroke-linecap="butt"/>
<line x1="838.6" y1="1455.01" x2="857.6" y2="1455.01" stroke="#b6b6b6" stroke-width="2.7" stroke-linecap="round"/>
<rect x="831.45" y="1478.49" width="33.3" height="160.81" fill="#b6b6b6" stroke="#acacac" stroke-width="1.2"/>
<line x1="899.76" y1="1477.89" x2="899.76" y2="1455.01" stroke="#070a0c" stroke-width="2.7" stroke-linecap="butt"/>
<line x1="890.26" y1="1455.01" x2="909.26" y2="1455.01" stroke="#070a0c" stroke-width="2.7" stroke-linecap="round"/>
<rect x="883.11" y="1478.49" width="33.3" height="160.81" fill="#070a0c" stroke="#000000" stroke-width="1.2"/>
<line x1="951.42" y1="1477.89" x2="951.42" y2="1455.01" stroke="#7e6486" stroke-width="2.7" stroke-linecap="butt"/>
<line x1="941.92" y1="1455.01" x2="960.92" y2="1455.01" stroke="#7e6486" stroke-width="2.7" stroke-linecap="round"/>
<rect x="934.77" y="1478.49" width="33.3" height="160.81" fill="#7e6486" stroke="#735a7c" stroke-width="1.2"/>
<line x1="1003.08" y1="1477.89" x2="1003.08" y2="1455.01" stroke="#134677" stroke-width="2.7" stroke-linecap="butt"/>
<line x1="993.58" y1="1455.01" x2="1012.58" y2="1455.01" stroke="#134677" stroke-width="2.7" stroke-linecap="round"/>
<rect x="986.43" y="1478.49" width="33.3" height="160.81" fill="#134677" stroke="#053b70" stroke-width="1.2"/>
<line x1="1054.74" y1="1477.89" x2="1054.74" y2="1455.01" stroke="#a0282a" stroke-width="2.7" stroke-linecap="butt"/>
<line x1="1045.24" y1="1455.01" x2="1064.24" y2="1455.01" stroke="#a0282a" stroke-width="2.7" stroke-linecap="round"/>
<rect x="1038.09" y="1478.49" width="33.3" height="160.81" fill="#a0282a" stroke="#8f1c1f" stroke-width="1.2"/>
<line x1="1106.4" y1="1477.89" x2="1106.4" y2="1455.01" stroke="#1b8e8b" stroke-width="2.7" stroke-linecap="butt"/>
<line x1="1096.9" y1="1455.01" x2="1115.9" y2="1455.01" stroke="#1b8e8b" stroke-width="2.7" stroke-linecap="round"/>
<rect x="1089.75" y="1478.49" width="33.3" height="160.81" fill="#1b8e8b" stroke="#12837f" stroke-width="1.2"/>
<line x1="822.6" y1="1639.85" x2="822.6" y2="1432" stroke="#000" stroke-width="2.3" stroke-linecap="butt"/>
<line x1="815.6" y1="1638.7" x2="822.6" y2="1638.7" stroke="#000" stroke-width="2.3" stroke-linecap="butt"/>
<text x="814.5" y="1644.58" font-size="16.8" text-anchor="end">0</text>
<line x1="815.6" y1="1569.8" x2="822.6" y2="1569.8" stroke="#000" stroke-width="2.3" stroke-linecap="butt"/>
<text x="814.5" y="1575.68" font-size="16.8" text-anchor="end">5</text>
<line x1="815.6" y1="1500.9" x2="822.6" y2="1500.9" stroke="#000" stroke-width="2.3" stroke-linecap="butt"/>
<text x="814.5" y="1506.78" font-size="16.8" text-anchor="end">10</text>
<line x1="815.6" y1="1432" x2="822.6" y2="1432" stroke="#000" stroke-width="2.3" stroke-linecap="butt"/>
<text x="814.5" y="1437.88" font-size="16.8" text-anchor="end">15</text>
<line x1="821.45" y1="1638.7" x2="1132.2" y2="1638.7" stroke="#000" stroke-width="2.3" stroke-linecap="butt"/>
<line x1="848.1" y1="1638.7" x2="848.1" y2="1645.7" stroke="#000" stroke-width="2.3" stroke-linecap="butt"/>
<line x1="899.76" y1="1638.7" x2="899.76" y2="1645.7" stroke="#000" stroke-width="2.3" stroke-linecap="butt"/>
<line x1="951.42" y1="1638.7" x2="951.42" y2="1645.7" stroke="#000" stroke-width="2.3" stroke-linecap="butt"/>
<line x1="1003.08" y1="1638.7" x2="1003.08" y2="1645.7" stroke="#000" stroke-width="2.3" stroke-linecap="butt"/>
<line x1="1054.74" y1="1638.7" x2="1054.74" y2="1645.7" stroke="#000" stroke-width="2.3" stroke-linecap="butt"/>
<line x1="1106.4" y1="1638.7" x2="1106.4" y2="1645.7" stroke="#000" stroke-width="2.3" stroke-linecap="butt"/>
<text transform="translate(853.8 1650.5) rotate(-90)" font-size="15.7" text-anchor="end">Saline</text>
<text transform="translate(905.46 1645.7) rotate(-90)" font-size="15.7" text-anchor="end">Vehicle</text>
<text transform="translate(957.12 1650.5) rotate(-90)" font-size="15.7" text-anchor="end">Cisplatin</text>
<text transform="translate(1008.78 1645.7) rotate(-90)" font-size="15.7" text-anchor="end">AZD0466</text>
<text transform="translate(1060.44 1645.7) rotate(-90)" font-size="15.7" text-anchor="end">Cisplatin + Vehicle</text>
<text transform="translate(1112.1 1645.7) rotate(-90)" font-size="15.7" text-anchor="end">Cisplatin + AZD0466</text>
<text transform="translate(784.9 1535.5) rotate(-90)" font-size="17" text-anchor="middle">BAX score</text>
<line x1="968.8" y1="1592.9" x2="978.2" y2="1592.9" stroke="#000" stroke-width="2.6" stroke-linecap="butt"/>
<line x1="968.8" y1="1601.4" x2="978.2" y2="1601.4" stroke="#000" stroke-width="2.6" stroke-linecap="butt"/>
<line x1="968.8" y1="1609.8" x2="978.2" y2="1609.8" stroke="#000" stroke-width="2.6" stroke-linecap="butt"/>
<text x="1150.6" y="1021.1" font-size="38.5" font-weight="bold">F</text>
<line x1="1221.7" y1="1279.3" x2="1221.7" y2="1012.4" stroke="#000" stroke-width="3" stroke-linecap="butt"/>
<line x1="1213.7" y1="1277.8" x2="1221.7" y2="1277.8" stroke="#000" stroke-width="3" stroke-linecap="butt"/>
<text x="1210" y="1284.9" font-size="19.5" text-anchor="end">16</text>
<line x1="1213.7" y1="1224.72" x2="1221.7" y2="1224.72" stroke="#000" stroke-width="3" stroke-linecap="butt"/>
<text x="1210" y="1231.82" font-size="19.5" text-anchor="end">18</text>
<line x1="1213.7" y1="1171.64" x2="1221.7" y2="1171.64" stroke="#000" stroke-width="3" stroke-linecap="butt"/>
<text x="1210" y="1178.74" font-size="19.5" text-anchor="end">20</text>
<line x1="1213.7" y1="1118.56" x2="1221.7" y2="1118.56" stroke="#000" stroke-width="3" stroke-linecap="butt"/>
<text x="1210" y="1125.66" font-size="19.5" text-anchor="end">22</text>
<line x1="1213.7" y1="1065.48" x2="1221.7" y2="1065.48" stroke="#000" stroke-width="3" stroke-linecap="butt"/>
<text x="1210" y="1072.58" font-size="19.5" text-anchor="end">24</text>
<line x1="1213.7" y1="1012.4" x2="1221.7" y2="1012.4" stroke="#000" stroke-width="3" stroke-linecap="butt"/>
<text x="1210" y="1019.5" font-size="19.5" text-anchor="end">26</text>
<line x1="1220.2" y1="1277.8" x2="1621.5" y2="1277.8" stroke="#000" stroke-width="3" stroke-linecap="butt"/>
<line x1="1221.7" y1="1277.8" x2="1221.7" y2="1285.8" stroke="#000" stroke-width="3" stroke-linecap="butt"/>
<text x="1221.7" y="1305.8" font-size="19.5" text-anchor="middle">0</text>
<line x1="1301.4" y1="1277.8" x2="1301.4" y2="1285.8" stroke="#000" stroke-width="3" stroke-linecap="butt"/>
<text x="1301.4" y="1305.8" font-size="19.5" text-anchor="middle">10</text>
<line x1="1381.1" y1="1277.8" x2="1381.1" y2="1285.8" stroke="#000" stroke-width="3" stroke-linecap="butt"/>
<text x="1381.1" y="1305.8" font-size="19.5" text-anchor="middle">20</text>
<line x1="1460.8" y1="1277.8" x2="1460.8" y2="1285.8" stroke="#000" stroke-width="3" stroke-linecap="butt"/>
<text x="1460.8" y="1305.8" font-size="19.5" text-anchor="middle">30</text>
<line x1="1540.5" y1="1277.8" x2="1540.5" y2="1285.8" stroke="#000" stroke-width="3" stroke-linecap="butt"/>
<text x="1540.5" y="1305.8" font-size="19.5" text-anchor="middle">40</text>
<line x1="1620.2" y1="1277.8" x2="1620.2" y2="1285.8" stroke="#000" stroke-width="3" stroke-linecap="butt"/>
<text x="1620.2" y="1305.8" font-size="19.5" text-anchor="middle">50</text>
<text x="1422" y="1337.9" font-size="21" text-anchor="middle">Days</text>
<text transform="translate(1168.6 1145.5) rotate(-90)" font-size="21.6" text-anchor="middle">Mouse weight (g)</text>
<path d="M1222.5 1309.5 L1216.2 1320 L1228.8 1320 Z" fill="#222"/>
<line x1="1222.5" y1="1319" x2="1222.5" y2="1340.5" stroke="#222" stroke-width="2" stroke-linecap="butt"/>
<path d="M1286.3 1309.5 L1280 1320 L1292.6 1320 Z" fill="#222"/>
<line x1="1286.3" y1="1319" x2="1286.3" y2="1340.5" stroke="#222" stroke-width="2" stroke-linecap="butt"/>
<text x="1217.5" y="1357.7" font-size="14.4" text-anchor="middle">AZD0466</text>
<text x="1187.4" y="1374.8" font-size="14.4">Cisplatin</text>
<text x="1289.5" y="1357.7" font-size="14.4" text-anchor="middle">AZD0466</text>
<polyline points="1221.7,1126.52 1237.64,1135.81 1253.58,1123.87 1269.52,1147.75 1293.43,1131.83 1309.37,1142.45 1333.28,1145.1 1349.22,1153.06 1365.16,1137.14 1389.07,1155.72" fill="none" stroke="#b6b6b6" stroke-width="2.6" stroke-linejoin="round"/>
<line x1="1221.7" y1="1118.56" x2="1221.7" y2="1134.48" stroke="#b6b6b6" stroke-width="3" stroke-linecap="butt"/>
<line x1="1215.45" y1="1118.56" x2="1227.95" y2="1118.56" stroke="#b6b6b6" stroke-width="3" stroke-linecap="round"/>
<line x1="1215.45" y1="1134.48" x2="1227.95" y2="1134.48" stroke="#b6b6b6" stroke-width="3" stroke-linecap="round"/>
<line x1="1237.64" y1="1129.18" x2="1237.64" y2="1142.45" stroke="#b6b6b6" stroke-width="3" stroke-linecap="butt"/>
<line x1="1231.39" y1="1129.18" x2="1243.89" y2="1129.18" stroke="#b6b6b6" stroke-width="3" stroke-linecap="round"/>
<line x1="1231.39" y1="1142.45" x2="1243.89" y2="1142.45" stroke="#b6b6b6" stroke-width="3" stroke-linecap="round"/>
<line x1="1253.58" y1="1115.91" x2="1253.58" y2="1131.83" stroke="#b6b6b6" stroke-width="3" stroke-linecap="butt"/>
<line x1="1247.33" y1="1115.91" x2="1259.83" y2="1115.91" stroke="#b6b6b6" stroke-width="3" stroke-linecap="round"/>
<line x1="1247.33" y1="1131.83" x2="1259.83" y2="1131.83" stroke="#b6b6b6" stroke-width="3" stroke-linecap="round"/>
<line x1="1269.52" y1="1139.79" x2="1269.52" y2="1155.72" stroke="#b6b6b6" stroke-width="3" stroke-linecap="butt"/>
<line x1="1263.27" y1="1139.79" x2="1275.77" y2="1139.79" stroke="#b6b6b6" stroke-width="3" stroke-linecap="round"/>
<line x1="1263.27" y1="1155.72" x2="1275.77" y2="1155.72" stroke="#b6b6b6" stroke-width="3" stroke-linecap="round"/>
<line x1="1293.43" y1="1121.21" x2="1293.43" y2="1142.45" stroke="#b6b6b6" stroke-width="3" stroke-linecap="butt"/>
<line x1="1287.18" y1="1121.21" x2="1299.68" y2="1121.21" stroke="#b6b6b6" stroke-width="3" stroke-linecap="round"/>
<line x1="1287.18" y1="1142.45" x2="1299.68" y2="1142.45" stroke="#b6b6b6" stroke-width="3" stroke-linecap="round"/>
<line x1="1309.37" y1="1134.48" x2="1309.37" y2="1150.41" stroke="#b6b6b6" stroke-width="3" stroke-linecap="butt"/>
<line x1="1303.12" y1="1134.48" x2="1315.62" y2="1134.48" stroke="#b6b6b6" stroke-width="3" stroke-linecap="round"/>
<line x1="1303.12" y1="1150.41" x2="1315.62" y2="1150.41" stroke="#b6b6b6" stroke-width="3" stroke-linecap="round"/>
<line x1="1333.28" y1="1137.14" x2="1333.28" y2="1153.06" stroke="#b6b6b6" stroke-width="3" stroke-linecap="butt"/>
<line x1="1327.03" y1="1137.14" x2="1339.53" y2="1137.14" stroke="#b6b6b6" stroke-width="3" stroke-linecap="round"/>
<line x1="1327.03" y1="1153.06" x2="1339.53" y2="1153.06" stroke="#b6b6b6" stroke-width="3" stroke-linecap="round"/>
<line x1="1349.22" y1="1145.1" x2="1349.22" y2="1161.02" stroke="#b6b6b6" stroke-width="3" stroke-linecap="butt"/>
<line x1="1342.97" y1="1145.1" x2="1355.47" y2="1145.1" stroke="#b6b6b6" stroke-width="3" stroke-linecap="round"/>
<line x1="1342.97" y1="1161.02" x2="1355.47" y2="1161.02" stroke="#b6b6b6" stroke-width="3" stroke-linecap="round"/>
<line x1="1365.16" y1="1129.18" x2="1365.16" y2="1145.1" stroke="#b6b6b6" stroke-width="3" stroke-linecap="butt"/>
<line x1="1358.91" y1="1129.18" x2="1371.41" y2="1129.18" stroke="#b6b6b6" stroke-width="3" stroke-linecap="round"/>
<line x1="1358.91" y1="1145.1" x2="1371.41" y2="1145.1" stroke="#b6b6b6" stroke-width="3" stroke-linecap="round"/>
<line x1="1389.07" y1="1105.29" x2="1389.07" y2="1206.14" stroke="#b6b6b6" stroke-width="3" stroke-linecap="butt"/>
<line x1="1382.82" y1="1105.29" x2="1395.32" y2="1105.29" stroke="#b6b6b6" stroke-width="3" stroke-linecap="round"/>
<line x1="1382.82" y1="1206.14" x2="1395.32" y2="1206.14" stroke="#b6b6b6" stroke-width="3" stroke-linecap="round"/>
<circle cx="1221.7" cy="1126.52" r="5" fill="#b6b6b6"/>
<circle cx="1237.64" cy="1135.81" r="5" fill="#b6b6b6"/>
<circle cx="1253.58" cy="1123.87" r="5" fill="#b6b6b6"/>
<circle cx="1269.52" cy="1147.75" r="5" fill="#b6b6b6"/>
<circle cx="1293.43" cy="1131.83" r="5" fill="#b6b6b6"/>
<circle cx="1309.37" cy="1142.45" r="5" fill="#b6b6b6"/>
<circle cx="1333.28" cy="1145.1" r="5" fill="#b6b6b6"/>
<circle cx="1349.22" cy="1153.06" r="5" fill="#b6b6b6"/>
<circle cx="1365.16" cy="1137.14" r="5" fill="#b6b6b6"/>
<circle cx="1389.07" cy="1155.72" r="5" fill="#b6b6b6"/>
<polyline points="1221.7,1121.48 1237.64,1132.1 1253.58,1120.68 1269.52,1144.04 1293.43,1126.52 1309.37,1119.36 1333.28,1118.56 1349.22,1124.66 1365.16,1097.33 1389.07,1061.76" fill="none" stroke="#070a0c" stroke-width="2.6" stroke-linejoin="round"/>
<line x1="1221.7" y1="1114.31" x2="1221.7" y2="1128.65" stroke="#070a0c" stroke-width="3" stroke-linecap="butt"/>
<line x1="1215.45" y1="1114.31" x2="1227.95" y2="1114.31" stroke="#070a0c" stroke-width="3" stroke-linecap="round"/>
<line x1="1215.45" y1="1128.65" x2="1227.95" y2="1128.65" stroke="#070a0c" stroke-width="3" stroke-linecap="round"/>
<line x1="1237.64" y1="1122.54" x2="1237.64" y2="1141.65" stroke="#070a0c" stroke-width="3" stroke-linecap="butt"/>
<line x1="1231.39" y1="1122.54" x2="1243.89" y2="1122.54" stroke="#070a0c" stroke-width="3" stroke-linecap="round"/>
<line x1="1231.39" y1="1141.65" x2="1243.89" y2="1141.65" stroke="#070a0c" stroke-width="3" stroke-linecap="round"/>
<line x1="1253.58" y1="1111.39" x2="1253.58" y2="1129.97" stroke="#070a0c" stroke-width="3" stroke-linecap="butt"/>
<line x1="1247.33" y1="1111.39" x2="1259.83" y2="1111.39" stroke="#070a0c" stroke-width="3" stroke-linecap="round"/>
<line x1="1247.33" y1="1129.97" x2="1259.83" y2="1129.97" stroke="#070a0c" stroke-width="3" stroke-linecap="round"/>
<line x1="1269.52" y1="1132.89" x2="1269.52" y2="1155.19" stroke="#070a0c" stroke-width="3" stroke-linecap="butt"/>
<line x1="1263.27" y1="1132.89" x2="1275.77" y2="1132.89" stroke="#070a0c" stroke-width="3" stroke-linecap="round"/>
<line x1="1263.27" y1="1155.19" x2="1275.77" y2="1155.19" stroke="#070a0c" stroke-width="3" stroke-linecap="round"/>
<line x1="1293.43" y1="1107.94" x2="1293.43" y2="1145.1" stroke="#070a0c" stroke-width="3" stroke-linecap="butt"/>
<line x1="1287.18" y1="1107.94" x2="1299.68" y2="1107.94" stroke="#070a0c" stroke-width="3" stroke-linecap="round"/>
<line x1="1287.18" y1="1145.1" x2="1299.68" y2="1145.1" stroke="#070a0c" stroke-width="3" stroke-linecap="round"/>
<line x1="1309.37" y1="1097.33" x2="1309.37" y2="1141.38" stroke="#070a0c" stroke-width="3" stroke-linecap="butt"/>
<line x1="1303.12" y1="1097.33" x2="1315.62" y2="1097.33" stroke="#070a0c" stroke-width="3" stroke-linecap="round"/>
<line x1="1303.12" y1="1141.38" x2="1315.62" y2="1141.38" stroke="#070a0c" stroke-width="3" stroke-linecap="round"/>
<line x1="1333.28" y1="1096" x2="1333.28" y2="1141.12" stroke="#070a0c" stroke-width="3" stroke-linecap="butt"/>
<line x1="1327.03" y1="1096" x2="1339.53" y2="1096" stroke="#070a0c" stroke-width="3" stroke-linecap="round"/>
<line x1="1327.03" y1="1141.12" x2="1339.53" y2="1141.12" stroke="#070a0c" stroke-width="3" stroke-linecap="round"/>
<line x1="1349.22" y1="1108.21" x2="1349.22" y2="1141.12" stroke="#070a0c" stroke-width="3" stroke-linecap="butt"/>
<line x1="1342.97" y1="1108.21" x2="1355.47" y2="1108.21" stroke="#070a0c" stroke-width="3" stroke-linecap="round"/>
<line x1="1342.97" y1="1141.12" x2="1355.47" y2="1141.12" stroke="#070a0c" stroke-width="3" stroke-linecap="round"/>
<line x1="1365.16" y1="1079.81" x2="1365.16" y2="1114.84" stroke="#070a0c" stroke-width="3" stroke-linecap="butt"/>
<line x1="1358.91" y1="1079.81" x2="1371.41" y2="1079.81" stroke="#070a0c" stroke-width="3" stroke-linecap="round"/>
<line x1="1358.91" y1="1114.84" x2="1371.41" y2="1114.84" stroke="#070a0c" stroke-width="3" stroke-linecap="round"/>
<line x1="1389.07" y1="1048.49" x2="1389.07" y2="1075.03" stroke="#070a0c" stroke-width="3" stroke-linecap="butt"/>
<line x1="1382.82" y1="1048.49" x2="1395.32" y2="1048.49" stroke="#070a0c" stroke-width="3" stroke-linecap="round"/>
<line x1="1382.82" y1="1075.03" x2="1395.32" y2="1075.03" stroke="#070a0c" stroke-width="3" stroke-linecap="round"/>
<circle cx="1221.7" cy="1121.48" r="5" fill="#070a0c"/>
<circle cx="1237.64" cy="1132.1" r="5" fill="#070a0c"/>
<circle cx="1253.58" cy="1120.68" r="5" fill="#070a0c"/>
<circle cx="1269.52" cy="1144.04" r="5" fill="#070a0c"/>
<circle cx="1293.43" cy="1126.52" r="5" fill="#070a0c"/>
<circle cx="1309.37" cy="1119.36" r="5" fill="#070a0c"/>
<circle cx="1333.28" cy="1118.56" r="5" fill="#070a0c"/>
<circle cx="1349.22" cy="1124.66" r="5" fill="#070a0c"/>
<circle cx="1365.16" cy="1097.33" r="5" fill="#070a0c"/>
<circle cx="1389.07" cy="1061.76" r="5" fill="#070a0c"/>
<polyline points="1221.7,1174.29 1237.64,1190.22 1253.58,1176.95 1269.52,1176.95 1293.43,1166.33 1309.37,1174.29 1333.28,1163.68 1349.22,1182.26 1365.16,1166.33 1389.07,1150.41 1412.98,1179.6 1428.92,1158.37 1444.86,1163.68" fill="none" stroke="#7e6486" stroke-width="2.6" stroke-linejoin="round"/>
<line x1="1221.7" y1="1166.33" x2="1221.7" y2="1182.26" stroke="#7e6486" stroke-width="3" stroke-linecap="butt"/>
<line x1="1215.45" y1="1166.33" x2="1227.95" y2="1166.33" stroke="#7e6486" stroke-width="3" stroke-linecap="round"/>
<line x1="1215.45" y1="1182.26" x2="1227.95" y2="1182.26" stroke="#7e6486" stroke-width="3" stroke-linecap="round"/>
<line x1="1237.64" y1="1178.27" x2="1237.64" y2="1202.16" stroke="#7e6486" stroke-width="3" stroke-linecap="butt"/>
<line x1="1231.39" y1="1178.27" x2="1243.89" y2="1178.27" stroke="#7e6486" stroke-width="3" stroke-linecap="round"/>
<line x1="1231.39" y1="1202.16" x2="1243.89" y2="1202.16" stroke="#7e6486" stroke-width="3" stroke-linecap="round"/>
<line x1="1253.58" y1="1167.66" x2="1253.58" y2="1186.24" stroke="#7e6486" stroke-width="3" stroke-linecap="butt"/>
<line x1="1247.33" y1="1167.66" x2="1259.83" y2="1167.66" stroke="#7e6486" stroke-width="3" stroke-linecap="round"/>
<line x1="1247.33" y1="1186.24" x2="1259.83" y2="1186.24" stroke="#7e6486" stroke-width="3" stroke-linecap="round"/>
<line x1="1269.52" y1="1168.99" x2="1269.52" y2="1184.91" stroke="#7e6486" stroke-width="3" stroke-linecap="butt"/>
<line x1="1263.27" y1="1168.99" x2="1275.77" y2="1168.99" stroke="#7e6486" stroke-width="3" stroke-linecap="round"/>
<line x1="1263.27" y1="1184.91" x2="1275.77" y2="1184.91" stroke="#7e6486" stroke-width="3" stroke-linecap="round"/>
<line x1="1293.43" y1="1157.04" x2="1293.43" y2="1175.62" stroke="#7e6486" stroke-width="3" stroke-linecap="butt"/>
<line x1="1287.18" y1="1157.04" x2="1299.68" y2="1157.04" stroke="#7e6486" stroke-width="3" stroke-linecap="round"/>
<line x1="1287.18" y1="1175.62" x2="1299.68" y2="1175.62" stroke="#7e6486" stroke-width="3" stroke-linecap="round"/>
<line x1="1309.37" y1="1165" x2="1309.37" y2="1183.58" stroke="#7e6486" stroke-width="3" stroke-linecap="butt"/>
<line x1="1303.12" y1="1165" x2="1315.62" y2="1165" stroke="#7e6486" stroke-width="3" stroke-linecap="round"/>
<line x1="1303.12" y1="1183.58" x2="1315.62" y2="1183.58" stroke="#7e6486" stroke-width="3" stroke-linecap="round"/>
<line x1="1333.28" y1="1155.72" x2="1333.28" y2="1171.64" stroke="#7e6486" stroke-width="3" stroke-linecap="butt"/>
<line x1="1327.03" y1="1155.72" x2="1339.53" y2="1155.72" stroke="#7e6486" stroke-width="3" stroke-linecap="round"/>
<line x1="1327.03" y1="1171.64" x2="1339.53" y2="1171.64" stroke="#7e6486" stroke-width="3" stroke-linecap="round"/>
<line x1="1349.22" y1="1176.95" x2="1349.22" y2="1187.56" stroke="#7e6486" stroke-width="3" stroke-linecap="butt"/>
<line x1="1342.97" y1="1176.95" x2="1355.47" y2="1176.95" stroke="#7e6486" stroke-width="3" stroke-linecap="round"/>
<line x1="1342.97" y1="1187.56" x2="1355.47" y2="1187.56" stroke="#7e6486" stroke-width="3" stroke-linecap="round"/>
<line x1="1365.16" y1="1154.39" x2="1365.16" y2="1178.27" stroke="#7e6486" stroke-width="3" stroke-linecap="butt"/>
<line x1="1358.91" y1="1154.39" x2="1371.41" y2="1154.39" stroke="#7e6486" stroke-width="3" stroke-linecap="round"/>
<line x1="1358.91" y1="1178.27" x2="1371.41" y2="1178.27" stroke="#7e6486" stroke-width="3" stroke-linecap="round"/>
<line x1="1389.07" y1="1142.45" x2="1389.07" y2="1158.37" stroke="#7e6486" stroke-width="3" stroke-linecap="butt"/>
<line x1="1382.82" y1="1142.45" x2="1395.32" y2="1142.45" stroke="#7e6486" stroke-width="3" stroke-linecap="round"/>
<line x1="1382.82" y1="1158.37" x2="1395.32" y2="1158.37" stroke="#7e6486" stroke-width="3" stroke-linecap="round"/>
<line x1="1412.98" y1="1171.64" x2="1412.98" y2="1187.56" stroke="#7e6486" stroke-width="3" stroke-linecap="butt"/>
<line x1="1406.73" y1="1171.64" x2="1419.23" y2="1171.64" stroke="#7e6486" stroke-width="3" stroke-linecap="round"/>
<line x1="1406.73" y1="1187.56" x2="1419.23" y2="1187.56" stroke="#7e6486" stroke-width="3" stroke-linecap="round"/>
<line x1="1428.92" y1="1153.06" x2="1428.92" y2="1163.68" stroke="#7e6486" stroke-width="3" stroke-linecap="butt"/>
<line x1="1422.67" y1="1153.06" x2="1435.17" y2="1153.06" stroke="#7e6486" stroke-width="3" stroke-linecap="round"/>
<line x1="1422.67" y1="1163.68" x2="1435.17" y2="1163.68" stroke="#7e6486" stroke-width="3" stroke-linecap="round"/>
<line x1="1444.86" y1="1155.72" x2="1444.86" y2="1171.64" stroke="#7e6486" stroke-width="3" stroke-linecap="butt"/>
<line x1="1438.61" y1="1155.72" x2="1451.11" y2="1155.72" stroke="#7e6486" stroke-width="3" stroke-linecap="round"/>
<line x1="1438.61" y1="1171.64" x2="1451.11" y2="1171.64" stroke="#7e6486" stroke-width="3" stroke-linecap="round"/>
<circle cx="1221.7" cy="1174.29" r="5" fill="#7e6486"/>
<circle cx="1237.64" cy="1190.22" r="5" fill="#7e6486"/>
<circle cx="1253.58" cy="1176.95" r="5" fill="#7e6486"/>
<circle cx="1269.52" cy="1176.95" r="5" fill="#7e6486"/>
<circle cx="1293.43" cy="1166.33" r="5" fill="#7e6486"/>
<circle cx="1309.37" cy="1174.29" r="5" fill="#7e6486"/>
<circle cx="1333.28" cy="1163.68" r="5" fill="#7e6486"/>
<circle cx="1349.22" cy="1182.26" r="5" fill="#7e6486"/>
<circle cx="1365.16" cy="1166.33" r="5" fill="#7e6486"/>
<circle cx="1389.07" cy="1150.41" r="5" fill="#7e6486"/>
<circle cx="1412.98" cy="1179.6" r="5" fill="#7e6486"/>
<circle cx="1428.92" cy="1158.37" r="5" fill="#7e6486"/>
<circle cx="1444.86" cy="1163.68" r="5" fill="#7e6486"/>
<polyline points="1221.7,1153.06 1237.64,1137.14 1253.58,1129.18 1269.52,1147.75 1293.43,1145.1 1309.37,1145.1 1333.28,1161.02 1349.22,1174.29 1365.16,1147.75 1389.07,1145.1 1412.98,1163.68 1428.92,1155.72 1444.86,1161.02 1460.8,1166.33 1476.74,1182.26" fill="none" stroke="#134677" stroke-width="2.6" stroke-linejoin="round"/>
<line x1="1221.7" y1="1143.77" x2="1221.7" y2="1162.35" stroke="#134677" stroke-width="3" stroke-linecap="butt"/>
<line x1="1215.45" y1="1143.77" x2="1227.95" y2="1143.77" stroke="#134677" stroke-width="3" stroke-linecap="round"/>
<line x1="1215.45" y1="1162.35" x2="1227.95" y2="1162.35" stroke="#134677" stroke-width="3" stroke-linecap="round"/>
<line x1="1237.64" y1="1129.18" x2="1237.64" y2="1145.1" stroke="#134677" stroke-width="3" stroke-linecap="butt"/>
<line x1="1231.39" y1="1129.18" x2="1243.89" y2="1129.18" stroke="#134677" stroke-width="3" stroke-linecap="round"/>
<line x1="1231.39" y1="1145.1" x2="1243.89" y2="1145.1" stroke="#134677" stroke-width="3" stroke-linecap="round"/>
<line x1="1253.58" y1="1121.21" x2="1253.58" y2="1137.14" stroke="#134677" stroke-width="3" stroke-linecap="butt"/>
<line x1="1247.33" y1="1121.21" x2="1259.83" y2="1121.21" stroke="#134677" stroke-width="3" stroke-linecap="round"/>
<line x1="1247.33" y1="1137.14" x2="1259.83" y2="1137.14" stroke="#134677" stroke-width="3" stroke-linecap="round"/>
<line x1="1269.52" y1="1139.79" x2="1269.52" y2="1155.72" stroke="#134677" stroke-width="3" stroke-linecap="butt"/>
<line x1="1263.27" y1="1139.79" x2="1275.77" y2="1139.79" stroke="#134677" stroke-width="3" stroke-linecap="round"/>
<line x1="1263.27" y1="1155.72" x2="1275.77" y2="1155.72" stroke="#134677" stroke-width="3" stroke-linecap="round"/>
<line x1="1293.43" y1="1137.14" x2="1293.43" y2="1153.06" stroke="#134677" stroke-width="3" stroke-linecap="butt"/>
<line x1="1287.18" y1="1137.14" x2="1299.68" y2="1137.14" stroke="#134677" stroke-width="3" stroke-linecap="round"/>
<line x1="1287.18" y1="1153.06" x2="1299.68" y2="1153.06" stroke="#134677" stroke-width="3" stroke-linecap="round"/>
<line x1="1309.37" y1="1137.14" x2="1309.37" y2="1153.06" stroke="#134677" stroke-width="3" stroke-linecap="butt"/>
<line x1="1303.12" y1="1137.14" x2="1315.62" y2="1137.14" stroke="#134677" stroke-width="3" stroke-linecap="round"/>
<line x1="1303.12" y1="1153.06" x2="1315.62" y2="1153.06" stroke="#134677" stroke-width="3" stroke-linecap="round"/>
<line x1="1333.28" y1="1150.41" x2="1333.28" y2="1171.64" stroke="#134677" stroke-width="3" stroke-linecap="butt"/>
<line x1="1327.03" y1="1150.41" x2="1339.53" y2="1150.41" stroke="#134677" stroke-width="3" stroke-linecap="round"/>
<line x1="1327.03" y1="1171.64" x2="1339.53" y2="1171.64" stroke="#134677" stroke-width="3" stroke-linecap="round"/>
<line x1="1349.22" y1="1166.33" x2="1349.22" y2="1182.26" stroke="#134677" stroke-width="3" stroke-linecap="butt"/>
<line x1="1342.97" y1="1166.33" x2="1355.47" y2="1166.33" stroke="#134677" stroke-width="3" stroke-linecap="round"/>
<line x1="1342.97" y1="1182.26" x2="1355.47" y2="1182.26" stroke="#134677" stroke-width="3" stroke-linecap="round"/>
<line x1="1365.16" y1="1138.46" x2="1365.16" y2="1157.04" stroke="#134677" stroke-width="3" stroke-linecap="butt"/>
<line x1="1358.91" y1="1138.46" x2="1371.41" y2="1138.46" stroke="#134677" stroke-width="3" stroke-linecap="round"/>
<line x1="1358.91" y1="1157.04" x2="1371.41" y2="1157.04" stroke="#134677" stroke-width="3" stroke-linecap="round"/>
<line x1="1389.07" y1="1137.14" x2="1389.07" y2="1153.06" stroke="#134677" stroke-width="3" stroke-linecap="butt"/>
<line x1="1382.82" y1="1137.14" x2="1395.32" y2="1137.14" stroke="#134677" stroke-width="3" stroke-linecap="round"/>
<line x1="1382.82" y1="1153.06" x2="1395.32" y2="1153.06" stroke="#134677" stroke-width="3" stroke-linecap="round"/>
<line x1="1412.98" y1="1155.72" x2="1412.98" y2="1171.64" stroke="#134677" stroke-width="3" stroke-linecap="butt"/>
<line x1="1406.73" y1="1155.72" x2="1419.23" y2="1155.72" stroke="#134677" stroke-width="3" stroke-linecap="round"/>
<line x1="1406.73" y1="1171.64" x2="1419.23" y2="1171.64" stroke="#134677" stroke-width="3" stroke-linecap="round"/>
<line x1="1428.92" y1="1147.75" x2="1428.92" y2="1163.68" stroke="#134677" stroke-width="3" stroke-linecap="butt"/>
<line x1="1422.67" y1="1147.75" x2="1435.17" y2="1147.75" stroke="#134677" stroke-width="3" stroke-linecap="round"/>
<line x1="1422.67" y1="1163.68" x2="1435.17" y2="1163.68" stroke="#134677" stroke-width="3" stroke-linecap="round"/>
<line x1="1444.86" y1="1153.06" x2="1444.86" y2="1168.99" stroke="#134677" stroke-width="3" stroke-linecap="butt"/>
<line x1="1438.61" y1="1153.06" x2="1451.11" y2="1153.06" stroke="#134677" stroke-width="3" stroke-linecap="round"/>
<line x1="1438.61" y1="1168.99" x2="1451.11" y2="1168.99" stroke="#134677" stroke-width="3" stroke-linecap="round"/>
<line x1="1460.8" y1="1158.37" x2="1460.8" y2="1174.29" stroke="#134677" stroke-width="3" stroke-linecap="butt"/>
<line x1="1454.55" y1="1158.37" x2="1467.05" y2="1158.37" stroke="#134677" stroke-width="3" stroke-linecap="round"/>
<line x1="1454.55" y1="1174.29" x2="1467.05" y2="1174.29" stroke="#134677" stroke-width="3" stroke-linecap="round"/>
<line x1="1476.74" y1="1174.29" x2="1476.74" y2="1190.22" stroke="#134677" stroke-width="3" stroke-linecap="butt"/>
<line x1="1470.49" y1="1174.29" x2="1482.99" y2="1174.29" stroke="#134677" stroke-width="3" stroke-linecap="round"/>
<line x1="1470.49" y1="1190.22" x2="1482.99" y2="1190.22" stroke="#134677" stroke-width="3" stroke-linecap="round"/>
<circle cx="1221.7" cy="1153.06" r="5" fill="#134677"/>
<circle cx="1237.64" cy="1137.14" r="5" fill="#134677"/>
<circle cx="1253.58" cy="1129.18" r="5" fill="#134677"/>
<circle cx="1269.52" cy="1147.75" r="5" fill="#134677"/>
<circle cx="1293.43" cy="1145.1" r="5" fill="#134677"/>
<circle cx="1309.37" cy="1145.1" r="5" fill="#134677"/>
<circle cx="1333.28" cy="1161.02" r="5" fill="#134677"/>
<circle cx="1349.22" cy="1174.29" r="5" fill="#134677"/>
<circle cx="1365.16" cy="1147.75" r="5" fill="#134677"/>
<circle cx="1389.07" cy="1145.1" r="5" fill="#134677"/>
<circle cx="1412.98" cy="1163.68" r="5" fill="#134677"/>
<circle cx="1428.92" cy="1155.72" r="5" fill="#134677"/>
<circle cx="1444.86" cy="1161.02" r="5" fill="#134677"/>
<circle cx="1460.8" cy="1166.33" r="5" fill="#134677"/>
<circle cx="1476.74" cy="1182.26" r="5" fill="#134677"/>
<polyline points="1221.7,1158.9 1237.64,1168.99 1253.58,1166.33 1269.52,1161.82 1293.43,1149.35 1309.37,1157.04 1333.28,1156.25 1349.22,1163.68 1365.16,1150.41 1389.07,1144.04 1412.98,1146.69 1428.92,1116.44 1444.86,1109.8" fill="none" stroke="#1b8e8b" stroke-width="2.6" stroke-linejoin="round"/>
<line x1="1221.7" y1="1152.27" x2="1221.7" y2="1165.54" stroke="#1b8e8b" stroke-width="3" stroke-linecap="butt"/>
<line x1="1215.45" y1="1152.27" x2="1227.95" y2="1152.27" stroke="#1b8e8b" stroke-width="3" stroke-linecap="round"/>
<line x1="1215.45" y1="1165.54" x2="1227.95" y2="1165.54" stroke="#1b8e8b" stroke-width="3" stroke-linecap="round"/>
<line x1="1237.64" y1="1159.7" x2="1237.64" y2="1178.27" stroke="#1b8e8b" stroke-width="3" stroke-linecap="butt"/>
<line x1="1231.39" y1="1159.7" x2="1243.89" y2="1159.7" stroke="#1b8e8b" stroke-width="3" stroke-linecap="round"/>
<line x1="1231.39" y1="1178.27" x2="1243.89" y2="1178.27" stroke="#1b8e8b" stroke-width="3" stroke-linecap="round"/>
<line x1="1253.58" y1="1154.39" x2="1253.58" y2="1178.27" stroke="#1b8e8b" stroke-width="3" stroke-linecap="butt"/>
<line x1="1247.33" y1="1154.39" x2="1259.83" y2="1154.39" stroke="#1b8e8b" stroke-width="3" stroke-linecap="round"/>
<line x1="1247.33" y1="1178.27" x2="1259.83" y2="1178.27" stroke="#1b8e8b" stroke-width="3" stroke-linecap="round"/>
<line x1="1269.52" y1="1153.86" x2="1269.52" y2="1169.78" stroke="#1b8e8b" stroke-width="3" stroke-linecap="butt"/>
<line x1="1263.27" y1="1153.86" x2="1275.77" y2="1153.86" stroke="#1b8e8b" stroke-width="3" stroke-linecap="round"/>
<line x1="1263.27" y1="1169.78" x2="1275.77" y2="1169.78" stroke="#1b8e8b" stroke-width="3" stroke-linecap="round"/>
<line x1="1293.43" y1="1136.08" x2="1293.43" y2="1162.62" stroke="#1b8e8b" stroke-width="3" stroke-linecap="butt"/>
<line x1="1287.18" y1="1136.08" x2="1299.68" y2="1136.08" stroke="#1b8e8b" stroke-width="3" stroke-linecap="round"/>
<line x1="1287.18" y1="1162.62" x2="1299.68" y2="1162.62" stroke="#1b8e8b" stroke-width="3" stroke-linecap="round"/>
<line x1="1309.37" y1="1143.77" x2="1309.37" y2="1170.31" stroke="#1b8e8b" stroke-width="3" stroke-linecap="butt"/>
<line x1="1303.12" y1="1143.77" x2="1315.62" y2="1143.77" stroke="#1b8e8b" stroke-width="3" stroke-linecap="round"/>
<line x1="1303.12" y1="1170.31" x2="1315.62" y2="1170.31" stroke="#1b8e8b" stroke-width="3" stroke-linecap="round"/>
<line x1="1333.28" y1="1129.71" x2="1333.28" y2="1182.79" stroke="#1b8e8b" stroke-width="3" stroke-linecap="butt"/>
<line x1="1327.03" y1="1129.71" x2="1339.53" y2="1129.71" stroke="#1b8e8b" stroke-width="3" stroke-linecap="round"/>
<line x1="1327.03" y1="1182.79" x2="1339.53" y2="1182.79" stroke="#1b8e8b" stroke-width="3" stroke-linecap="round"/>
<line x1="1349.22" y1="1153.06" x2="1349.22" y2="1174.29" stroke="#1b8e8b" stroke-width="3" stroke-linecap="butt"/>
<line x1="1342.97" y1="1153.06" x2="1355.47" y2="1153.06" stroke="#1b8e8b" stroke-width="3" stroke-linecap="round"/>
<line x1="1342.97" y1="1174.29" x2="1355.47" y2="1174.29" stroke="#1b8e8b" stroke-width="3" stroke-linecap="round"/>
<line x1="1365.16" y1="1139.79" x2="1365.16" y2="1161.02" stroke="#1b8e8b" stroke-width="3" stroke-linecap="butt"/>
<line x1="1358.91" y1="1139.79" x2="1371.41" y2="1139.79" stroke="#1b8e8b" stroke-width="3" stroke-linecap="round"/>
<line x1="1358.91" y1="1161.02" x2="1371.41" y2="1161.02" stroke="#1b8e8b" stroke-width="3" stroke-linecap="round"/>
<line x1="1389.07" y1="1130.77" x2="1389.07" y2="1157.31" stroke="#1b8e8b" stroke-width="3" stroke-linecap="butt"/>
<line x1="1382.82" y1="1130.77" x2="1395.32" y2="1130.77" stroke="#1b8e8b" stroke-width="3" stroke-linecap="round"/>
<line x1="1382.82" y1="1157.31" x2="1395.32" y2="1157.31" stroke="#1b8e8b" stroke-width="3" stroke-linecap="round"/>
<line x1="1412.98" y1="1136.08" x2="1412.98" y2="1157.31" stroke="#1b8e8b" stroke-width="3" stroke-linecap="butt"/>
<line x1="1406.73" y1="1136.08" x2="1419.23" y2="1136.08" stroke="#1b8e8b" stroke-width="3" stroke-linecap="round"/>
<line x1="1406.73" y1="1157.31" x2="1419.23" y2="1157.31" stroke="#1b8e8b" stroke-width="3" stroke-linecap="round"/>
<line x1="1428.92" y1="1108.47" x2="1428.92" y2="1124.4" stroke="#1b8e8b" stroke-width="3" stroke-linecap="butt"/>
<line x1="1422.67" y1="1108.47" x2="1435.17" y2="1108.47" stroke="#1b8e8b" stroke-width="3" stroke-linecap="round"/>
<line x1="1422.67" y1="1124.4" x2="1435.17" y2="1124.4" stroke="#1b8e8b" stroke-width="3" stroke-linecap="round"/>
<line x1="1444.86" y1="1101.84" x2="1444.86" y2="1117.76" stroke="#1b8e8b" stroke-width="3" stroke-linecap="butt"/>
<line x1="1438.61" y1="1101.84" x2="1451.11" y2="1101.84" stroke="#1b8e8b" stroke-width="3" stroke-linecap="round"/>
<line x1="1438.61" y1="1117.76" x2="1451.11" y2="1117.76" stroke="#1b8e8b" stroke-width="3" stroke-linecap="round"/>
<circle cx="1221.7" cy="1158.9" r="5" fill="#1b8e8b"/>
<circle cx="1237.64" cy="1168.99" r="5" fill="#1b8e8b"/>
<circle cx="1253.58" cy="1166.33" r="5" fill="#1b8e8b"/>
<circle cx="1269.52" cy="1161.82" r="5" fill="#1b8e8b"/>
<circle cx="1293.43" cy="1149.35" r="5" fill="#1b8e8b"/>
<circle cx="1309.37" cy="1157.04" r="5" fill="#1b8e8b"/>
<circle cx="1333.28" cy="1156.25" r="5" fill="#1b8e8b"/>
<circle cx="1349.22" cy="1163.68" r="5" fill="#1b8e8b"/>
<circle cx="1365.16" cy="1150.41" r="5" fill="#1b8e8b"/>
<circle cx="1389.07" cy="1144.04" r="5" fill="#1b8e8b"/>
<circle cx="1412.98" cy="1146.69" r="5" fill="#1b8e8b"/>
<circle cx="1428.92" cy="1116.44" r="5" fill="#1b8e8b"/>
<circle cx="1444.86" cy="1109.8" r="5" fill="#1b8e8b"/>
<polyline points="1221.7,1140.59 1237.64,1163.68 1253.58,1153.59 1269.52,1162.35 1293.43,1127.58 1309.37,1139 1333.28,1137.14 1349.22,1149.35 1365.16,1132.89 1389.07,1151.47 1412.98,1167.13 1428.92,1146.69 1444.86,1146.69 1460.8,1149.35 1476.74,1163.68 1500.65,1163.68 1516.59,1187.56 1532.53,1171.64 1556.44,1068.13 1572.38,1065.48 1588.32,1068.13 1604.26,1105.29" fill="none" stroke="#a0282a" stroke-width="2.6" stroke-linejoin="round"/>
<line x1="1221.7" y1="1127.32" x2="1221.7" y2="1153.86" stroke="#a0282a" stroke-width="3" stroke-linecap="butt"/>
<line x1="1215.45" y1="1127.32" x2="1227.95" y2="1127.32" stroke="#a0282a" stroke-width="3" stroke-linecap="round"/>
<line x1="1215.45" y1="1153.86" x2="1227.95" y2="1153.86" stroke="#a0282a" stroke-width="3" stroke-linecap="round"/>
<line x1="1237.64" y1="1145.1" x2="1237.64" y2="1182.26" stroke="#a0282a" stroke-width="3" stroke-linecap="butt"/>
<line x1="1231.39" y1="1145.1" x2="1243.89" y2="1145.1" stroke="#a0282a" stroke-width="3" stroke-linecap="round"/>
<line x1="1231.39" y1="1182.26" x2="1243.89" y2="1182.26" stroke="#a0282a" stroke-width="3" stroke-linecap="round"/>
<line x1="1253.58" y1="1135.01" x2="1253.58" y2="1172.17" stroke="#a0282a" stroke-width="3" stroke-linecap="butt"/>
<line x1="1247.33" y1="1135.01" x2="1259.83" y2="1135.01" stroke="#a0282a" stroke-width="3" stroke-linecap="round"/>
<line x1="1247.33" y1="1172.17" x2="1259.83" y2="1172.17" stroke="#a0282a" stroke-width="3" stroke-linecap="round"/>
<line x1="1269.52" y1="1146.43" x2="1269.52" y2="1178.27" stroke="#a0282a" stroke-width="3" stroke-linecap="butt"/>
<line x1="1263.27" y1="1146.43" x2="1275.77" y2="1146.43" stroke="#a0282a" stroke-width="3" stroke-linecap="round"/>
<line x1="1263.27" y1="1178.27" x2="1275.77" y2="1178.27" stroke="#a0282a" stroke-width="3" stroke-linecap="round"/>
<line x1="1293.43" y1="1111.66" x2="1293.43" y2="1143.51" stroke="#a0282a" stroke-width="3" stroke-linecap="butt"/>
<line x1="1287.18" y1="1111.66" x2="1299.68" y2="1111.66" stroke="#a0282a" stroke-width="3" stroke-linecap="round"/>
<line x1="1287.18" y1="1143.51" x2="1299.68" y2="1143.51" stroke="#a0282a" stroke-width="3" stroke-linecap="round"/>
<line x1="1309.37" y1="1125.73" x2="1309.37" y2="1152.27" stroke="#a0282a" stroke-width="3" stroke-linecap="butt"/>
<line x1="1303.12" y1="1125.73" x2="1315.62" y2="1125.73" stroke="#a0282a" stroke-width="3" stroke-linecap="round"/>
<line x1="1303.12" y1="1152.27" x2="1315.62" y2="1152.27" stroke="#a0282a" stroke-width="3" stroke-linecap="round"/>
<line x1="1333.28" y1="1121.21" x2="1333.28" y2="1153.06" stroke="#a0282a" stroke-width="3" stroke-linecap="butt"/>
<line x1="1327.03" y1="1121.21" x2="1339.53" y2="1121.21" stroke="#a0282a" stroke-width="3" stroke-linecap="round"/>
<line x1="1327.03" y1="1153.06" x2="1339.53" y2="1153.06" stroke="#a0282a" stroke-width="3" stroke-linecap="round"/>
<line x1="1349.22" y1="1138.73" x2="1349.22" y2="1159.96" stroke="#a0282a" stroke-width="3" stroke-linecap="butt"/>
<line x1="1342.97" y1="1138.73" x2="1355.47" y2="1138.73" stroke="#a0282a" stroke-width="3" stroke-linecap="round"/>
<line x1="1342.97" y1="1159.96" x2="1355.47" y2="1159.96" stroke="#a0282a" stroke-width="3" stroke-linecap="round"/>
<line x1="1365.16" y1="1119.62" x2="1365.16" y2="1146.16" stroke="#a0282a" stroke-width="3" stroke-linecap="butt"/>
<line x1="1358.91" y1="1119.62" x2="1371.41" y2="1119.62" stroke="#a0282a" stroke-width="3" stroke-linecap="round"/>
<line x1="1358.91" y1="1146.16" x2="1371.41" y2="1146.16" stroke="#a0282a" stroke-width="3" stroke-linecap="round"/>
<line x1="1389.07" y1="1131.56" x2="1389.07" y2="1171.37" stroke="#a0282a" stroke-width="3" stroke-linecap="butt"/>
<line x1="1382.82" y1="1131.56" x2="1395.32" y2="1131.56" stroke="#a0282a" stroke-width="3" stroke-linecap="round"/>
<line x1="1382.82" y1="1171.37" x2="1395.32" y2="1171.37" stroke="#a0282a" stroke-width="3" stroke-linecap="round"/>
<line x1="1412.98" y1="1149.88" x2="1412.98" y2="1184.38" stroke="#a0282a" stroke-width="3" stroke-linecap="butt"/>
<line x1="1406.73" y1="1149.88" x2="1419.23" y2="1149.88" stroke="#a0282a" stroke-width="3" stroke-linecap="round"/>
<line x1="1406.73" y1="1184.38" x2="1419.23" y2="1184.38" stroke="#a0282a" stroke-width="3" stroke-linecap="round"/>
<line x1="1428.92" y1="1124.13" x2="1428.92" y2="1169.25" stroke="#a0282a" stroke-width="3" stroke-linecap="butt"/>
<line x1="1422.67" y1="1124.13" x2="1435.17" y2="1124.13" stroke="#a0282a" stroke-width="3" stroke-linecap="round"/>
<line x1="1422.67" y1="1169.25" x2="1435.17" y2="1169.25" stroke="#a0282a" stroke-width="3" stroke-linecap="round"/>
<line x1="1444.86" y1="1120.15" x2="1444.86" y2="1173.23" stroke="#a0282a" stroke-width="3" stroke-linecap="butt"/>
<line x1="1438.61" y1="1120.15" x2="1451.11" y2="1120.15" stroke="#a0282a" stroke-width="3" stroke-linecap="round"/>
<line x1="1438.61" y1="1173.23" x2="1451.11" y2="1173.23" stroke="#a0282a" stroke-width="3" stroke-linecap="round"/>
<line x1="1460.8" y1="1122.81" x2="1460.8" y2="1175.89" stroke="#a0282a" stroke-width="3" stroke-linecap="butt"/>
<line x1="1454.55" y1="1122.81" x2="1467.05" y2="1122.81" stroke="#a0282a" stroke-width="3" stroke-linecap="round"/>
<line x1="1454.55" y1="1175.89" x2="1467.05" y2="1175.89" stroke="#a0282a" stroke-width="3" stroke-linecap="round"/>
<line x1="1476.74" y1="1142.45" x2="1476.74" y2="1184.91" stroke="#a0282a" stroke-width="3" stroke-linecap="butt"/>
<line x1="1470.49" y1="1142.45" x2="1482.99" y2="1142.45" stroke="#a0282a" stroke-width="3" stroke-linecap="round"/>
<line x1="1470.49" y1="1184.91" x2="1482.99" y2="1184.91" stroke="#a0282a" stroke-width="3" stroke-linecap="round"/>
<line x1="1500.65" y1="1142.45" x2="1500.65" y2="1184.91" stroke="#a0282a" stroke-width="3" stroke-linecap="butt"/>
<line x1="1494.4" y1="1142.45" x2="1506.9" y2="1142.45" stroke="#a0282a" stroke-width="3" stroke-linecap="round"/>
<line x1="1494.4" y1="1184.91" x2="1506.9" y2="1184.91" stroke="#a0282a" stroke-width="3" stroke-linecap="round"/>
<line x1="1516.59" y1="1141.12" x2="1516.59" y2="1234.01" stroke="#a0282a" stroke-width="3" stroke-linecap="butt"/>
<line x1="1510.34" y1="1141.12" x2="1522.84" y2="1141.12" stroke="#a0282a" stroke-width="3" stroke-linecap="round"/>
<line x1="1510.34" y1="1234.01" x2="1522.84" y2="1234.01" stroke="#a0282a" stroke-width="3" stroke-linecap="round"/>
<line x1="1532.53" y1="1105.29" x2="1532.53" y2="1237.99" stroke="#a0282a" stroke-width="3" stroke-linecap="butt"/>
<line x1="1526.28" y1="1105.29" x2="1538.78" y2="1105.29" stroke="#a0282a" stroke-width="3" stroke-linecap="round"/>
<line x1="1526.28" y1="1237.99" x2="1538.78" y2="1237.99" stroke="#a0282a" stroke-width="3" stroke-linecap="round"/>
<circle cx="1221.7" cy="1140.59" r="5" fill="#a0282a"/>
<circle cx="1237.64" cy="1163.68" r="5" fill="#a0282a"/>
<circle cx="1253.58" cy="1153.59" r="5" fill="#a0282a"/>
<circle cx="1269.52" cy="1162.35" r="5" fill="#a0282a"/>
<circle cx="1293.43" cy="1127.58" r="5" fill="#a0282a"/>
<circle cx="1309.37" cy="1139" r="5" fill="#a0282a"/>
<circle cx="1333.28" cy="1137.14" r="5" fill="#a0282a"/>
<circle cx="1349.22" cy="1149.35" r="5" fill="#a0282a"/>
<circle cx="1365.16" cy="1132.89" r="5" fill="#a0282a"/>
<circle cx="1389.07" cy="1151.47" r="5" fill="#a0282a"/>
<circle cx="1412.98" cy="1167.13" r="5" fill="#a0282a"/>
<circle cx="1428.92" cy="1146.69" r="5" fill="#a0282a"/>
<circle cx="1444.86" cy="1146.69" r="5" fill="#a0282a"/>
<circle cx="1460.8" cy="1149.35" r="5" fill="#a0282a"/>
<circle cx="1476.74" cy="1163.68" r="5" fill="#a0282a"/>
<circle cx="1500.65" cy="1163.68" r="5" fill="#a0282a"/>
<circle cx="1516.59" cy="1187.56" r="5" fill="#a0282a"/>
<circle cx="1532.53" cy="1171.64" r="5" fill="#a0282a"/>
<circle cx="1556.44" cy="1068.13" r="5" fill="#a0282a"/>
<circle cx="1572.38" cy="1065.48" r="5" fill="#a0282a"/>
<circle cx="1588.32" cy="1068.13" r="5" fill="#a0282a"/>
<circle cx="1604.26" cy="1105.29" r="5" fill="#a0282a"/>
<line x1="1657.4" y1="1071" x2="1684.9" y2="1071" stroke="#b6b6b6" stroke-width="3" stroke-linecap="round"/>
<circle cx="1671.1" cy="1071" r="5.2" fill="#b6b6b6"/>
<text x="1701.3" y="1078.6" font-size="21.4">Saline</text>
<line x1="1657.4" y1="1104.2" x2="1684.9" y2="1104.2" stroke="#070a0c" stroke-width="3" stroke-linecap="round"/>
<circle cx="1671.1" cy="1104.2" r="5.2" fill="#070a0c"/>
<text x="1701.3" y="1111.8" font-size="21.4">Vehicle</text>
<line x1="1657.4" y1="1137.4" x2="1684.9" y2="1137.4" stroke="#7e6486" stroke-width="3" stroke-linecap="round"/>
<circle cx="1671.1" cy="1137.4" r="5.2" fill="#7e6486"/>
<text x="1701.3" y="1145" font-size="21.4">Cisplatin</text>
<line x1="1657.4" y1="1170.6" x2="1684.9" y2="1170.6" stroke="#134677" stroke-width="3" stroke-linecap="round"/>
<circle cx="1671.1" cy="1170.6" r="5.2" fill="#134677"/>
<text x="1701.3" y="1178.2" font-size="21.4">AZD0466</text>
<line x1="1657.4" y1="1203.8" x2="1684.9" y2="1203.8" stroke="#1b8e8b" stroke-width="3" stroke-linecap="round"/>
<circle cx="1671.1" cy="1203.8" r="5.2" fill="#1b8e8b"/>
<text x="1701.3" y="1211.4" font-size="21.4">Cisplatin + Vehicle</text>
<line x1="1657.4" y1="1237" x2="1684.9" y2="1237" stroke="#a0282a" stroke-width="3" stroke-linecap="round"/>
<circle cx="1671.1" cy="1237" r="5.2" fill="#a0282a"/>
<text x="1701.3" y="1244.6" font-size="21.4">Cisplatin + AZD0466</text>
<text x="1152" y="1427.6" font-size="38.5" font-weight="bold">G</text>
<line x1="1273.4" y1="1708" x2="1273.4" y2="1432.9" stroke="#000" stroke-width="3" stroke-linecap="butt"/>
<line x1="1265.4" y1="1706.5" x2="1273.4" y2="1706.5" stroke="#000" stroke-width="3" stroke-linecap="butt"/>
<text x="1263" y="1713.9" font-size="20.5" text-anchor="end">0</text>
<line x1="1265.4" y1="1667.41" x2="1273.4" y2="1667.41" stroke="#000" stroke-width="3" stroke-linecap="butt"/>
<text x="1263" y="1674.81" font-size="20.5" text-anchor="end">200</text>
<line x1="1265.4" y1="1628.33" x2="1273.4" y2="1628.33" stroke="#000" stroke-width="3" stroke-linecap="butt"/>
<text x="1263" y="1635.73" font-size="20.5" text-anchor="end">400</text>
<line x1="1265.4" y1="1589.24" x2="1273.4" y2="1589.24" stroke="#000" stroke-width="3" stroke-linecap="butt"/>
<text x="1263" y="1596.64" font-size="20.5" text-anchor="end">600</text>
<line x1="1265.4" y1="1550.16" x2="1273.4" y2="1550.16" stroke="#000" stroke-width="3" stroke-linecap="butt"/>
<text x="1263" y="1557.56" font-size="20.5" text-anchor="end">800</text>
<line x1="1265.4" y1="1511.07" x2="1273.4" y2="1511.07" stroke="#000" stroke-width="3" stroke-linecap="butt"/>
<text x="1263" y="1518.47" font-size="20.5" text-anchor="end">1000</text>
<line x1="1265.4" y1="1471.99" x2="1273.4" y2="1471.99" stroke="#000" stroke-width="3" stroke-linecap="butt"/>
<text x="1263" y="1479.39" font-size="20.5" text-anchor="end">1200</text>
<line x1="1265.4" y1="1432.9" x2="1273.4" y2="1432.9" stroke="#000" stroke-width="3" stroke-linecap="butt"/>
<text x="1263" y="1440.3" font-size="20.5" text-anchor="end">1400</text>
<line x1="1271.9" y1="1706.5" x2="1682" y2="1706.5" stroke="#000" stroke-width="3" stroke-linecap="butt"/>
<line x1="1300.9" y1="1706.5" x2="1300.9" y2="1714.5" stroke="#000" stroke-width="3" stroke-linecap="butt"/>
<line x1="1359.45" y1="1706.5" x2="1359.45" y2="1714.5" stroke="#000" stroke-width="3" stroke-linecap="butt"/>
<line x1="1418" y1="1706.5" x2="1418" y2="1714.5" stroke="#000" stroke-width="3" stroke-linecap="butt"/>
<line x1="1476.55" y1="1706.5" x2="1476.55" y2="1714.5" stroke="#000" stroke-width="3" stroke-linecap="butt"/>
<line x1="1535.1" y1="1706.5" x2="1535.1" y2="1714.5" stroke="#000" stroke-width="3" stroke-linecap="butt"/>
<line x1="1593.65" y1="1706.5" x2="1593.65" y2="1714.5" stroke="#000" stroke-width="3" stroke-linecap="butt"/>
<line x1="1652.2" y1="1706.5" x2="1652.2" y2="1714.5" stroke="#000" stroke-width="3" stroke-linecap="butt"/>
<text transform="translate(1308.9 1722.5) rotate(-90)" font-size="20.8" text-anchor="end">Saline</text>
<text transform="translate(1367.45 1716.7) rotate(-90)" font-size="20.8" text-anchor="end">Vehicle</text>
<text transform="translate(1426 1722.5) rotate(-90)" font-size="20.8" text-anchor="end">Cisplatin</text>
<text transform="translate(1484.55 1716.7) rotate(-90)" font-size="20.8" text-anchor="end">AZD0466</text>
<text transform="translate(1543.1 1716.7) rotate(-90)" font-size="20.8" text-anchor="end">Cisplatin + Vehicle</text>
<text transform="translate(1601.65 1716.7) rotate(-90)" font-size="20.8" text-anchor="end">Cisplatin + AZD0466</text>
<text transform="translate(1660.2 1716.7) rotate(-90)" font-size="20.8" text-anchor="end">Cisplatin + AZD0466 (3w)</text>
<text transform="translate(1195.8 1569.3) rotate(-90)" font-size="22.5" text-anchor="middle">Platelets (x 10<tspan dy="-8.5" font-size="14.5">3</tspan><tspan dy="8.5">/μL)</tspan></text>
<circle cx="1300.9" cy="1479.41" r="5.6" fill="#aaaaaa"/>
<circle cx="1300.9" cy="1531.79" r="5.6" fill="#aaaaaa"/>
<circle cx="1300.9" cy="1549.57" r="5.6" fill="#aaaaaa"/>
<line x1="1300.9" y1="1498.76" x2="1300.9" y2="1540.97" stroke="#000" stroke-width="1.9" stroke-linecap="butt"/>
<line x1="1295.65" y1="1498.76" x2="1306.15" y2="1498.76" stroke="#000" stroke-width="1.9" stroke-linecap="round"/>
<line x1="1295.65" y1="1540.97" x2="1306.15" y2="1540.97" stroke="#000" stroke-width="1.9" stroke-linecap="round"/>
<line x1="1281.4" y1="1519.87" x2="1320.4" y2="1519.87" stroke="#aaaaaa" stroke-width="3" stroke-linecap="butt"/>
<circle cx="1359.45" cy="1461.24" r="5.6" fill="#070a0c"/>
<circle cx="1359.45" cy="1493.68" r="5.6" fill="#070a0c"/>
<circle cx="1359.45" cy="1540.39" r="5.6" fill="#070a0c"/>
<line x1="1359.45" y1="1475.11" x2="1359.45" y2="1521.62" stroke="#000" stroke-width="1.9" stroke-linecap="butt"/>
<line x1="1354.2" y1="1475.11" x2="1364.7" y2="1475.11" stroke="#000" stroke-width="1.9" stroke-linecap="round"/>
<line x1="1354.2" y1="1521.62" x2="1364.7" y2="1521.62" stroke="#000" stroke-width="1.9" stroke-linecap="round"/>
<line x1="1339.95" y1="1498.37" x2="1378.95" y2="1498.37" stroke="#070a0c" stroke-width="3" stroke-linecap="butt"/>
<circle cx="1418" cy="1508.14" r="5.6" fill="#7e6486"/>
<circle cx="1404" cy="1535.3" r="5.6" fill="#7e6486"/>
<circle cx="1432" cy="1534.72" r="5.6" fill="#7e6486"/>
<line x1="1418" y1="1516.93" x2="1418" y2="1535.3" stroke="#000" stroke-width="1.9" stroke-linecap="butt"/>
<line x1="1412.75" y1="1516.93" x2="1423.25" y2="1516.93" stroke="#000" stroke-width="1.9" stroke-linecap="round"/>
<line x1="1412.75" y1="1535.3" x2="1423.25" y2="1535.3" stroke="#000" stroke-width="1.9" stroke-linecap="round"/>
<line x1="1398.5" y1="1525.73" x2="1437.5" y2="1525.73" stroke="#7e6486" stroke-width="3" stroke-linecap="butt"/>
<circle cx="1476.55" cy="1504.04" r="5.6" fill="#134677"/>
<circle cx="1476.55" cy="1515.76" r="5.6" fill="#134677"/>
<circle cx="1476.55" cy="1544.1" r="5.6" fill="#134677"/>
<line x1="1476.55" y1="1508.34" x2="1476.55" y2="1531.98" stroke="#000" stroke-width="1.9" stroke-linecap="butt"/>
<line x1="1471.3" y1="1508.34" x2="1481.8" y2="1508.34" stroke="#000" stroke-width="1.9" stroke-linecap="round"/>
<line x1="1471.3" y1="1531.98" x2="1481.8" y2="1531.98" stroke="#000" stroke-width="1.9" stroke-linecap="round"/>
<line x1="1457.05" y1="1520.84" x2="1496.05" y2="1520.84" stroke="#134677" stroke-width="3" stroke-linecap="butt"/>
<circle cx="1535.1" cy="1510.29" r="5.6" fill="#a0282a"/>
<circle cx="1535.1" cy="1527.88" r="5.6" fill="#a0282a"/>
<circle cx="1535.1" cy="1560.32" r="5.6" fill="#a0282a"/>
<line x1="1535.1" y1="1517.91" x2="1535.1" y2="1547.62" stroke="#000" stroke-width="1.9" stroke-linecap="butt"/>
<line x1="1529.85" y1="1517.91" x2="1540.35" y2="1517.91" stroke="#000" stroke-width="1.9" stroke-linecap="round"/>
<line x1="1529.85" y1="1547.62" x2="1540.35" y2="1547.62" stroke="#000" stroke-width="1.9" stroke-linecap="round"/>
<line x1="1515.6" y1="1531.98" x2="1554.6" y2="1531.98" stroke="#a0282a" stroke-width="3" stroke-linecap="butt"/>
<circle cx="1593.65" cy="1579.67" r="5.6" fill="#1b8e8b"/>
<circle cx="1579.65" cy="1597.26" r="5.6" fill="#1b8e8b"/>
<circle cx="1607.65" cy="1591.78" r="5.6" fill="#1b8e8b"/>
<line x1="1593.65" y1="1584.94" x2="1593.65" y2="1595.69" stroke="#000" stroke-width="1.9" stroke-linecap="butt"/>
<line x1="1588.4" y1="1584.94" x2="1598.9" y2="1584.94" stroke="#000" stroke-width="1.9" stroke-linecap="round"/>
<line x1="1588.4" y1="1595.69" x2="1598.9" y2="1595.69" stroke="#000" stroke-width="1.9" stroke-linecap="round"/>
<line x1="1574.15" y1="1589.83" x2="1613.15" y2="1589.83" stroke="#1b8e8b" stroke-width="3" stroke-linecap="butt"/>
<circle cx="1652.2" cy="1464.36" r="5.6" fill="#aaaaaa"/>
<circle cx="1638.2" cy="1485.08" r="5.6" fill="#aaaaaa"/>
<circle cx="1666.2" cy="1483.71" r="5.6" fill="#aaaaaa"/>
<line x1="1652.2" y1="1471.01" x2="1652.2" y2="1484.49" stroke="#000" stroke-width="1.9" stroke-linecap="butt"/>
<line x1="1646.95" y1="1471.01" x2="1657.45" y2="1471.01" stroke="#000" stroke-width="1.9" stroke-linecap="round"/>
<line x1="1646.95" y1="1484.49" x2="1657.45" y2="1484.49" stroke="#000" stroke-width="1.9" stroke-linecap="round"/>
<line x1="1632.7" y1="1478.04" x2="1671.7" y2="1478.04" stroke="#aaaaaa" stroke-width="3" stroke-linecap="butt"/>
<line x1="1362" y1="1403.4" x2="1481" y2="1403.4" stroke="#000" stroke-width="3" stroke-linecap="butt"/>
<line x1="1362" y1="1399.65" x2="1362" y2="1407.15" stroke="#000" stroke-width="3" stroke-linecap="round"/>
<line x1="1481" y1="1399.65" x2="1481" y2="1407.15" stroke="#000" stroke-width="3" stroke-linecap="round"/>
<text x="1424.6" y="1398" font-size="18" text-anchor="middle">n.s.</text>
<line x1="1300.3" y1="1432" x2="1419" y2="1432" stroke="#000" stroke-width="3" stroke-linecap="butt"/>
<line x1="1300.3" y1="1428.25" x2="1300.3" y2="1435.75" stroke="#000" stroke-width="3" stroke-linecap="round"/>
<line x1="1419" y1="1428.25" x2="1419" y2="1435.75" stroke="#000" stroke-width="3" stroke-linecap="round"/>
<text x="1363.1" y="1426.5" font-size="18" text-anchor="middle">n.s.</text>
<line x1="1480.4" y1="1424.6" x2="1594.6" y2="1424.6" stroke="#000" stroke-width="3" stroke-linecap="butt"/>
<line x1="1480.4" y1="1420.85" x2="1480.4" y2="1428.35" stroke="#000" stroke-width="3" stroke-linecap="round"/>
<line x1="1594.6" y1="1420.85" x2="1594.6" y2="1428.35" stroke="#000" stroke-width="3" stroke-linecap="round"/>
<text x="1537.5" y="1425.5" font-size="21" text-anchor="middle" stroke="#000" stroke-width="0.53">**</text>
<line x1="1593.7" y1="1442.9" x2="1651.3" y2="1442.9" stroke="#000" stroke-width="3" stroke-linecap="butt"/>
<line x1="1593.7" y1="1439.15" x2="1593.7" y2="1446.65" stroke="#000" stroke-width="3" stroke-linecap="round"/>
<line x1="1651.3" y1="1439.15" x2="1651.3" y2="1446.65" stroke="#000" stroke-width="3" stroke-linecap="round"/>
<text x="1622.5" y="1444" font-size="21" text-anchor="middle" stroke="#000" stroke-width="0.53">***</text>
<line x1="1536.2" y1="1485.7" x2="1596.1" y2="1485.7" stroke="#000" stroke-width="3" stroke-linecap="butt"/>
<line x1="1536.2" y1="1481.95" x2="1536.2" y2="1489.45" stroke="#000" stroke-width="3" stroke-linecap="round"/>
<line x1="1596.1" y1="1481.95" x2="1596.1" y2="1489.45" stroke="#000" stroke-width="3" stroke-linecap="round"/>
<text x="1566.15" y="1486.6" font-size="21" text-anchor="middle" stroke="#000" stroke-width="0.53">*</text>
</svg></body></html>
